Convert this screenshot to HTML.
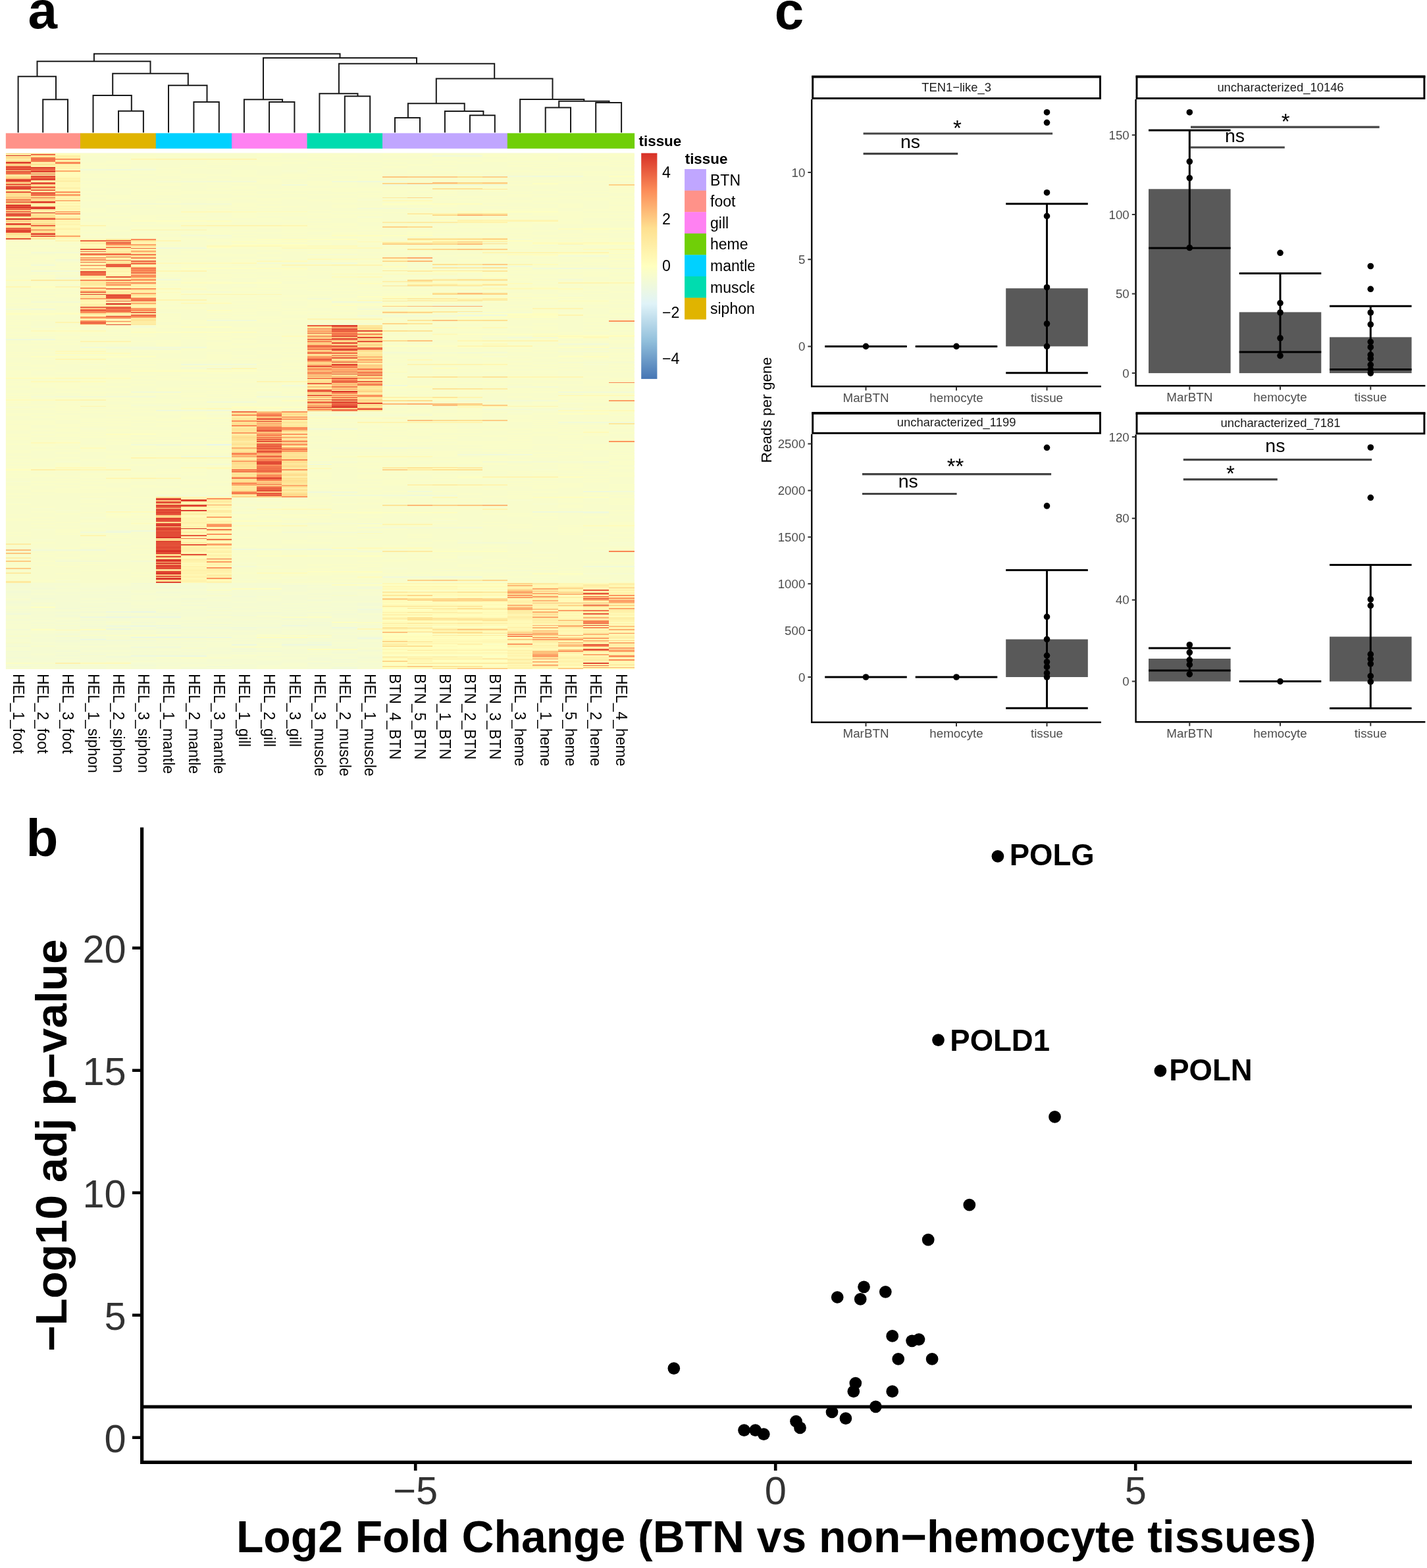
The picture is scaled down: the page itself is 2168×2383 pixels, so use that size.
<!DOCTYPE html><html><head><meta charset="utf-8"><title>figure</title><style>html,body{margin:0;padding:0;background:#fff}svg{display:block}text{font-family:"Liberation Sans",Arial,sans-serif}</style></head><body>
<svg width="2168" height="2383" viewBox="0 0 2168 2383">
<rect width="2168" height="2383" fill="#fff"/>
<text x="42.4" y="43" font-size="80" font-weight="bold">a</text>
<text x="1176.7" y="43.6" font-size="80" font-weight="bold">c</text>
<text x="39.5" y="1300.6" font-size="80" font-weight="bold">b</text>
<rect x="8.8" y="232.5" width="955" height="784.3" fill="#f8fccb"/>
<g shape-rendering="crispEdges">
<path fill="#fedb8d" d="M8.8 232.5h37.7v1.9h-37.7zM8.8 239h37.7v1.9h-37.7zM8.8 243.9h37.7v1.9h-37.7zM656.9 278.3h38v1.9h-38zM46.5 279.9h37.4v1.9h-37.4zM8.8 293h37.7v1.9h-37.7zM656.9 325.6h38v1.9h-38zM46.5 338.7h37.4v1.9h-37.4zM46.5 340.3h37.4v1.9h-37.4zM619 343.6h37.9v1.9h-37.9zM46.5 350.1h37.4v1.9h-37.4zM732.9 369.8h37.9v1.9h-37.9zM581 395.9h38v1.9h-38zM732.9 444.9h37.9v1.9h-37.9zM466.5 516.8h76.9v1.9h-76.9zM581 516.8h38v1.9h-38zM504.2 518.4h39.2v1.9h-39.2zM466.5 539.7h37.7v1.9h-37.7zM543.4 543h37.6v1.9h-37.6zM543.4 547.9h37.6v1.9h-37.6zM466.5 549.5h37.7v1.9h-37.7zM466.5 569.1h37.7v1.9h-37.7zM543.4 572.4h37.6v1.9h-37.6zM619 608.3h37.9v1.9h-37.9zM543.4 614.8h37.6v1.9h-37.6zM466.5 619.7h37.7v1.9h-37.7zM352 627.9h37.7v1.9h-37.7zM428.3 629.6h38.2v1.9h-38.2zM352 637.7h37.7v1.9h-37.7zM656.9 637.7h38v1.9h-38zM428.3 654.1h38.2v1.9h-38.2zM428.3 662.2h38.2v1.9h-38.2zM352 663.9h37.7v1.9h-37.7zM428.3 688.4h38.2v1.9h-38.2zM352 691.6h37.7v1.9h-37.7zM428.3 693.3h38.2v1.9h-38.2zM428.3 701.4h38.2v1.9h-38.2zM352 703.1h37.7v1.9h-37.7zM428.3 708h38.2v1.9h-38.2zM352 719.4h37.7v1.9h-37.7zM428.3 721.1h38.2v1.9h-38.2zM428.3 729.2h38.2v1.9h-38.2zM352 737.4h37.7v1.9h-37.7zM352 740.7h37.7v1.9h-37.7zM428.3 752.1h38.2v1.9h-38.2zM236.8 783.1h38.4v1.9h-38.4zM236.8 820.7h38.4v1.9h-38.4zM236.8 842h38.4v1.9h-38.4zM236.8 843.6h38.4v1.9h-38.4zM236.8 846.9h38.4v1.9h-38.4zM236.8 881.2h38.4v1.9h-38.4zM656.9 909h38v1.9h-38zM732.9 909h37.9v1.9h-37.9zM694.9 920.4h38v1.9h-38zM694.9 941.6h38v1.9h-38zM656.9 956.3h38v1.9h-38zM619 959.6h37.9v1.9h-37.9zM732.9 1000.5h37.9v1.9h-37.9z"/>
<path fill="#fee89b" d="M46.5 232.5h37.4v1.9h-37.4zM46.5 261.9h37.4v1.9h-37.4zM732.9 286.4h37.9v1.9h-37.9zM8.8 289.7h37.7v1.9h-37.7zM732.9 324h37.9v1.9h-37.9zM8.8 359.9h37.7v1.9h-37.7zM46.5 361.6h37.4v1.9h-37.4zM161 366.5h38v1.9h-38zM199 379.6h37.8v1.9h-37.8zM161 381.2h38v1.9h-38zM122 387.7h39v1.9h-39zM161 391h38v1.9h-38zM161 399.2h38v1.9h-38zM581 410.6h38v1.9h-38zM122 428.6h39v1.9h-39zM122 430.2h77v1.9h-77zM656.9 433.5h38v1.9h-38zM199 440h37.8v1.9h-37.8zM122 451.5h39v1.9h-39zM581 456.4h38v1.9h-38zM656.9 456.4h38v1.9h-38zM656.9 472.7h38v1.9h-38zM199 484.1h37.8v1.9h-37.8zM199 492.3h37.8v1.9h-37.8zM543.4 495.6h37.6v1.9h-37.6zM543.4 500.5h37.6v1.9h-37.6zM466.5 538.1h37.7v1.9h-37.7zM504.2 569.1h39.2v1.9h-39.2zM466.5 583.8h37.7v1.9h-37.7zM466.5 598.5h37.7v1.9h-37.7zM543.4 613.2h37.6v1.9h-37.6zM543.4 623h37.6v1.9h-37.6zM428.3 631.2h38.2v1.9h-38.2zM352 636.1h37.7v1.9h-37.7zM924.5 642.6h39.3v1.9h-39.3zM428.3 645.9h38.2v1.9h-38.2zM352 672h37.7v1.9h-37.7zM352 711.2h37.7v1.9h-37.7zM428.3 722.7h38.2v1.9h-38.2zM428.3 734.1h38.2v1.9h-38.2zM428.3 735.8h38.2v1.9h-38.2zM428.3 747.2h38.2v1.9h-38.2zM236.8 755.4h38.4v1.9h-38.4zM236.8 864.8h38.4v1.9h-38.4zM694.9 881.2h38v1.9h-38zM732.9 899.2h37.9v1.9h-37.9zM581 904.1h38v1.9h-38zM694.9 930.2h38v1.9h-38zM694.9 938.4h38v1.9h-38zM694.9 940h75.9v1.9h-75.9zM656.9 946.5h38v1.9h-38zM619 954.7h37.9v1.9h-37.9zM694.9 954.7h75.9v1.9h-75.9zM656.9 1000.5h76v1.9h-76zM656.9 1015.2h38v1.9h-38z"/>
<path fill="#fffcbb" d="M83.9 232.5h38.1v1.9h-38.1zM83.9 234.1h38.1v1.9h-38.1zM83.9 261.9h38.1v1.9h-38.1zM83.9 265.2h38.1v1.9h-38.1zM83.9 286.4h38.1v1.9h-38.1zM83.9 309.3h38.1v1.9h-38.1zM352 320.7h114.5v1.9h-114.5zM83.9 325.6h38.1v1.9h-38.1zM83.9 343.6h38.1v1.9h-38.1zM83.9 353.4h38.1v1.9h-38.1zM581 366.5h38v1.9h-38zM809.4 368.1h76.5v1.9h-76.5zM924.5 368.1h39.3v1.9h-39.3zM428.3 373h38.2v1.9h-38.2zM885.9 377.9h38.6v1.9h-38.6zM770.8 386.1h77.2v1.9h-77.2zM504.2 392.6h76.8v1.9h-76.8zM428.3 395.9h38.2v1.9h-38.2zM275.2 399.2h76.8v1.9h-76.8zM809.4 400.8h38.6v1.9h-38.6zM504.2 415.5h39.2v1.9h-39.2zM504.2 420.4h39.2v1.9h-39.2zM8.8 425.3h37.7v1.9h-37.7zM694.9 430.2h38v1.9h-38zM770.8 430.2h38.6v1.9h-38.6zM732.9 436.7h115.1v1.9h-115.1zM275.2 438.4h38.4v1.9h-38.4zM694.9 438.4h38v1.9h-38zM809.4 438.4h76.5v1.9h-76.5zM236.8 443.3h38.4v1.9h-38.4zM543.4 456.4h37.6v1.9h-37.6zM848 456.4h76.5v1.9h-76.5zM313.6 459.6h38.4v1.9h-38.4zM656.9 497.2h76v1.9h-76zM83.9 502.1h38.1v1.9h-38.1zM428.3 510.3h38.2v1.9h-38.2zM809.4 510.3h38.6v1.9h-38.6zM924.5 510.3h39.3v1.9h-39.3zM83.9 536.4h115.1v1.9h-115.1zM581 564.2h38v1.9h-38zM8.8 574h75.1v1.9h-75.1zM161 574h38v1.9h-38zM122 578.9h39v1.9h-39zM8.8 606.7h75.1v1.9h-75.1zM275.2 619.7h38.4v1.9h-38.4zM352 619.7h76.3v1.9h-76.3zM848 623h76.5v1.9h-76.5zM466.5 634.5h114.5v1.9h-114.5zM83.9 672h38.1v1.9h-38.1zM122 680.2h39v1.9h-39zM504.2 693.3h39.2v1.9h-39.2zM466.5 706.3h37.7v1.9h-37.7zM275.2 709.6h38.4v1.9h-38.4zM313.6 711.2h38.4v1.9h-38.4zM619 711.2h37.9v1.9h-37.9zM389.7 773.3h38.6v1.9h-38.6zM199 776.6h37.8v1.9h-37.8zM275.2 783.1h38.4v1.9h-38.4zM313.6 788h38.4v1.9h-38.4zM199 794.6h37.8v1.9h-37.8zM352 797.8h76.3v1.9h-76.3zM885.9 797.8h77.9v1.9h-77.9zM275.2 809.3h38.4v1.9h-38.4zM543.4 809.3h37.6v1.9h-37.6zM504.2 832.2h39.2v1.9h-39.2zM581 832.2h75.9v1.9h-75.9zM275.2 845.2h38.4v1.9h-38.4zM275.2 846.9h38.4v1.9h-38.4zM275.2 858.3h38.4v1.9h-38.4zM389.7 869.7h76.8v1.9h-76.8zM543.4 876.3h37.6v1.9h-37.6zM313.6 881.2h38.4v1.9h-38.4zM694.9 889.4h75.9v1.9h-75.9zM848 897.5h37.9v1.9h-37.9zM924.5 897.5h39.3v1.9h-39.3zM581 900.8h189.8v1.9h-189.8zM619 902.4h37.9v1.9h-37.9zM848 904.1h37.9v1.9h-37.9zM848 905.7h37.9v1.9h-37.9zM848 909h37.9v1.9h-37.9zM848 912.2h37.9v1.9h-37.9zM619 913.9h37.9v1.9h-37.9zM581 917.1h75.9v1.9h-75.9zM694.9 917.1h75.9v1.9h-75.9zM656.9 922h38v1.9h-38zM732.9 922h37.9v1.9h-37.9zM848 922h37.9v1.9h-37.9zM619 928.6h151.8v1.9h-151.8zM656.9 931.8h113.9v1.9h-113.9zM694.9 933.5h38v1.9h-38zM848 936.7h37.9v1.9h-37.9zM924.5 936.7h39.3v1.9h-39.3zM581 943.3h38v1.9h-38zM694.9 943.3h75.9v1.9h-75.9zM924.5 944.9h39.3v1.9h-39.3zM924.5 949.8h39.3v1.9h-39.3zM694.9 953.1h75.9v1.9h-75.9zM619 956.3h37.9v1.9h-37.9zM581 958h38v1.9h-38zM848 962.9h37.9v1.9h-37.9zM466.5 964.5h37.7v1.9h-37.7zM770.8 964.5h38.6v1.9h-38.6zM581 966.1h151.9v1.9h-151.9zM581 967.8h75.9v1.9h-75.9zM694.9 967.8h75.9v1.9h-75.9zM619 971h37.9v1.9h-37.9zM694.9 971h38v1.9h-38zM924.5 971h39.3v1.9h-39.3zM770.8 972.7h38.6v1.9h-38.6zM848 974.3h37.9v1.9h-37.9zM581 976h75.9v1.9h-75.9zM694.9 976h38v1.9h-38zM848 977.6h37.9v1.9h-37.9zM581 979.2h38v1.9h-38zM694.9 979.2h75.9v1.9h-75.9zM656.9 980.9h38v1.9h-38zM619 982.5h75.9v1.9h-75.9zM770.8 984.1h38.6v1.9h-38.6zM656.9 989h38v1.9h-38zM848 993.9h37.9v1.9h-37.9zM656.9 998.8h76v1.9h-76zM694.9 1003.7h38v1.9h-38zM770.8 1003.7h38.6v1.9h-38.6zM581 1008.6h38v1.9h-38zM656.9 1008.6h38v1.9h-38zM732.9 1008.6h37.9v1.9h-37.9zM848 1011.9h37.9v1.9h-37.9zM924.5 1011.9h39.3v1.9h-39.3z"/>
<path fill="#fafdc8" d="M275.2 232.5h38.4v1.9h-38.4zM389.7 232.5h76.8v1.9h-76.8zM581 232.5h38v1.9h-38zM885.9 232.5h38.6v1.9h-38.6zM122 234.1h39v1.9h-39zM389.7 234.1h38.6v1.9h-38.6zM466.5 234.1h37.7v1.9h-37.7zM581 234.1h75.9v1.9h-75.9zM732.9 234.1h37.9v1.9h-37.9zM809.4 234.1h38.6v1.9h-38.6zM885.9 234.1h77.9v1.9h-77.9zM199 235.8h76.2v1.9h-76.2zM389.7 235.8h38.6v1.9h-38.6zM504.2 235.8h39.2v1.9h-39.2zM732.9 235.8h76.5v1.9h-76.5zM848 235.8h37.9v1.9h-37.9zM924.5 235.8h39.3v1.9h-39.3zM161 237.4h75.8v1.9h-75.8zM389.7 237.4h38.6v1.9h-38.6zM466.5 237.4h37.7v1.9h-37.7zM732.9 237.4h37.9v1.9h-37.9zM809.4 237.4h38.6v1.9h-38.6zM885.9 237.4h38.6v1.9h-38.6zM199 239h37.8v1.9h-37.8zM275.2 239h38.4v1.9h-38.4zM656.9 239h38v1.9h-38zM770.8 239h77.2v1.9h-77.2zM389.7 240.7h114.5v1.9h-114.5zM581 240.7h75.9v1.9h-75.9zM694.9 240.7h153.1v1.9h-153.1zM885.9 240.7h38.6v1.9h-38.6zM389.7 242.3h38.6v1.9h-38.6zM466.5 242.3h37.7v1.9h-37.7zM732.9 242.3h115.1v1.9h-115.1zM885.9 242.3h38.6v1.9h-38.6zM161 243.9h38v1.9h-38zM313.6 243.9h38.4v1.9h-38.4zM504.2 243.9h76.8v1.9h-76.8zM656.9 243.9h38v1.9h-38zM732.9 243.9h37.9v1.9h-37.9zM924.5 243.9h39.3v1.9h-39.3zM161 245.6h38v1.9h-38zM313.6 245.6h152.9v1.9h-152.9zM656.9 245.6h76v1.9h-76zM848 245.6h76.5v1.9h-76.5zM122 247.2h77v1.9h-77zM389.7 247.2h76.8v1.9h-76.8zM581 247.2h38v1.9h-38zM694.9 247.2h38v1.9h-38zM770.8 247.2h193v1.9h-193zM122 248.8h39v1.9h-39zM313.6 248.8h114.7v1.9h-114.7zM504.2 248.8h39.2v1.9h-39.2zM619 248.8h75.9v1.9h-75.9zM848 248.8h76.5v1.9h-76.5zM275.2 250.5h38.4v1.9h-38.4zM389.7 250.5h38.6v1.9h-38.6zM543.4 250.5h37.6v1.9h-37.6zM619 250.5h37.9v1.9h-37.9zM770.8 250.5h77.2v1.9h-77.2zM885.9 250.5h77.9v1.9h-77.9zM122 252.1h77v1.9h-77zM581 252.1h38v1.9h-38zM770.8 252.1h38.6v1.9h-38.6zM848 252.1h37.9v1.9h-37.9zM924.5 252.1h39.3v1.9h-39.3zM122 253.7h39v1.9h-39zM275.2 253.7h38.4v1.9h-38.4zM466.5 253.7h37.7v1.9h-37.7zM581 253.7h38v1.9h-38zM656.9 253.7h38v1.9h-38zM809.4 253.7h38.6v1.9h-38.6zM161 255.4h38v1.9h-38zM236.8 255.4h38.4v1.9h-38.4zM313.6 255.4h38.4v1.9h-38.4zM504.2 255.4h76.8v1.9h-76.8zM161 258.6h114.2v1.9h-114.2zM352 258.6h37.7v1.9h-37.7zM466.5 258.6h37.7v1.9h-37.7zM619 258.6h37.9v1.9h-37.9zM694.9 258.6h114.5v1.9h-114.5zM161 260.3h38v1.9h-38zM236.8 260.3h38.4v1.9h-38.4zM504.2 260.3h76.8v1.9h-76.8zM656.9 260.3h38v1.9h-38zM770.8 260.3h193v1.9h-193zM199 261.9h76.2v1.9h-76.2zM352 261.9h37.7v1.9h-37.7zM466.5 261.9h114.5v1.9h-114.5zM619 261.9h37.9v1.9h-37.9zM694.9 261.9h38v1.9h-38zM885.9 261.9h77.9v1.9h-77.9zM122 263.5h39v1.9h-39zM275.2 263.5h38.4v1.9h-38.4zM428.3 263.5h38.2v1.9h-38.2zM581 263.5h38v1.9h-38zM656.9 263.5h38v1.9h-38zM809.4 263.5h38.6v1.9h-38.6zM122 265.2h77v1.9h-77zM236.8 265.2h152.9v1.9h-152.9zM428.3 265.2h38.2v1.9h-38.2zM504.2 265.2h76.8v1.9h-76.8zM656.9 265.2h38v1.9h-38zM885.9 265.2h38.6v1.9h-38.6zM352 266.8h152.2v1.9h-152.2zM543.4 266.8h37.6v1.9h-37.6zM122 268.4h114.8v1.9h-114.8zM275.2 268.4h38.4v1.9h-38.4zM389.7 268.4h38.6v1.9h-38.6zM924.5 268.4h39.3v1.9h-39.3zM428.3 270.1h38.2v1.9h-38.2zM543.4 270.1h75.6v1.9h-75.6zM732.9 270.1h37.9v1.9h-37.9zM236.8 271.7h38.4v1.9h-38.4zM313.6 271.7h38.4v1.9h-38.4zM389.7 271.7h38.6v1.9h-38.6zM504.2 271.7h76.8v1.9h-76.8zM656.9 271.7h76v1.9h-76zM924.5 271.7h39.3v1.9h-39.3zM161 273.3h38v1.9h-38zM389.7 273.3h38.6v1.9h-38.6zM504.2 273.3h39.2v1.9h-39.2zM656.9 273.3h113.9v1.9h-113.9zM809.4 273.3h38.6v1.9h-38.6zM924.5 273.3h39.3v1.9h-39.3zM122 275h39v1.9h-39zM389.7 275h38.6v1.9h-38.6zM466.5 275h37.7v1.9h-37.7zM732.9 275h76.5v1.9h-76.5zM848 275h76.5v1.9h-76.5zM161 276.6h75.8v1.9h-75.8zM313.6 276.6h114.7v1.9h-114.7zM466.5 276.6h76.9v1.9h-76.9zM581 276.6h38v1.9h-38zM848 276.6h37.9v1.9h-37.9zM161 278.3h38v1.9h-38zM236.8 278.3h76.8v1.9h-76.8zM352 278.3h152.2v1.9h-152.2zM848 278.3h37.9v1.9h-37.9zM122 279.9h39v1.9h-39zM236.8 279.9h38.4v1.9h-38.4zM466.5 279.9h76.9v1.9h-76.9zM770.8 279.9h77.2v1.9h-77.2zM236.8 281.5h38.4v1.9h-38.4zM313.6 281.5h38.4v1.9h-38.4zM619 281.5h75.9v1.9h-75.9zM732.9 281.5h76.5v1.9h-76.5zM848 281.5h115.8v1.9h-115.8zM122 283.2h114.8v1.9h-114.8zM352 283.2h37.7v1.9h-37.7zM428.3 283.2h38.2v1.9h-38.2zM694.9 283.2h38v1.9h-38zM924.5 283.2h39.3v1.9h-39.3zM352 284.8h37.7v1.9h-37.7zM504.2 284.8h76.8v1.9h-76.8zM732.9 284.8h37.9v1.9h-37.9zM924.5 284.8h39.3v1.9h-39.3zM313.6 286.4h76.1v1.9h-76.1zM428.3 286.4h152.7v1.9h-152.7zM199 288.1h76.2v1.9h-76.2zM389.7 288.1h267.2v1.9h-267.2zM732.9 288.1h37.9v1.9h-37.9zM809.4 288.1h38.6v1.9h-38.6zM924.5 288.1h39.3v1.9h-39.3zM122 289.7h39v1.9h-39zM275.2 289.7h38.4v1.9h-38.4zM352 289.7h37.7v1.9h-37.7zM504.2 289.7h39.2v1.9h-39.2zM581 289.7h38v1.9h-38zM656.9 289.7h38v1.9h-38zM732.9 289.7h37.9v1.9h-37.9zM848 289.7h115.8v1.9h-115.8zM122 291.3h39v1.9h-39zM199 291.3h153v1.9h-153zM581 291.3h38v1.9h-38zM656.9 291.3h38v1.9h-38zM770.8 291.3h38.6v1.9h-38.6zM848 291.3h37.9v1.9h-37.9zM924.5 291.3h39.3v1.9h-39.3zM199 293h190.7v1.9h-190.7zM428.3 293h38.2v1.9h-38.2zM543.4 293h151.5v1.9h-151.5zM199 294.6h76.2v1.9h-76.2zM352 294.6h76.3v1.9h-76.3zM466.5 294.6h76.9v1.9h-76.9zM619 294.6h37.9v1.9h-37.9zM770.8 294.6h77.2v1.9h-77.2zM885.9 294.6h38.6v1.9h-38.6zM122 296.2h77v1.9h-77zM543.4 296.2h75.6v1.9h-75.6zM656.9 296.2h38v1.9h-38zM770.8 296.2h38.6v1.9h-38.6zM122 297.9h114.8v1.9h-114.8zM543.4 297.9h37.6v1.9h-37.6zM694.9 297.9h114.5v1.9h-114.5zM848 297.9h37.9v1.9h-37.9zM924.5 297.9h39.3v1.9h-39.3zM161 299.5h38v1.9h-38zM236.8 299.5h38.4v1.9h-38.4zM352 299.5h37.7v1.9h-37.7zM428.3 299.5h38.2v1.9h-38.2zM656.9 299.5h76v1.9h-76zM809.4 299.5h38.6v1.9h-38.6zM885.9 299.5h77.9v1.9h-77.9zM161 301.1h75.8v1.9h-75.8zM275.2 301.1h191.3v1.9h-191.3zM504.2 301.1h39.2v1.9h-39.2zM732.9 301.1h37.9v1.9h-37.9zM809.4 301.1h115.1v1.9h-115.1zM122 302.8h39v1.9h-39zM313.6 302.8h38.4v1.9h-38.4zM389.7 302.8h38.6v1.9h-38.6zM466.5 302.8h37.7v1.9h-37.7zM694.9 302.8h38v1.9h-38zM809.4 302.8h38.6v1.9h-38.6zM885.9 302.8h77.9v1.9h-77.9zM122 304.4h77v1.9h-77zM389.7 304.4h38.6v1.9h-38.6zM466.5 304.4h114.5v1.9h-114.5zM656.9 304.4h38v1.9h-38zM732.9 304.4h76.5v1.9h-76.5zM236.8 306h38.4v1.9h-38.4zM504.2 306h39.2v1.9h-39.2zM619 306h37.9v1.9h-37.9zM732.9 306h76.5v1.9h-76.5zM924.5 306h39.3v1.9h-39.3zM161 307.7h38v1.9h-38zM236.8 307.7h38.4v1.9h-38.4zM313.6 307.7h114.7v1.9h-114.7zM619 307.7h37.9v1.9h-37.9zM809.4 307.7h38.6v1.9h-38.6zM924.5 307.7h39.3v1.9h-39.3zM352 309.3h37.7v1.9h-37.7zM848 309.3h37.9v1.9h-37.9zM924.5 309.3h39.3v1.9h-39.3zM161 310.9h114.2v1.9h-114.2zM352 310.9h37.7v1.9h-37.7zM504.2 310.9h39.2v1.9h-39.2zM581 310.9h38v1.9h-38zM656.9 310.9h38v1.9h-38zM732.9 310.9h37.9v1.9h-37.9zM848 310.9h37.9v1.9h-37.9zM161 312.6h38v1.9h-38zM236.8 312.6h38.4v1.9h-38.4zM352 312.6h114.5v1.9h-114.5zM504.2 312.6h76.8v1.9h-76.8zM656.9 312.6h38v1.9h-38zM848 312.6h37.9v1.9h-37.9zM924.5 312.6h39.3v1.9h-39.3zM313.6 314.2h38.4v1.9h-38.4zM389.7 314.2h38.6v1.9h-38.6zM504.2 314.2h39.2v1.9h-39.2zM619 314.2h37.9v1.9h-37.9zM770.8 314.2h38.6v1.9h-38.6zM848 314.2h37.9v1.9h-37.9zM924.5 314.2h39.3v1.9h-39.3zM122 315.8h39v1.9h-39zM352 315.8h37.7v1.9h-37.7zM809.4 315.8h38.6v1.9h-38.6zM924.5 315.8h39.3v1.9h-39.3zM122 317.5h39v1.9h-39zM199 317.5h37.8v1.9h-37.8zM275.2 317.5h38.4v1.9h-38.4zM389.7 317.5h38.6v1.9h-38.6zM581 317.5h38v1.9h-38zM656.9 317.5h38v1.9h-38zM732.9 317.5h115.1v1.9h-115.1zM885.9 317.5h77.9v1.9h-77.9zM122 319.1h39v1.9h-39zM313.6 319.1h38.4v1.9h-38.4zM466.5 319.1h37.7v1.9h-37.7zM732.9 319.1h115.1v1.9h-115.1zM885.9 319.1h77.9v1.9h-77.9zM122 320.7h39v1.9h-39zM504.2 320.7h76.8v1.9h-76.8zM848 320.7h37.9v1.9h-37.9zM275.2 322.4h38.4v1.9h-38.4zM389.7 322.4h76.8v1.9h-76.8zM581 322.4h75.9v1.9h-75.9zM732.9 322.4h153v1.9h-153zM161 324h38v1.9h-38zM352 324h37.7v1.9h-37.7zM466.5 324h37.7v1.9h-37.7zM809.4 324h154.4v1.9h-154.4zM236.8 325.6h38.4v1.9h-38.4zM352 325.6h229v1.9h-229zM619 325.6h37.9v1.9h-37.9zM809.4 325.6h76.5v1.9h-76.5zM199 327.3h114.6v1.9h-114.6zM352 327.3h37.7v1.9h-37.7zM428.3 327.3h38.2v1.9h-38.2zM619 327.3h37.9v1.9h-37.9zM732.9 327.3h76.5v1.9h-76.5zM848 327.3h76.5v1.9h-76.5zM122 328.9h114.8v1.9h-114.8zM352 328.9h37.7v1.9h-37.7zM466.5 328.9h76.9v1.9h-76.9zM656.9 328.9h76v1.9h-76zM848 328.9h115.8v1.9h-115.8zM122 330.5h306.3v1.9h-306.3zM466.5 330.5h37.7v1.9h-37.7zM732.9 330.5h37.9v1.9h-37.9zM809.4 330.5h76.5v1.9h-76.5zM199 332.2h37.8v1.9h-37.8zM389.7 332.2h38.6v1.9h-38.6zM543.4 332.2h37.6v1.9h-37.6zM732.9 332.2h76.5v1.9h-76.5zM848 332.2h37.9v1.9h-37.9zM161 333.8h152.6v1.9h-152.6zM466.5 333.8h37.7v1.9h-37.7zM924.5 333.8h39.3v1.9h-39.3zM352 335.4h114.5v1.9h-114.5zM543.4 335.4h37.6v1.9h-37.6zM848 335.4h37.9v1.9h-37.9zM122 337.1h77v1.9h-77zM236.8 337.1h38.4v1.9h-38.4zM313.6 337.1h38.4v1.9h-38.4zM809.4 337.1h76.5v1.9h-76.5zM122 338.7h77v1.9h-77zM236.8 338.7h115.2v1.9h-115.2zM466.5 338.7h76.9v1.9h-76.9zM732.9 338.7h153v1.9h-153zM122 340.3h114.8v1.9h-114.8zM428.3 340.3h38.2v1.9h-38.2zM504.2 340.3h39.2v1.9h-39.2zM694.9 340.3h38v1.9h-38zM770.8 340.3h38.6v1.9h-38.6zM885.9 340.3h38.6v1.9h-38.6zM161 342h38v1.9h-38zM466.5 342h76.9v1.9h-76.9zM581 342h75.9v1.9h-75.9zM770.8 342h38.6v1.9h-38.6zM428.3 343.6h75.9v1.9h-75.9zM543.4 343.6h37.6v1.9h-37.6zM656.9 343.6h152.5v1.9h-152.5zM122 345.2h39v1.9h-39zM199 345.2h76.2v1.9h-76.2zM352 345.2h191.4v1.9h-191.4zM581 345.2h38v1.9h-38zM694.9 345.2h38v1.9h-38zM885.9 345.2h77.9v1.9h-77.9zM122 346.9h39v1.9h-39zM199 346.9h76.2v1.9h-76.2zM313.6 346.9h76.1v1.9h-76.1zM428.3 346.9h38.2v1.9h-38.2zM543.4 346.9h37.6v1.9h-37.6zM656.9 346.9h38v1.9h-38zM122 348.5h39v1.9h-39zM466.5 348.5h76.9v1.9h-76.9zM581 348.5h38v1.9h-38zM656.9 348.5h152.5v1.9h-152.5zM885.9 348.5h38.6v1.9h-38.6zM161 350.1h38v1.9h-38zM313.6 350.1h38.4v1.9h-38.4zM428.3 350.1h75.9v1.9h-75.9zM619 350.1h37.9v1.9h-37.9zM732.9 350.1h115.1v1.9h-115.1zM885.9 350.1h38.6v1.9h-38.6zM122 351.8h39v1.9h-39zM275.2 351.8h114.5v1.9h-114.5zM428.3 351.8h38.2v1.9h-38.2zM543.4 351.8h266v1.9h-266zM885.9 351.8h77.9v1.9h-77.9zM122 353.4h39v1.9h-39zM236.8 353.4h115.2v1.9h-115.2zM389.7 353.4h38.6v1.9h-38.6zM504.2 353.4h39.2v1.9h-39.2zM581 353.4h38v1.9h-38zM656.9 353.4h76v1.9h-76zM199 355h37.8v1.9h-37.8zM313.6 355h38.4v1.9h-38.4zM428.3 355h38.2v1.9h-38.2zM504.2 355h39.2v1.9h-39.2zM619 355h37.9v1.9h-37.9zM694.9 355h38v1.9h-38zM770.8 355h38.6v1.9h-38.6zM848 355h37.9v1.9h-37.9zM199 356.7h37.8v1.9h-37.8zM352 356.7h37.7v1.9h-37.7zM466.5 356.7h37.7v1.9h-37.7zM770.8 356.7h77.2v1.9h-77.2zM122 358.3h114.8v1.9h-114.8zM275.2 358.3h38.4v1.9h-38.4zM428.3 358.3h38.2v1.9h-38.2zM543.4 358.3h37.6v1.9h-37.6zM656.9 358.3h113.9v1.9h-113.9zM809.4 358.3h115.1v1.9h-115.1zM199 359.9h76.2v1.9h-76.2zM466.5 359.9h37.7v1.9h-37.7zM732.9 359.9h76.5v1.9h-76.5zM236.8 361.6h76.8v1.9h-76.8zM352 361.6h37.7v1.9h-37.7zM504.2 361.6h76.8v1.9h-76.8zM770.8 361.6h38.6v1.9h-38.6zM885.9 361.6h77.9v1.9h-77.9zM8.8 363.2h37.7v1.9h-37.7zM83.9 363.2h38.1v1.9h-38.1zM313.6 363.2h38.4v1.9h-38.4zM543.4 363.2h37.6v1.9h-37.6zM809.4 363.2h115.1v1.9h-115.1zM8.8 364.9h37.7v1.9h-37.7zM313.6 364.9h152.9v1.9h-152.9zM543.4 364.9h37.6v1.9h-37.6zM809.4 364.9h38.6v1.9h-38.6zM885.9 364.9h38.6v1.9h-38.6zM8.8 366.5h75.1v1.9h-75.1zM313.6 366.5h38.4v1.9h-38.4zM466.5 366.5h76.9v1.9h-76.9zM770.8 366.5h38.6v1.9h-38.6zM8.8 368.1h113.2v1.9h-113.2zM352 368.1h76.3v1.9h-76.3zM466.5 368.1h37.7v1.9h-37.7zM543.4 368.1h37.6v1.9h-37.6zM46.5 369.8h37.4v1.9h-37.4zM236.8 369.8h38.4v1.9h-38.4zM466.5 369.8h37.7v1.9h-37.7zM770.8 369.8h38.6v1.9h-38.6zM8.8 371.4h75.1v1.9h-75.1zM236.8 371.4h38.4v1.9h-38.4zM313.6 371.4h38.4v1.9h-38.4zM543.4 371.4h37.6v1.9h-37.6zM656.9 371.4h152.5v1.9h-152.5zM83.9 373h38.1v1.9h-38.1zM694.9 373h38v1.9h-38zM770.8 373h115.1v1.9h-115.1zM8.8 374.7h37.7v1.9h-37.7zM236.8 374.7h38.4v1.9h-38.4zM504.2 374.7h39.2v1.9h-39.2zM581 374.7h113.9v1.9h-113.9zM848 374.7h37.9v1.9h-37.9zM924.5 374.7h39.3v1.9h-39.3zM46.5 376.3h37.4v1.9h-37.4zM313.6 376.3h114.7v1.9h-114.7zM581 376.3h228.4v1.9h-228.4zM8.8 377.9h113.2v1.9h-113.2zM389.7 377.9h38.6v1.9h-38.6zM466.5 377.9h37.7v1.9h-37.7zM809.4 377.9h76.5v1.9h-76.5zM46.5 379.6h37.4v1.9h-37.4zM428.3 379.6h115.1v1.9h-115.1zM656.9 379.6h113.9v1.9h-113.9zM924.5 379.6h39.3v1.9h-39.3zM8.8 381.2h37.7v1.9h-37.7zM275.2 381.2h38.4v1.9h-38.4zM504.2 381.2h39.2v1.9h-39.2zM924.5 381.2h39.3v1.9h-39.3zM8.8 382.8h37.7v1.9h-37.7zM275.2 382.8h38.4v1.9h-38.4zM389.7 382.8h38.6v1.9h-38.6zM466.5 382.8h190.4v1.9h-190.4zM924.5 382.8h39.3v1.9h-39.3zM8.8 384.5h37.7v1.9h-37.7zM83.9 384.5h38.1v1.9h-38.1zM313.6 384.5h38.4v1.9h-38.4zM389.7 384.5h38.6v1.9h-38.6zM466.5 384.5h37.7v1.9h-37.7zM619 384.5h37.9v1.9h-37.9zM83.9 386.1h38.1v1.9h-38.1zM313.6 386.1h76.1v1.9h-76.1zM619 386.1h37.9v1.9h-37.9zM694.9 386.1h38v1.9h-38zM848 386.1h76.5v1.9h-76.5zM46.5 387.7h75.5v1.9h-75.5zM236.8 387.7h152.9v1.9h-152.9zM466.5 387.7h76.9v1.9h-76.9zM656.9 387.7h113.9v1.9h-113.9zM809.4 387.7h38.6v1.9h-38.6zM924.5 387.7h39.3v1.9h-39.3zM8.8 389.4h75.1v1.9h-75.1zM236.8 389.4h76.8v1.9h-76.8zM543.4 389.4h75.6v1.9h-75.6zM732.9 389.4h37.9v1.9h-37.9zM848 389.4h37.9v1.9h-37.9zM924.5 389.4h39.3v1.9h-39.3zM46.5 391h75.5v1.9h-75.5zM389.7 391h38.6v1.9h-38.6zM732.9 391h37.9v1.9h-37.9zM8.8 392.6h75.1v1.9h-75.1zM236.8 392.6h76.8v1.9h-76.8zM732.9 392.6h37.9v1.9h-37.9zM809.4 392.6h38.6v1.9h-38.6zM352 394.3h37.7v1.9h-37.7zM543.4 394.3h37.6v1.9h-37.6zM694.9 394.3h114.5v1.9h-114.5zM885.9 394.3h38.6v1.9h-38.6zM8.8 395.9h75.1v1.9h-75.1zM352 395.9h37.7v1.9h-37.7zM504.2 395.9h39.2v1.9h-39.2zM694.9 395.9h75.9v1.9h-75.9zM809.4 395.9h38.6v1.9h-38.6zM885.9 395.9h38.6v1.9h-38.6zM46.5 397.5h37.4v1.9h-37.4zM352 397.5h114.5v1.9h-114.5zM581 397.5h38v1.9h-38zM694.9 397.5h38v1.9h-38zM770.8 397.5h38.6v1.9h-38.6zM848 397.5h115.8v1.9h-115.8zM8.8 399.2h37.7v1.9h-37.7zM83.9 399.2h38.1v1.9h-38.1zM543.4 399.2h75.6v1.9h-75.6zM656.9 399.2h38v1.9h-38zM848 399.2h37.9v1.9h-37.9zM924.5 399.2h39.3v1.9h-39.3zM83.9 400.8h38.1v1.9h-38.1zM389.7 400.8h38.6v1.9h-38.6zM466.5 400.8h37.7v1.9h-37.7zM543.4 400.8h37.6v1.9h-37.6zM885.9 400.8h38.6v1.9h-38.6zM8.8 402.4h37.7v1.9h-37.7zM275.2 402.4h76.8v1.9h-76.8zM389.7 402.4h38.6v1.9h-38.6zM694.9 402.4h38v1.9h-38zM924.5 402.4h39.3v1.9h-39.3zM8.8 404.1h113.2v1.9h-113.2zM275.2 404.1h38.4v1.9h-38.4zM352 404.1h37.7v1.9h-37.7zM809.4 404.1h76.5v1.9h-76.5zM924.5 404.1h39.3v1.9h-39.3zM83.9 405.7h38.1v1.9h-38.1zM236.8 405.7h38.4v1.9h-38.4zM313.6 405.7h38.4v1.9h-38.4zM504.2 405.7h39.2v1.9h-39.2zM581 405.7h38v1.9h-38zM770.8 405.7h38.6v1.9h-38.6zM848 405.7h37.9v1.9h-37.9zM924.5 405.7h39.3v1.9h-39.3zM46.5 407.3h37.4v1.9h-37.4zM236.8 407.3h38.4v1.9h-38.4zM504.2 407.3h39.2v1.9h-39.2zM656.9 407.3h38v1.9h-38zM83.9 409h38.1v1.9h-38.1zM275.2 409h38.4v1.9h-38.4zM428.3 409h38.2v1.9h-38.2zM581 409h75.9v1.9h-75.9zM770.8 409h38.6v1.9h-38.6zM848 409h115.8v1.9h-115.8zM389.7 410.6h76.8v1.9h-76.8zM504.2 410.6h39.2v1.9h-39.2zM809.4 410.6h38.6v1.9h-38.6zM83.9 412.2h38.1v1.9h-38.1zM313.6 412.2h76.1v1.9h-76.1zM466.5 412.2h37.7v1.9h-37.7zM581 412.2h38v1.9h-38zM732.9 412.2h115.1v1.9h-115.1zM885.9 412.2h38.6v1.9h-38.6zM46.5 413.9h37.4v1.9h-37.4zM236.8 413.9h38.4v1.9h-38.4zM428.3 413.9h38.2v1.9h-38.2zM504.2 413.9h152.7v1.9h-152.7zM732.9 413.9h230.9v1.9h-230.9zM275.2 415.5h76.8v1.9h-76.8zM466.5 415.5h37.7v1.9h-37.7zM732.9 415.5h37.9v1.9h-37.9zM809.4 415.5h154.4v1.9h-154.4zM46.5 417.1h37.4v1.9h-37.4zM313.6 417.1h76.1v1.9h-76.1zM428.3 417.1h38.2v1.9h-38.2zM732.9 417.1h37.9v1.9h-37.9zM885.9 417.1h38.6v1.9h-38.6zM8.8 418.8h75.1v1.9h-75.1zM236.8 418.8h38.4v1.9h-38.4zM313.6 418.8h38.4v1.9h-38.4zM389.7 418.8h38.6v1.9h-38.6zM543.4 418.8h37.6v1.9h-37.6zM694.9 418.8h38v1.9h-38zM770.8 418.8h38.6v1.9h-38.6zM885.9 418.8h38.6v1.9h-38.6zM8.8 420.4h37.7v1.9h-37.7zM352 420.4h37.7v1.9h-37.7zM809.4 420.4h76.5v1.9h-76.5zM924.5 420.4h39.3v1.9h-39.3zM46.5 422h37.4v1.9h-37.4zM275.2 422h76.8v1.9h-76.8zM428.3 422h38.2v1.9h-38.2zM581 422h75.9v1.9h-75.9zM732.9 422h76.5v1.9h-76.5zM924.5 422h39.3v1.9h-39.3zM46.5 423.7h37.4v1.9h-37.4zM275.2 423.7h38.4v1.9h-38.4zM389.7 423.7h38.6v1.9h-38.6zM466.5 423.7h76.9v1.9h-76.9zM619 423.7h37.9v1.9h-37.9zM770.8 423.7h38.6v1.9h-38.6zM389.7 425.3h76.8v1.9h-76.8zM770.8 425.3h77.2v1.9h-77.2zM236.8 426.9h115.2v1.9h-115.2zM389.7 426.9h38.6v1.9h-38.6zM504.2 426.9h76.8v1.9h-76.8zM656.9 426.9h38v1.9h-38zM885.9 426.9h77.9v1.9h-77.9zM46.5 428.6h75.5v1.9h-75.5zM466.5 428.6h114.5v1.9h-114.5zM656.9 428.6h113.9v1.9h-113.9zM809.4 428.6h38.6v1.9h-38.6zM83.9 430.2h38.1v1.9h-38.1zM313.6 430.2h38.4v1.9h-38.4zM581 430.2h38v1.9h-38zM809.4 430.2h38.6v1.9h-38.6zM46.5 431.8h37.4v1.9h-37.4zM236.8 431.8h76.8v1.9h-76.8zM389.7 431.8h114.5v1.9h-114.5zM885.9 431.8h77.9v1.9h-77.9zM428.3 433.5h38.2v1.9h-38.2zM543.4 433.5h37.6v1.9h-37.6zM770.8 433.5h77.2v1.9h-77.2zM885.9 433.5h38.6v1.9h-38.6zM389.7 435.1h76.8v1.9h-76.8zM504.2 435.1h39.2v1.9h-39.2zM809.4 435.1h38.6v1.9h-38.6zM46.5 436.7h75.5v1.9h-75.5zM236.8 436.7h76.8v1.9h-76.8zM352 436.7h37.7v1.9h-37.7zM466.5 436.7h37.7v1.9h-37.7zM581 436.7h75.9v1.9h-75.9zM694.9 436.7h38v1.9h-38zM46.5 438.4h37.4v1.9h-37.4zM352 438.4h37.7v1.9h-37.7zM428.3 438.4h38.2v1.9h-38.2zM543.4 438.4h37.6v1.9h-37.6zM656.9 438.4h38v1.9h-38zM8.8 440h37.7v1.9h-37.7zM236.8 440h38.4v1.9h-38.4zM313.6 440h76.1v1.9h-76.1zM466.5 440h76.9v1.9h-76.9zM848 440h76.5v1.9h-76.5zM8.8 441.6h37.7v1.9h-37.7zM236.8 441.6h38.4v1.9h-38.4zM389.7 441.6h38.6v1.9h-38.6zM581 441.6h75.9v1.9h-75.9zM732.9 441.6h37.9v1.9h-37.9zM848 441.6h37.9v1.9h-37.9zM924.5 441.6h39.3v1.9h-39.3zM46.5 443.3h75.5v1.9h-75.5zM543.4 443.3h37.6v1.9h-37.6zM619 443.3h75.9v1.9h-75.9zM848 443.3h37.9v1.9h-37.9zM924.5 443.3h39.3v1.9h-39.3zM8.8 444.9h37.7v1.9h-37.7zM236.8 444.9h152.9v1.9h-152.9zM504.2 444.9h39.2v1.9h-39.2zM581 444.9h38v1.9h-38zM770.8 444.9h38.6v1.9h-38.6zM885.9 444.9h38.6v1.9h-38.6zM83.9 446.5h38.1v1.9h-38.1zM236.8 446.5h38.4v1.9h-38.4zM543.4 446.5h113.5v1.9h-113.5zM770.8 446.5h77.2v1.9h-77.2zM8.8 448.2h113.2v1.9h-113.2zM236.8 448.2h38.4v1.9h-38.4zM313.6 448.2h38.4v1.9h-38.4zM428.3 448.2h75.9v1.9h-75.9zM581 448.2h113.9v1.9h-113.9zM732.9 448.2h115.1v1.9h-115.1zM8.8 449.8h37.7v1.9h-37.7zM83.9 449.8h38.1v1.9h-38.1zM236.8 449.8h38.4v1.9h-38.4zM313.6 449.8h76.1v1.9h-76.1zM428.3 449.8h38.2v1.9h-38.2zM694.9 449.8h38v1.9h-38zM236.8 451.5h38.4v1.9h-38.4zM389.7 451.5h38.6v1.9h-38.6zM581 451.5h38v1.9h-38zM656.9 451.5h38v1.9h-38zM885.9 451.5h38.6v1.9h-38.6zM46.5 453.1h37.4v1.9h-37.4zM236.8 453.1h38.4v1.9h-38.4zM389.7 453.1h38.6v1.9h-38.6zM504.2 453.1h76.8v1.9h-76.8zM770.8 453.1h77.2v1.9h-77.2zM8.8 454.7h37.7v1.9h-37.7zM313.6 454.7h76.1v1.9h-76.1zM428.3 454.7h115.1v1.9h-115.1zM581 454.7h75.9v1.9h-75.9zM848 454.7h115.8v1.9h-115.8zM236.8 456.4h76.8v1.9h-76.8zM389.7 456.4h38.6v1.9h-38.6zM466.5 456.4h76.9v1.9h-76.9zM770.8 456.4h38.6v1.9h-38.6zM8.8 458h37.7v1.9h-37.7zM313.6 458h38.4v1.9h-38.4zM466.5 458h37.7v1.9h-37.7zM656.9 458h38v1.9h-38zM732.9 458h37.9v1.9h-37.9zM809.4 458h115.1v1.9h-115.1zM236.8 459.6h38.4v1.9h-38.4zM352 459.6h76.3v1.9h-76.3zM504.2 459.6h39.2v1.9h-39.2zM581 459.6h38v1.9h-38zM848 459.6h115.8v1.9h-115.8zM46.5 461.3h75.5v1.9h-75.5zM236.8 461.3h38.4v1.9h-38.4zM352 461.3h37.7v1.9h-37.7zM466.5 461.3h190.4v1.9h-190.4zM809.4 461.3h115.1v1.9h-115.1zM8.8 462.9h37.7v1.9h-37.7zM83.9 462.9h38.1v1.9h-38.1zM389.7 462.9h38.6v1.9h-38.6zM466.5 462.9h37.7v1.9h-37.7zM770.8 462.9h38.6v1.9h-38.6zM352 464.5h37.7v1.9h-37.7zM428.3 464.5h75.9v1.9h-75.9zM732.9 464.5h37.9v1.9h-37.9zM848 464.5h37.9v1.9h-37.9zM46.5 466.2h37.4v1.9h-37.4zM236.8 466.2h76.8v1.9h-76.8zM389.7 466.2h38.6v1.9h-38.6zM466.5 466.2h76.9v1.9h-76.9zM885.9 466.2h38.6v1.9h-38.6zM236.8 467.8h76.8v1.9h-76.8zM389.7 467.8h76.8v1.9h-76.8zM504.2 467.8h39.2v1.9h-39.2zM770.8 467.8h38.6v1.9h-38.6zM924.5 467.8h39.3v1.9h-39.3zM352 469.4h37.7v1.9h-37.7zM428.3 469.4h38.2v1.9h-38.2zM504.2 469.4h39.2v1.9h-39.2zM732.9 469.4h115.1v1.9h-115.1zM8.8 471.1h75.1v1.9h-75.1zM352 471.1h76.3v1.9h-76.3zM543.4 471.1h37.6v1.9h-37.6zM619 471.1h37.9v1.9h-37.9zM732.9 471.1h37.9v1.9h-37.9zM809.4 471.1h38.6v1.9h-38.6zM924.5 471.1h39.3v1.9h-39.3zM46.5 472.7h37.4v1.9h-37.4zM352 472.7h37.7v1.9h-37.7zM428.3 472.7h75.9v1.9h-75.9zM732.9 472.7h37.9v1.9h-37.9zM809.4 472.7h38.6v1.9h-38.6zM924.5 472.7h39.3v1.9h-39.3zM8.8 474.3h37.7v1.9h-37.7zM83.9 474.3h38.1v1.9h-38.1zM313.6 474.3h38.4v1.9h-38.4zM428.3 474.3h115.1v1.9h-115.1zM809.4 474.3h38.6v1.9h-38.6zM924.5 474.3h39.3v1.9h-39.3zM236.8 476h38.4v1.9h-38.4zM352 476h37.7v1.9h-37.7zM428.3 476h38.2v1.9h-38.2zM504.2 476h39.2v1.9h-39.2zM581 476h75.9v1.9h-75.9zM848 476h37.9v1.9h-37.9zM8.8 477.6h75.1v1.9h-75.1zM236.8 477.6h38.4v1.9h-38.4zM313.6 477.6h38.4v1.9h-38.4zM466.5 477.6h37.7v1.9h-37.7zM656.9 477.6h38v1.9h-38zM885.9 477.6h38.6v1.9h-38.6zM466.5 479.2h37.7v1.9h-37.7zM809.4 479.2h38.6v1.9h-38.6zM924.5 479.2h39.3v1.9h-39.3zM236.8 480.9h38.4v1.9h-38.4zM313.6 480.9h114.7v1.9h-114.7zM8.8 482.5h37.7v1.9h-37.7zM428.3 482.5h38.2v1.9h-38.2zM885.9 482.5h38.6v1.9h-38.6zM236.8 484.1h38.4v1.9h-38.4zM352 484.1h114.5v1.9h-114.5zM581 484.1h38v1.9h-38zM656.9 484.1h191.1v1.9h-191.1zM885.9 484.1h77.9v1.9h-77.9zM8.8 485.8h113.2v1.9h-113.2zM275.2 485.8h38.4v1.9h-38.4zM389.7 485.8h38.6v1.9h-38.6zM543.4 485.8h37.6v1.9h-37.6zM924.5 485.8h39.3v1.9h-39.3zM236.8 487.4h191.5v1.9h-191.5zM619 487.4h113.9v1.9h-113.9zM885.9 487.4h38.6v1.9h-38.6zM8.8 489h37.7v1.9h-37.7zM275.2 489h153.1v1.9h-153.1zM466.5 489h37.7v1.9h-37.7zM543.4 489h113.5v1.9h-113.5zM694.9 489h75.9v1.9h-75.9zM8.8 490.7h37.7v1.9h-37.7zM275.2 490.7h38.4v1.9h-38.4zM656.9 490.7h76v1.9h-76zM809.4 490.7h38.6v1.9h-38.6zM8.8 492.3h37.7v1.9h-37.7zM504.2 492.3h152.7v1.9h-152.7zM732.9 492.3h37.9v1.9h-37.9zM809.4 492.3h38.6v1.9h-38.6zM885.9 492.3h38.6v1.9h-38.6zM122 493.9h77v1.9h-77zM236.8 493.9h38.4v1.9h-38.4zM428.3 493.9h38.2v1.9h-38.2zM581 493.9h75.9v1.9h-75.9zM732.9 493.9h37.9v1.9h-37.9zM8.8 495.6h37.7v1.9h-37.7zM161 495.6h38v1.9h-38zM236.8 495.6h38.4v1.9h-38.4zM694.9 495.6h38v1.9h-38zM770.8 495.6h77.2v1.9h-77.2zM924.5 495.6h39.3v1.9h-39.3zM8.8 497.2h37.7v1.9h-37.7zM83.9 497.2h38.1v1.9h-38.1zM161 497.2h114.2v1.9h-114.2zM313.6 497.2h114.7v1.9h-114.7zM619 497.2h37.9v1.9h-37.9zM809.4 497.2h38.6v1.9h-38.6zM885.9 497.2h38.6v1.9h-38.6zM46.5 498.8h75.5v1.9h-75.5zM161 498.8h75.8v1.9h-75.8zM352 498.8h37.7v1.9h-37.7zM581 498.8h75.9v1.9h-75.9zM694.9 498.8h38v1.9h-38zM809.4 498.8h38.6v1.9h-38.6zM924.5 498.8h39.3v1.9h-39.3zM8.8 500.5h37.7v1.9h-37.7zM199 500.5h76.2v1.9h-76.2zM313.6 500.5h38.4v1.9h-38.4zM389.7 500.5h76.8v1.9h-76.8zM694.9 500.5h38v1.9h-38zM809.4 500.5h38.6v1.9h-38.6zM885.9 500.5h38.6v1.9h-38.6zM199 502.1h37.8v1.9h-37.8zM656.9 502.1h113.9v1.9h-113.9zM885.9 502.1h38.6v1.9h-38.6zM83.9 503.7h77.1v1.9h-77.1zM581 503.7h38v1.9h-38zM8.8 505.4h228v1.9h-228zM389.7 505.4h38.6v1.9h-38.6zM848 505.4h37.9v1.9h-37.9zM924.5 505.4h39.3v1.9h-39.3zM313.6 507h38.4v1.9h-38.4zM428.3 507h38.2v1.9h-38.2zM619 507h37.9v1.9h-37.9zM46.5 508.6h37.4v1.9h-37.4zM122 508.6h114.8v1.9h-114.8zM313.6 508.6h38.4v1.9h-38.4zM389.7 508.6h38.6v1.9h-38.6zM656.9 508.6h38v1.9h-38zM770.8 508.6h38.6v1.9h-38.6zM8.8 510.3h37.7v1.9h-37.7zM83.9 510.3h38.1v1.9h-38.1zM199 510.3h37.8v1.9h-37.8zM275.2 510.3h38.4v1.9h-38.4zM352 510.3h37.7v1.9h-37.7zM581 510.3h38v1.9h-38zM656.9 510.3h76v1.9h-76zM83.9 511.9h38.1v1.9h-38.1zM313.6 511.9h76.1v1.9h-76.1zM581 511.9h113.9v1.9h-113.9zM8.8 513.5h37.7v1.9h-37.7zM83.9 513.5h38.1v1.9h-38.1zM275.2 513.5h76.8v1.9h-76.8zM428.3 513.5h38.2v1.9h-38.2zM656.9 513.5h76v1.9h-76zM809.4 513.5h115.1v1.9h-115.1zM161 515.2h38v1.9h-38zM313.6 515.2h38.4v1.9h-38.4zM428.3 515.2h38.2v1.9h-38.2zM581 515.2h151.9v1.9h-151.9zM809.4 515.2h38.6v1.9h-38.6zM885.9 515.2h38.6v1.9h-38.6zM122 516.8h39v1.9h-39zM236.8 516.8h38.4v1.9h-38.4zM352 516.8h37.7v1.9h-37.7zM885.9 516.8h77.9v1.9h-77.9zM46.5 518.4h75.5v1.9h-75.5zM199 518.4h37.8v1.9h-37.8zM352 518.4h37.7v1.9h-37.7zM428.3 518.4h38.2v1.9h-38.2zM619 518.4h37.9v1.9h-37.9zM694.9 518.4h38v1.9h-38zM848 518.4h37.9v1.9h-37.9zM924.5 518.4h39.3v1.9h-39.3zM161 520.1h38v1.9h-38zM236.8 520.1h38.4v1.9h-38.4zM313.6 520.1h76.1v1.9h-76.1zM581 520.1h38v1.9h-38zM694.9 520.1h75.9v1.9h-75.9zM848 520.1h37.9v1.9h-37.9zM924.5 520.1h39.3v1.9h-39.3zM83.9 521.7h38.1v1.9h-38.1zM236.8 521.7h38.4v1.9h-38.4zM313.6 521.7h38.4v1.9h-38.4zM619 521.7h113.9v1.9h-113.9zM809.4 521.7h38.6v1.9h-38.6zM8.8 523.3h75.1v1.9h-75.1zM236.8 523.3h38.4v1.9h-38.4zM313.6 523.3h38.4v1.9h-38.4zM389.7 523.3h76.8v1.9h-76.8zM694.9 523.3h153.1v1.9h-153.1zM122 525h39v1.9h-39zM236.8 525h38.4v1.9h-38.4zM313.6 525h152.9v1.9h-152.9zM352 526.6h37.7v1.9h-37.7zM732.9 526.6h115.1v1.9h-115.1zM924.5 526.6h39.3v1.9h-39.3zM122 528.2h39v1.9h-39zM313.6 528.2h38.4v1.9h-38.4zM656.9 528.2h38v1.9h-38zM770.8 528.2h38.6v1.9h-38.6zM46.5 529.9h37.4v1.9h-37.4zM122 529.9h39v1.9h-39zM275.2 529.9h38.4v1.9h-38.4zM428.3 529.9h38.2v1.9h-38.2zM581 529.9h38v1.9h-38zM732.9 529.9h37.9v1.9h-37.9zM809.4 529.9h38.6v1.9h-38.6zM924.5 529.9h39.3v1.9h-39.3zM199 531.5h114.6v1.9h-114.6zM352 531.5h37.7v1.9h-37.7zM581 531.5h38v1.9h-38zM732.9 531.5h76.5v1.9h-76.5zM199 533.1h76.2v1.9h-76.2zM389.7 533.1h76.8v1.9h-76.8zM619 533.1h113.9v1.9h-113.9zM770.8 533.1h38.6v1.9h-38.6zM8.8 534.8h75.1v1.9h-75.1zM236.8 534.8h38.4v1.9h-38.4zM313.6 534.8h38.4v1.9h-38.4zM809.4 534.8h38.6v1.9h-38.6zM199 536.4h37.8v1.9h-37.8zM389.7 536.4h38.6v1.9h-38.6zM732.9 536.4h37.9v1.9h-37.9zM885.9 536.4h77.9v1.9h-77.9zM8.8 538.1h37.7v1.9h-37.7zM161 538.1h38v1.9h-38zM313.6 538.1h38.4v1.9h-38.4zM428.3 538.1h38.2v1.9h-38.2zM656.9 538.1h113.9v1.9h-113.9zM885.9 538.1h77.9v1.9h-77.9zM199 539.7h37.8v1.9h-37.8zM313.6 539.7h76.1v1.9h-76.1zM581 539.7h113.9v1.9h-113.9zM848 539.7h37.9v1.9h-37.9zM8.8 541.3h37.7v1.9h-37.7zM313.6 541.3h38.4v1.9h-38.4zM581 541.3h75.9v1.9h-75.9zM694.9 541.3h38v1.9h-38zM770.8 541.3h38.6v1.9h-38.6zM924.5 541.3h39.3v1.9h-39.3zM161 543h38v1.9h-38zM313.6 543h38.4v1.9h-38.4zM428.3 543h38.2v1.9h-38.2zM694.9 543h75.9v1.9h-75.9zM809.4 543h38.6v1.9h-38.6zM885.9 543h38.6v1.9h-38.6zM46.5 544.6h37.4v1.9h-37.4zM236.8 544.6h38.4v1.9h-38.4zM313.6 544.6h152.9v1.9h-152.9zM581 544.6h38v1.9h-38zM732.9 544.6h76.5v1.9h-76.5zM885.9 544.6h38.6v1.9h-38.6zM122 546.2h39v1.9h-39zM199 546.2h114.6v1.9h-114.6zM389.7 546.2h38.6v1.9h-38.6zM770.8 546.2h38.6v1.9h-38.6zM848 546.2h37.9v1.9h-37.9zM924.5 546.2h39.3v1.9h-39.3zM83.9 547.9h115.1v1.9h-115.1zM581 547.9h38v1.9h-38zM656.9 547.9h38v1.9h-38zM848 547.9h37.9v1.9h-37.9zM199 549.5h76.2v1.9h-76.2zM352 549.5h37.7v1.9h-37.7zM581 549.5h38v1.9h-38zM809.4 549.5h38.6v1.9h-38.6zM8.8 551.1h37.7v1.9h-37.7zM83.9 551.1h115.1v1.9h-115.1zM428.3 551.1h38.2v1.9h-38.2zM656.9 551.1h38v1.9h-38zM732.9 551.1h76.5v1.9h-76.5zM161 552.8h75.8v1.9h-75.8zM389.7 552.8h76.8v1.9h-76.8zM770.8 552.8h38.6v1.9h-38.6zM848 552.8h37.9v1.9h-37.9zM8.8 554.4h75.1v1.9h-75.1zM122 554.4h39v1.9h-39zM199 554.4h37.8v1.9h-37.8zM313.6 554.4h38.4v1.9h-38.4zM428.3 554.4h38.2v1.9h-38.2zM732.9 554.4h37.9v1.9h-37.9zM809.4 554.4h38.6v1.9h-38.6zM924.5 554.4h39.3v1.9h-39.3zM46.5 556h37.4v1.9h-37.4zM275.2 556h38.4v1.9h-38.4zM581 556h38v1.9h-38zM848 556h37.9v1.9h-37.9zM428.3 557.7h38.2v1.9h-38.2zM656.9 557.7h191.1v1.9h-191.1zM161 559.3h75.8v1.9h-75.8zM389.7 559.3h76.8v1.9h-76.8zM581 559.3h38v1.9h-38zM694.9 559.3h38v1.9h-38zM924.5 559.3h39.3v1.9h-39.3zM46.5 560.9h37.4v1.9h-37.4zM122 560.9h39v1.9h-39zM199 560.9h114.6v1.9h-114.6zM352 560.9h37.7v1.9h-37.7zM581 560.9h38v1.9h-38zM732.9 560.9h37.9v1.9h-37.9zM848 560.9h37.9v1.9h-37.9zM8.8 562.6h37.7v1.9h-37.7zM581 562.6h38v1.9h-38zM656.9 562.6h113.9v1.9h-113.9zM809.4 562.6h38.6v1.9h-38.6zM8.8 564.2h37.7v1.9h-37.7zM236.8 564.2h38.4v1.9h-38.4zM313.6 564.2h38.4v1.9h-38.4zM389.7 564.2h38.6v1.9h-38.6zM656.9 564.2h76v1.9h-76zM770.8 564.2h38.6v1.9h-38.6zM885.9 564.2h77.9v1.9h-77.9zM8.8 565.8h37.7v1.9h-37.7zM83.9 565.8h77.1v1.9h-77.1zM313.6 565.8h76.1v1.9h-76.1zM428.3 565.8h38.2v1.9h-38.2zM656.9 565.8h38v1.9h-38zM809.4 565.8h38.6v1.9h-38.6zM8.8 567.5h37.7v1.9h-37.7zM161 567.5h114.2v1.9h-114.2zM389.7 567.5h76.8v1.9h-76.8zM770.8 567.5h38.6v1.9h-38.6zM8.8 569.1h37.7v1.9h-37.7zM161 569.1h75.8v1.9h-75.8zM275.2 569.1h38.4v1.9h-38.4zM581 569.1h75.9v1.9h-75.9zM809.4 569.1h38.6v1.9h-38.6zM46.5 570.7h37.4v1.9h-37.4zM122 570.7h77v1.9h-77zM236.8 570.7h115.2v1.9h-115.2zM389.7 570.7h76.8v1.9h-76.8zM656.9 570.7h38v1.9h-38zM770.8 570.7h38.6v1.9h-38.6zM8.8 572.4h190.2v1.9h-190.2zM581 572.4h38v1.9h-38zM885.9 572.4h38.6v1.9h-38.6zM199 574h76.2v1.9h-76.2zM656.9 574h38v1.9h-38zM770.8 574h77.2v1.9h-77.2zM924.5 574h39.3v1.9h-39.3zM122 575.6h77v1.9h-77zM236.8 575.6h152.9v1.9h-152.9zM809.4 575.6h38.6v1.9h-38.6zM924.5 575.6h39.3v1.9h-39.3zM122 577.3h39v1.9h-39zM275.2 577.3h76.8v1.9h-76.8zM581 577.3h38v1.9h-38zM732.9 577.3h37.9v1.9h-37.9zM848 577.3h115.8v1.9h-115.8zM8.8 578.9h37.7v1.9h-37.7zM161 578.9h75.8v1.9h-75.8zM313.6 578.9h76.1v1.9h-76.1zM581 578.9h38v1.9h-38zM656.9 578.9h38v1.9h-38zM885.9 578.9h77.9v1.9h-77.9zM46.5 580.5h37.4v1.9h-37.4zM122 580.5h77v1.9h-77zM352 580.5h37.7v1.9h-37.7zM428.3 580.5h38.2v1.9h-38.2zM581 580.5h38v1.9h-38zM694.9 580.5h75.9v1.9h-75.9zM885.9 580.5h38.6v1.9h-38.6zM8.8 582.2h37.7v1.9h-37.7zM83.9 582.2h38.1v1.9h-38.1zM428.3 582.2h38.2v1.9h-38.2zM581 582.2h38v1.9h-38zM656.9 582.2h191.1v1.9h-191.1zM885.9 582.2h77.9v1.9h-77.9zM8.8 583.8h152.2v1.9h-152.2zM199 583.8h37.8v1.9h-37.8zM313.6 583.8h38.4v1.9h-38.4zM389.7 583.8h76.8v1.9h-76.8zM581 583.8h38v1.9h-38zM656.9 583.8h38v1.9h-38zM732.9 583.8h37.9v1.9h-37.9zM809.4 583.8h154.4v1.9h-154.4zM46.5 585.4h75.5v1.9h-75.5zM275.2 585.4h38.4v1.9h-38.4zM619 585.4h37.9v1.9h-37.9zM809.4 585.4h38.6v1.9h-38.6zM885.9 585.4h38.6v1.9h-38.6zM46.5 587.1h75.5v1.9h-75.5zM161 587.1h38v1.9h-38zM656.9 587.1h38v1.9h-38zM924.5 587.1h39.3v1.9h-39.3zM83.9 588.7h38.1v1.9h-38.1zM236.8 588.7h76.8v1.9h-76.8zM352 588.7h37.7v1.9h-37.7zM581 588.7h38v1.9h-38zM8.8 590.3h37.7v1.9h-37.7zM83.9 590.3h77.1v1.9h-77.1zM236.8 590.3h115.2v1.9h-115.2zM389.7 590.3h76.8v1.9h-76.8zM581 590.3h75.9v1.9h-75.9zM770.8 590.3h77.2v1.9h-77.2zM885.9 590.3h38.6v1.9h-38.6zM236.8 592h38.4v1.9h-38.4zM352 592h114.5v1.9h-114.5zM694.9 592h38v1.9h-38zM770.8 592h38.6v1.9h-38.6zM848 592h37.9v1.9h-37.9zM83.9 593.6h38.1v1.9h-38.1zM236.8 593.6h38.4v1.9h-38.4zM313.6 593.6h114.7v1.9h-114.7zM619 593.6h37.9v1.9h-37.9zM809.4 593.6h154.4v1.9h-154.4zM83.9 595.2h115.1v1.9h-115.1zM428.3 595.2h38.2v1.9h-38.2zM581 595.2h38v1.9h-38zM656.9 595.2h191.1v1.9h-191.1zM8.8 596.9h75.1v1.9h-75.1zM122 596.9h39v1.9h-39zM199 596.9h190.7v1.9h-190.7zM428.3 596.9h38.2v1.9h-38.2zM619 596.9h37.9v1.9h-37.9zM848 596.9h115.8v1.9h-115.8zM8.8 598.5h37.7v1.9h-37.7zM199 598.5h76.2v1.9h-76.2zM656.9 598.5h76v1.9h-76zM122 600.1h39v1.9h-39zM275.2 600.1h38.4v1.9h-38.4zM352 600.1h37.7v1.9h-37.7zM428.3 600.1h38.2v1.9h-38.2zM581 600.1h38v1.9h-38zM8.8 601.8h37.7v1.9h-37.7zM275.2 601.8h38.4v1.9h-38.4zM656.9 601.8h38v1.9h-38zM770.8 601.8h38.6v1.9h-38.6zM848 601.8h76.5v1.9h-76.5zM161 603.4h38v1.9h-38zM313.6 603.4h76.1v1.9h-76.1zM770.8 603.4h38.6v1.9h-38.6zM848 603.4h76.5v1.9h-76.5zM8.8 605h37.7v1.9h-37.7zM83.9 605h152.9v1.9h-152.9zM809.4 605h154.4v1.9h-154.4zM236.8 606.7h76.8v1.9h-76.8zM389.7 606.7h38.6v1.9h-38.6zM656.9 606.7h76v1.9h-76zM83.9 608.3h38.1v1.9h-38.1zM161 608.3h38v1.9h-38zM656.9 608.3h38v1.9h-38zM848 608.3h76.5v1.9h-76.5zM8.8 609.9h37.7v1.9h-37.7zM199 609.9h76.2v1.9h-76.2zM809.4 609.9h154.4v1.9h-154.4zM8.8 611.6h37.7v1.9h-37.7zM83.9 611.6h38.1v1.9h-38.1zM581 611.6h38v1.9h-38zM694.9 611.6h38v1.9h-38zM809.4 611.6h38.6v1.9h-38.6zM313.6 613.2h76.1v1.9h-76.1zM809.4 613.2h38.6v1.9h-38.6zM924.5 613.2h39.3v1.9h-39.3zM8.8 614.8h190.2v1.9h-190.2zM619 614.8h37.9v1.9h-37.9zM770.8 614.8h38.6v1.9h-38.6zM83.9 616.5h38.1v1.9h-38.1zM275.2 616.5h38.4v1.9h-38.4zM352 616.5h37.7v1.9h-37.7zM581 616.5h75.9v1.9h-75.9zM848 616.5h115.8v1.9h-115.8zM83.9 618.1h38.1v1.9h-38.1zM161 618.1h38v1.9h-38zM581 618.1h38v1.9h-38zM732.9 618.1h37.9v1.9h-37.9zM809.4 618.1h38.6v1.9h-38.6zM885.9 618.1h38.6v1.9h-38.6zM46.5 619.7h75.5v1.9h-75.5zM161 619.7h114.2v1.9h-114.2zM732.9 619.7h76.5v1.9h-76.5zM8.8 621.4h152.2v1.9h-152.2zM352 621.4h76.3v1.9h-76.3zM619 621.4h113.9v1.9h-113.9zM83.9 623h38.1v1.9h-38.1zM428.3 623h38.2v1.9h-38.2zM619 623h37.9v1.9h-37.9zM694.9 623h38v1.9h-38zM122 624.6h39v1.9h-39zM199 624.6h153v1.9h-153zM504.2 624.6h39.2v1.9h-39.2zM581 624.6h75.9v1.9h-75.9zM885.9 624.6h77.9v1.9h-77.9zM83.9 626.3h115.1v1.9h-115.1zM275.2 626.3h38.4v1.9h-38.4zM694.9 626.3h75.9v1.9h-75.9zM8.8 627.9h75.1v1.9h-75.1zM236.8 627.9h76.8v1.9h-76.8zM466.5 627.9h37.7v1.9h-37.7zM656.9 627.9h76v1.9h-76zM809.4 627.9h38.6v1.9h-38.6zM8.8 629.6h37.7v1.9h-37.7zM161 629.6h38v1.9h-38zM694.9 629.6h38v1.9h-38zM924.5 629.6h39.3v1.9h-39.3zM83.9 631.2h38.1v1.9h-38.1zM161 631.2h38v1.9h-38zM275.2 631.2h38.4v1.9h-38.4zM466.5 631.2h76.9v1.9h-76.9zM619 631.2h75.9v1.9h-75.9zM770.8 631.2h38.6v1.9h-38.6zM46.5 632.8h75.5v1.9h-75.5zM199 632.8h37.8v1.9h-37.8zM275.2 632.8h38.4v1.9h-38.4zM504.2 632.8h39.2v1.9h-39.2zM619 632.8h37.9v1.9h-37.9zM694.9 632.8h38v1.9h-38zM770.8 632.8h38.6v1.9h-38.6zM619 634.5h37.9v1.9h-37.9zM694.9 634.5h38v1.9h-38zM809.4 634.5h38.6v1.9h-38.6zM924.5 634.5h39.3v1.9h-39.3zM83.9 636.1h229.7v1.9h-229.7zM466.5 636.1h37.7v1.9h-37.7zM543.4 636.1h37.6v1.9h-37.6zM770.8 636.1h38.6v1.9h-38.6zM236.8 637.7h38.4v1.9h-38.4zM581 637.7h38v1.9h-38zM770.8 637.7h193v1.9h-193zM8.8 639.4h75.1v1.9h-75.1zM122 639.4h77v1.9h-77zM313.6 639.4h38.4v1.9h-38.4zM466.5 639.4h37.7v1.9h-37.7zM694.9 639.4h38v1.9h-38zM770.8 639.4h38.6v1.9h-38.6zM885.9 639.4h77.9v1.9h-77.9zM8.8 641h75.1v1.9h-75.1zM161 641h75.8v1.9h-75.8zM275.2 641h38.4v1.9h-38.4zM504.2 641h39.2v1.9h-39.2zM809.4 641h38.6v1.9h-38.6zM8.8 642.6h75.1v1.9h-75.1zM122 642.6h39v1.9h-39zM236.8 642.6h76.8v1.9h-76.8zM466.5 642.6h37.7v1.9h-37.7zM543.4 642.6h37.6v1.9h-37.6zM619 642.6h37.9v1.9h-37.9zM732.9 642.6h37.9v1.9h-37.9zM46.5 644.3h75.5v1.9h-75.5zM161 644.3h38v1.9h-38zM313.6 644.3h38.4v1.9h-38.4zM543.4 644.3h113.5v1.9h-113.5zM732.9 644.3h37.9v1.9h-37.9zM809.4 644.3h38.6v1.9h-38.6zM8.8 645.9h37.7v1.9h-37.7zM83.9 645.9h115.1v1.9h-115.1zM236.8 645.9h38.4v1.9h-38.4zM581 645.9h38v1.9h-38zM656.9 645.9h38v1.9h-38zM732.9 645.9h37.9v1.9h-37.9zM848 645.9h76.5v1.9h-76.5zM8.8 647.5h37.7v1.9h-37.7zM83.9 647.5h38.1v1.9h-38.1zM199 647.5h153v1.9h-153zM466.5 647.5h76.9v1.9h-76.9zM581 647.5h75.9v1.9h-75.9zM809.4 647.5h38.6v1.9h-38.6zM8.8 649.2h37.7v1.9h-37.7zM619 649.2h75.9v1.9h-75.9zM848 649.2h37.9v1.9h-37.9zM924.5 649.2h39.3v1.9h-39.3zM8.8 650.8h113.2v1.9h-113.2zM275.2 650.8h38.4v1.9h-38.4zM543.4 650.8h75.6v1.9h-75.6zM732.9 650.8h115.1v1.9h-115.1zM8.8 652.4h37.7v1.9h-37.7zM83.9 652.4h115.1v1.9h-115.1zM504.2 652.4h39.2v1.9h-39.2zM581 652.4h38v1.9h-38zM656.9 652.4h267.6v1.9h-267.6zM83.9 654.1h38.1v1.9h-38.1zM161 654.1h152.6v1.9h-152.6zM504.2 654.1h39.2v1.9h-39.2zM619 654.1h75.9v1.9h-75.9zM809.4 654.1h38.6v1.9h-38.6zM885.9 654.1h38.6v1.9h-38.6zM46.5 655.7h37.4v1.9h-37.4zM122 655.7h39v1.9h-39zM275.2 655.7h76.8v1.9h-76.8zM543.4 655.7h75.6v1.9h-75.6zM656.9 655.7h76v1.9h-76zM770.8 655.7h38.6v1.9h-38.6zM848 655.7h37.9v1.9h-37.9zM46.5 657.3h37.4v1.9h-37.4zM199 657.3h76.2v1.9h-76.2zM466.5 657.3h114.5v1.9h-114.5zM619 657.3h37.9v1.9h-37.9zM848 657.3h37.9v1.9h-37.9zM924.5 657.3h39.3v1.9h-39.3zM8.8 659h37.7v1.9h-37.7zM83.9 659h77.1v1.9h-77.1zM236.8 659h38.4v1.9h-38.4zM313.6 659h38.4v1.9h-38.4zM466.5 659h76.9v1.9h-76.9zM581 659h75.9v1.9h-75.9zM809.4 659h38.6v1.9h-38.6zM885.9 659h38.6v1.9h-38.6zM8.8 660.6h37.7v1.9h-37.7zM83.9 660.6h38.1v1.9h-38.1zM161 660.6h38v1.9h-38zM236.8 660.6h38.4v1.9h-38.4zM466.5 660.6h76.9v1.9h-76.9zM619 660.6h305.5v1.9h-305.5zM46.5 662.2h152.5v1.9h-152.5zM236.8 662.2h38.4v1.9h-38.4zM504.2 662.2h76.8v1.9h-76.8zM732.9 662.2h37.9v1.9h-37.9zM848 662.2h37.9v1.9h-37.9zM8.8 663.9h37.7v1.9h-37.7zM122 663.9h114.8v1.9h-114.8zM275.2 663.9h76.8v1.9h-76.8zM504.2 663.9h39.2v1.9h-39.2zM581 663.9h38v1.9h-38zM656.9 663.9h38v1.9h-38zM770.8 663.9h38.6v1.9h-38.6zM848 663.9h37.9v1.9h-37.9zM8.8 665.5h37.7v1.9h-37.7zM83.9 665.5h38.1v1.9h-38.1zM199 665.5h114.6v1.9h-114.6zM466.5 665.5h37.7v1.9h-37.7zM543.4 665.5h37.6v1.9h-37.6zM656.9 665.5h38v1.9h-38zM924.5 665.5h39.3v1.9h-39.3zM8.8 667.1h37.7v1.9h-37.7zM161 667.1h38v1.9h-38zM504.2 667.1h39.2v1.9h-39.2zM581 667.1h75.9v1.9h-75.9zM770.8 667.1h38.6v1.9h-38.6zM848 667.1h37.9v1.9h-37.9zM924.5 667.1h39.3v1.9h-39.3zM46.5 668.8h75.5v1.9h-75.5zM161 668.8h38v1.9h-38zM236.8 668.8h76.8v1.9h-76.8zM543.4 668.8h151.5v1.9h-151.5zM770.8 668.8h38.6v1.9h-38.6zM83.9 670.4h38.1v1.9h-38.1zM199 670.4h76.2v1.9h-76.2zM619 670.4h37.9v1.9h-37.9zM694.9 670.4h75.9v1.9h-75.9zM161 672h38v1.9h-38zM313.6 672h38.4v1.9h-38.4zM466.5 672h76.9v1.9h-76.9zM694.9 672h114.5v1.9h-114.5zM924.5 672h39.3v1.9h-39.3zM8.8 673.7h75.1v1.9h-75.1zM161 673.7h38v1.9h-38zM236.8 673.7h76.8v1.9h-76.8zM581 673.7h189.8v1.9h-189.8zM46.5 675.3h75.5v1.9h-75.5zM543.4 675.3h75.6v1.9h-75.6zM770.8 675.3h153.7v1.9h-153.7zM46.5 676.9h37.4v1.9h-37.4zM122 676.9h39v1.9h-39zM199 676.9h37.8v1.9h-37.8zM275.2 676.9h76.8v1.9h-76.8zM581 676.9h38v1.9h-38zM732.9 676.9h76.5v1.9h-76.5zM885.9 676.9h38.6v1.9h-38.6zM199 678.6h114.6v1.9h-114.6zM543.4 678.6h75.6v1.9h-75.6zM694.9 678.6h38v1.9h-38zM848 678.6h37.9v1.9h-37.9zM199 680.2h37.8v1.9h-37.8zM275.2 680.2h76.8v1.9h-76.8zM732.9 680.2h76.5v1.9h-76.5zM885.9 680.2h38.6v1.9h-38.6zM46.5 681.8h114.5v1.9h-114.5zM466.5 681.8h37.7v1.9h-37.7zM619 681.8h37.9v1.9h-37.9zM885.9 681.8h38.6v1.9h-38.6zM8.8 683.5h75.1v1.9h-75.1zM122 683.5h39v1.9h-39zM199 683.5h153v1.9h-153zM466.5 683.5h37.7v1.9h-37.7zM694.9 683.5h114.5v1.9h-114.5zM924.5 683.5h39.3v1.9h-39.3zM8.8 685.1h37.7v1.9h-37.7zM122 685.1h77v1.9h-77zM275.2 685.1h76.8v1.9h-76.8zM619 685.1h75.9v1.9h-75.9zM732.9 685.1h37.9v1.9h-37.9zM809.4 685.1h38.6v1.9h-38.6zM8.8 686.7h37.7v1.9h-37.7zM83.9 686.7h38.1v1.9h-38.1zM161 686.7h38v1.9h-38zM236.8 686.7h38.4v1.9h-38.4zM313.6 686.7h38.4v1.9h-38.4zM466.5 686.7h152.5v1.9h-152.5zM656.9 686.7h38v1.9h-38zM770.8 686.7h38.6v1.9h-38.6zM848 686.7h37.9v1.9h-37.9zM83.9 688.4h38.1v1.9h-38.1zM275.2 688.4h38.4v1.9h-38.4zM619 688.4h75.9v1.9h-75.9zM770.8 688.4h38.6v1.9h-38.6zM924.5 688.4h39.3v1.9h-39.3zM199 690h37.8v1.9h-37.8zM466.5 690h37.7v1.9h-37.7zM581 690h38v1.9h-38zM656.9 690h38v1.9h-38zM809.4 690h76.5v1.9h-76.5zM161 691.6h38v1.9h-38zM236.8 691.6h115.2v1.9h-115.2zM504.2 691.6h76.8v1.9h-76.8zM619 691.6h75.9v1.9h-75.9zM732.9 691.6h76.5v1.9h-76.5zM924.5 691.6h39.3v1.9h-39.3zM8.8 693.3h37.7v1.9h-37.7zM161 693.3h75.8v1.9h-75.8zM466.5 693.3h37.7v1.9h-37.7zM656.9 693.3h38v1.9h-38zM809.4 693.3h38.6v1.9h-38.6zM83.9 694.9h38.1v1.9h-38.1zM161 694.9h38v1.9h-38zM466.5 694.9h37.7v1.9h-37.7zM543.4 694.9h75.6v1.9h-75.6zM694.9 694.9h75.9v1.9h-75.9zM885.9 694.9h77.9v1.9h-77.9zM46.5 696.5h37.4v1.9h-37.4zM236.8 696.5h76.8v1.9h-76.8zM619 696.5h151.8v1.9h-151.8zM848 696.5h37.9v1.9h-37.9zM924.5 696.5h39.3v1.9h-39.3zM8.8 698.2h75.1v1.9h-75.1zM122 698.2h39v1.9h-39zM199 698.2h37.8v1.9h-37.8zM275.2 698.2h76.8v1.9h-76.8zM466.5 698.2h37.7v1.9h-37.7zM543.4 698.2h37.6v1.9h-37.6zM619 698.2h190.4v1.9h-190.4zM885.9 698.2h38.6v1.9h-38.6zM161 699.8h38v1.9h-38zM275.2 699.8h38.4v1.9h-38.4zM466.5 699.8h76.9v1.9h-76.9zM581 699.8h38v1.9h-38zM732.9 699.8h76.5v1.9h-76.5zM848 699.8h37.9v1.9h-37.9zM924.5 699.8h39.3v1.9h-39.3zM161 701.4h38v1.9h-38zM313.6 701.4h38.4v1.9h-38.4zM694.9 701.4h38v1.9h-38zM924.5 701.4h39.3v1.9h-39.3zM8.8 703.1h37.7v1.9h-37.7zM83.9 703.1h38.1v1.9h-38.1zM236.8 703.1h38.4v1.9h-38.4zM466.5 703.1h37.7v1.9h-37.7zM543.4 703.1h75.6v1.9h-75.6zM656.9 703.1h113.9v1.9h-113.9zM809.4 703.1h38.6v1.9h-38.6zM924.5 703.1h39.3v1.9h-39.3zM83.9 704.7h38.1v1.9h-38.1zM199 704.7h37.8v1.9h-37.8zM504.2 704.7h76.8v1.9h-76.8zM619 704.7h75.9v1.9h-75.9zM732.9 704.7h37.9v1.9h-37.9zM848 704.7h37.9v1.9h-37.9zM924.5 704.7h39.3v1.9h-39.3zM83.9 706.3h38.1v1.9h-38.1zM161 706.3h75.8v1.9h-75.8zM313.6 706.3h38.4v1.9h-38.4zM656.9 706.3h38v1.9h-38zM770.8 706.3h38.6v1.9h-38.6zM848 706.3h76.5v1.9h-76.5zM8.8 708h37.7v1.9h-37.7zM83.9 708h77.1v1.9h-77.1zM313.6 708h38.4v1.9h-38.4zM504.2 708h190.7v1.9h-190.7zM848 708h37.9v1.9h-37.9zM46.5 709.6h37.4v1.9h-37.4zM161 709.6h38v1.9h-38zM543.4 709.6h37.6v1.9h-37.6zM924.5 709.6h39.3v1.9h-39.3zM8.8 711.2h190.2v1.9h-190.2zM694.9 711.2h38v1.9h-38zM848 711.2h37.9v1.9h-37.9zM924.5 711.2h39.3v1.9h-39.3zM236.8 712.9h76.8v1.9h-76.8zM848 712.9h76.5v1.9h-76.5zM8.8 714.5h75.1v1.9h-75.1zM275.2 714.5h38.4v1.9h-38.4zM543.4 714.5h37.6v1.9h-37.6zM619 714.5h75.9v1.9h-75.9zM732.9 714.5h37.9v1.9h-37.9zM809.4 714.5h38.6v1.9h-38.6zM161 716.2h38v1.9h-38zM236.8 716.2h76.8v1.9h-76.8zM543.4 716.2h75.6v1.9h-75.6zM770.8 716.2h38.6v1.9h-38.6zM885.9 716.2h38.6v1.9h-38.6zM8.8 717.8h37.7v1.9h-37.7zM199 717.8h76.2v1.9h-76.2zM466.5 717.8h37.7v1.9h-37.7zM809.4 717.8h38.6v1.9h-38.6zM924.5 717.8h39.3v1.9h-39.3zM122 719.4h77v1.9h-77zM275.2 719.4h38.4v1.9h-38.4zM466.5 719.4h37.7v1.9h-37.7zM581 719.4h75.9v1.9h-75.9zM770.8 719.4h153.7v1.9h-153.7zM8.8 721.1h75.1v1.9h-75.1zM122 721.1h39v1.9h-39zM199 721.1h37.8v1.9h-37.8zM275.2 721.1h38.4v1.9h-38.4zM466.5 721.1h37.7v1.9h-37.7zM543.4 721.1h37.6v1.9h-37.6zM656.9 721.1h76v1.9h-76zM809.4 721.1h38.6v1.9h-38.6zM924.5 721.1h39.3v1.9h-39.3zM46.5 722.7h75.5v1.9h-75.5zM161 722.7h75.8v1.9h-75.8zM466.5 722.7h37.7v1.9h-37.7zM543.4 722.7h37.6v1.9h-37.6zM885.9 722.7h77.9v1.9h-77.9zM8.8 724.3h37.7v1.9h-37.7zM122 724.3h77v1.9h-77zM543.4 724.3h75.6v1.9h-75.6zM656.9 724.3h38v1.9h-38zM885.9 724.3h38.6v1.9h-38.6zM466.5 726h37.7v1.9h-37.7zM543.4 726h37.6v1.9h-37.6zM694.9 726h75.9v1.9h-75.9zM809.4 726h38.6v1.9h-38.6zM83.9 727.6h38.1v1.9h-38.1zM161 727.6h38v1.9h-38zM275.2 727.6h38.4v1.9h-38.4zM656.9 727.6h38v1.9h-38zM885.9 727.6h38.6v1.9h-38.6zM122 729.2h114.8v1.9h-114.8zM275.2 729.2h38.4v1.9h-38.4zM581 729.2h113.9v1.9h-113.9zM770.8 729.2h38.6v1.9h-38.6zM46.5 730.9h75.5v1.9h-75.5zM161 730.9h38v1.9h-38zM313.6 730.9h38.4v1.9h-38.4zM543.4 730.9h75.6v1.9h-75.6zM809.4 730.9h38.6v1.9h-38.6zM885.9 730.9h38.6v1.9h-38.6zM8.8 732.5h190.2v1.9h-190.2zM236.8 732.5h115.2v1.9h-115.2zM466.5 732.5h37.7v1.9h-37.7zM581 732.5h75.9v1.9h-75.9zM122 734.1h39v1.9h-39zM275.2 734.1h38.4v1.9h-38.4zM581 734.1h38v1.9h-38zM656.9 734.1h38v1.9h-38zM770.8 734.1h115.1v1.9h-115.1zM46.5 735.8h37.4v1.9h-37.4zM466.5 735.8h152.5v1.9h-152.5zM848 735.8h37.9v1.9h-37.9zM924.5 735.8h39.3v1.9h-39.3zM83.9 737.4h38.1v1.9h-38.1zM199 737.4h37.8v1.9h-37.8zM466.5 737.4h37.7v1.9h-37.7zM694.9 737.4h38v1.9h-38zM770.8 737.4h115.1v1.9h-115.1zM8.8 739h37.7v1.9h-37.7zM122 739h39v1.9h-39zM199 739h76.2v1.9h-76.2zM313.6 739h38.4v1.9h-38.4zM466.5 739h76.9v1.9h-76.9zM619 739h113.9v1.9h-113.9zM809.4 739h76.5v1.9h-76.5zM924.5 739h39.3v1.9h-39.3zM122 740.7h77v1.9h-77zM543.4 740.7h37.6v1.9h-37.6zM809.4 740.7h38.6v1.9h-38.6zM8.8 742.3h37.7v1.9h-37.7zM83.9 742.3h38.1v1.9h-38.1zM161 742.3h38v1.9h-38zM275.2 742.3h76.8v1.9h-76.8zM466.5 742.3h37.7v1.9h-37.7zM543.4 742.3h37.6v1.9h-37.6zM732.9 742.3h37.9v1.9h-37.9zM924.5 742.3h39.3v1.9h-39.3zM46.5 743.9h152.5v1.9h-152.5zM504.2 743.9h39.2v1.9h-39.2zM885.9 743.9h38.6v1.9h-38.6zM46.5 745.6h152.5v1.9h-152.5zM236.8 745.6h115.2v1.9h-115.2zM504.2 745.6h39.2v1.9h-39.2zM581 745.6h38v1.9h-38zM656.9 745.6h38v1.9h-38zM770.8 745.6h77.2v1.9h-77.2zM83.9 747.2h77.1v1.9h-77.1zM236.8 747.2h38.4v1.9h-38.4zM619 747.2h37.9v1.9h-37.9zM809.4 747.2h38.6v1.9h-38.6zM885.9 747.2h38.6v1.9h-38.6zM8.8 748.8h37.7v1.9h-37.7zM236.8 748.8h38.4v1.9h-38.4zM543.4 748.8h37.6v1.9h-37.6zM694.9 748.8h38v1.9h-38zM770.8 748.8h38.6v1.9h-38.6zM885.9 748.8h38.6v1.9h-38.6zM8.8 750.5h75.1v1.9h-75.1zM313.6 750.5h38.4v1.9h-38.4zM504.2 750.5h39.2v1.9h-39.2zM656.9 750.5h76v1.9h-76zM885.9 750.5h38.6v1.9h-38.6zM770.8 752.1h38.6v1.9h-38.6zM924.5 752.1h39.3v1.9h-39.3zM122 753.7h77v1.9h-77zM504.2 753.7h76.8v1.9h-76.8zM619 753.7h37.9v1.9h-37.9zM732.9 753.7h76.5v1.9h-76.5zM848 753.7h37.9v1.9h-37.9zM8.8 755.4h37.7v1.9h-37.7zM199 755.4h37.8v1.9h-37.8zM389.7 755.4h38.6v1.9h-38.6zM466.5 755.4h37.7v1.9h-37.7zM770.8 755.4h38.6v1.9h-38.6zM466.5 757h37.7v1.9h-37.7zM543.4 757h37.6v1.9h-37.6zM694.9 757h38v1.9h-38zM770.8 757h38.6v1.9h-38.6zM924.5 757h39.3v1.9h-39.3zM122 758.6h39v1.9h-39zM428.3 758.6h38.2v1.9h-38.2zM581 758.6h38v1.9h-38zM656.9 758.6h38v1.9h-38zM848 758.6h37.9v1.9h-37.9zM924.5 758.6h39.3v1.9h-39.3zM389.7 760.3h38.6v1.9h-38.6zM656.9 760.3h38v1.9h-38zM848 760.3h37.9v1.9h-37.9zM122 761.9h39v1.9h-39zM581 761.9h38v1.9h-38zM694.9 761.9h38v1.9h-38zM848 761.9h37.9v1.9h-37.9zM924.5 761.9h39.3v1.9h-39.3zM466.5 763.5h37.7v1.9h-37.7zM543.4 763.5h37.6v1.9h-37.6zM656.9 763.5h38v1.9h-38zM885.9 763.5h38.6v1.9h-38.6zM8.8 765.2h37.7v1.9h-37.7zM161 765.2h75.8v1.9h-75.8zM428.3 765.2h38.2v1.9h-38.2zM504.2 765.2h76.8v1.9h-76.8zM619 765.2h37.9v1.9h-37.9zM924.5 765.2h39.3v1.9h-39.3zM352 766.8h37.7v1.9h-37.7zM466.5 766.8h37.7v1.9h-37.7zM848 766.8h37.9v1.9h-37.9zM122 768.4h39v1.9h-39zM389.7 768.4h38.6v1.9h-38.6zM466.5 768.4h37.7v1.9h-37.7zM694.9 768.4h38v1.9h-38zM848 768.4h37.9v1.9h-37.9zM46.5 770.1h37.4v1.9h-37.4zM199 770.1h37.8v1.9h-37.8zM428.3 770.1h38.2v1.9h-38.2zM848 770.1h37.9v1.9h-37.9zM428.3 771.7h38.2v1.9h-38.2zM694.9 771.7h38v1.9h-38zM543.4 773.3h37.6v1.9h-37.6zM656.9 773.3h38v1.9h-38zM352 775h37.7v1.9h-37.7zM504.2 775h39.2v1.9h-39.2zM809.4 775h38.6v1.9h-38.6zM885.9 775h77.9v1.9h-77.9zM46.5 776.6h37.4v1.9h-37.4zM389.7 776.6h38.6v1.9h-38.6zM466.5 776.6h37.7v1.9h-37.7zM543.4 776.6h37.6v1.9h-37.6zM122 778.2h39v1.9h-39zM83.9 779.9h38.1v1.9h-38.1zM161 779.9h38v1.9h-38zM543.4 779.9h37.6v1.9h-37.6zM732.9 779.9h115.1v1.9h-115.1zM8.8 781.5h37.7v1.9h-37.7zM619 781.5h37.9v1.9h-37.9zM924.5 781.5h39.3v1.9h-39.3zM161 783.1h38v1.9h-38zM352 783.1h37.7v1.9h-37.7zM428.3 783.1h75.9v1.9h-75.9zM770.8 783.1h38.6v1.9h-38.6zM161 784.8h75.8v1.9h-75.8zM352 784.8h37.7v1.9h-37.7zM428.3 784.8h38.2v1.9h-38.2zM543.4 784.8h37.6v1.9h-37.6zM809.4 784.8h38.6v1.9h-38.6zM885.9 784.8h38.6v1.9h-38.6zM46.5 786.4h37.4v1.9h-37.4zM428.3 786.4h75.9v1.9h-75.9zM8.8 788h37.7v1.9h-37.7zM389.7 788h38.6v1.9h-38.6zM504.2 788h39.2v1.9h-39.2zM656.9 788h38v1.9h-38zM809.4 788h38.6v1.9h-38.6zM8.8 789.7h75.1v1.9h-75.1zM122 789.7h39v1.9h-39zM199 789.7h37.8v1.9h-37.8zM352 789.7h37.7v1.9h-37.7zM428.3 789.7h38.2v1.9h-38.2zM122 791.3h39v1.9h-39zM428.3 791.3h75.9v1.9h-75.9zM83.9 792.9h38.1v1.9h-38.1zM199 792.9h37.8v1.9h-37.8zM428.3 792.9h38.2v1.9h-38.2zM543.4 792.9h37.6v1.9h-37.6zM732.9 792.9h37.9v1.9h-37.9zM924.5 792.9h39.3v1.9h-39.3zM46.5 794.6h37.4v1.9h-37.4zM581 794.6h38v1.9h-38zM656.9 794.6h38v1.9h-38zM924.5 794.6h39.3v1.9h-39.3zM199 796.2h37.8v1.9h-37.8zM504.2 796.2h39.2v1.9h-39.2zM770.8 796.2h38.6v1.9h-38.6zM924.5 796.2h39.3v1.9h-39.3zM543.4 797.8h37.6v1.9h-37.6zM619 797.8h37.9v1.9h-37.9zM694.9 797.8h114.5v1.9h-114.5zM848 797.8h37.9v1.9h-37.9zM46.5 799.5h75.5v1.9h-75.5zM161 799.5h38v1.9h-38zM466.5 799.5h114.5v1.9h-114.5zM809.4 799.5h38.6v1.9h-38.6zM352 801.1h37.7v1.9h-37.7zM770.8 801.1h38.6v1.9h-38.6zM848 801.1h37.9v1.9h-37.9zM924.5 801.1h39.3v1.9h-39.3zM122 802.8h39v1.9h-39zM352 802.8h37.7v1.9h-37.7zM466.5 802.8h37.7v1.9h-37.7zM543.4 802.8h75.6v1.9h-75.6zM848 802.8h37.9v1.9h-37.9zM83.9 804.4h38.1v1.9h-38.1zM352 804.4h76.3v1.9h-76.3zM694.9 804.4h38v1.9h-38zM848 804.4h76.5v1.9h-76.5zM83.9 806h38.1v1.9h-38.1zM389.7 806h38.6v1.9h-38.6zM504.2 806h39.2v1.9h-39.2zM770.8 806h115.1v1.9h-115.1zM83.9 807.7h38.1v1.9h-38.1zM848 807.7h37.9v1.9h-37.9zM8.8 809.3h37.7v1.9h-37.7zM161 809.3h38v1.9h-38zM924.5 809.3h39.3v1.9h-39.3zM83.9 810.9h38.1v1.9h-38.1zM619 810.9h37.9v1.9h-37.9zM848 810.9h37.9v1.9h-37.9zM8.8 812.6h37.7v1.9h-37.7zM161 812.6h38v1.9h-38zM619 812.6h37.9v1.9h-37.9zM466.5 814.2h76.9v1.9h-76.9zM885.9 814.2h38.6v1.9h-38.6zM161 815.8h38v1.9h-38zM352 815.8h37.7v1.9h-37.7zM619 815.8h37.9v1.9h-37.9zM924.5 815.8h39.3v1.9h-39.3zM199 817.5h37.8v1.9h-37.8zM466.5 817.5h37.7v1.9h-37.7zM770.8 817.5h38.6v1.9h-38.6zM543.4 819.1h37.6v1.9h-37.6zM428.3 820.7h38.2v1.9h-38.2zM656.9 820.7h38v1.9h-38zM809.4 820.7h38.6v1.9h-38.6zM885.9 820.7h38.6v1.9h-38.6zM122 822.4h39v1.9h-39zM885.9 822.4h38.6v1.9h-38.6zM46.5 824h37.4v1.9h-37.4zM161 824h38v1.9h-38zM428.3 824h75.9v1.9h-75.9zM619 824h37.9v1.9h-37.9zM122 825.6h39v1.9h-39zM122 827.3h39v1.9h-39zM122 828.9h39v1.9h-39zM199 828.9h37.8v1.9h-37.8zM352 828.9h76.3v1.9h-76.3zM581 828.9h38v1.9h-38zM732.9 828.9h37.9v1.9h-37.9zM46.5 830.5h37.4v1.9h-37.4zM161 830.5h38v1.9h-38zM389.7 830.5h38.6v1.9h-38.6zM619 830.5h37.9v1.9h-37.9zM694.9 830.5h38v1.9h-38zM83.9 832.2h38.1v1.9h-38.1zM885.9 832.2h77.9v1.9h-77.9zM83.9 833.8h38.1v1.9h-38.1zM199 833.8h37.8v1.9h-37.8zM543.4 833.8h37.6v1.9h-37.6zM619 833.8h75.9v1.9h-75.9zM732.9 833.8h37.9v1.9h-37.9zM924.5 833.8h39.3v1.9h-39.3zM352 835.4h37.7v1.9h-37.7zM161 837.1h38v1.9h-38zM389.7 837.1h38.6v1.9h-38.6zM466.5 837.1h37.7v1.9h-37.7zM770.8 837.1h38.6v1.9h-38.6zM83.9 838.7h38.1v1.9h-38.1zM389.7 838.7h38.6v1.9h-38.6zM504.2 838.7h39.2v1.9h-39.2zM619 838.7h37.9v1.9h-37.9zM46.5 840.3h37.4v1.9h-37.4zM352 840.3h76.3v1.9h-76.3zM543.4 840.3h37.6v1.9h-37.6zM199 842h37.8v1.9h-37.8zM656.9 842h38v1.9h-38zM770.8 842h77.2v1.9h-77.2zM46.5 843.6h37.4v1.9h-37.4zM122 843.6h39v1.9h-39zM352 843.6h37.7v1.9h-37.7zM581 843.6h38v1.9h-38zM543.4 845.2h37.6v1.9h-37.6zM619 845.2h75.9v1.9h-75.9zM770.8 845.2h38.6v1.9h-38.6zM83.9 846.9h38.1v1.9h-38.1zM656.9 846.9h38v1.9h-38zM809.4 846.9h38.6v1.9h-38.6zM8.8 848.5h37.7v1.9h-37.7zM199 848.5h37.8v1.9h-37.8zM352 848.5h37.7v1.9h-37.7zM619 848.5h37.9v1.9h-37.9zM581 850.1h75.9v1.9h-75.9zM732.9 850.1h37.9v1.9h-37.9zM46.5 851.8h37.4v1.9h-37.4zM543.4 851.8h75.6v1.9h-75.6zM656.9 851.8h38v1.9h-38zM770.8 851.8h77.2v1.9h-77.2zM8.8 853.4h37.7v1.9h-37.7zM83.9 853.4h77.1v1.9h-77.1zM885.9 853.4h38.6v1.9h-38.6zM732.9 855h37.9v1.9h-37.9zM924.5 855h39.3v1.9h-39.3zM122 856.7h39v1.9h-39zM466.5 856.7h114.5v1.9h-114.5zM694.9 856.7h38v1.9h-38zM770.8 856.7h38.6v1.9h-38.6zM8.8 858.3h75.1v1.9h-75.1zM389.7 858.3h38.6v1.9h-38.6zM466.5 858.3h37.7v1.9h-37.7zM694.9 858.3h38v1.9h-38zM8.8 859.9h37.7v1.9h-37.7zM83.9 859.9h38.1v1.9h-38.1zM543.4 859.9h37.6v1.9h-37.6zM694.9 859.9h38v1.9h-38zM809.4 859.9h38.6v1.9h-38.6zM504.2 861.6h39.2v1.9h-39.2zM732.9 861.6h37.9v1.9h-37.9zM466.5 863.2h37.7v1.9h-37.7zM770.8 863.2h38.6v1.9h-38.6zM848 863.2h37.9v1.9h-37.9zM924.5 863.2h39.3v1.9h-39.3zM161 864.8h38v1.9h-38zM389.7 864.8h114.5v1.9h-114.5zM656.9 864.8h38v1.9h-38zM809.4 864.8h38.6v1.9h-38.6zM122 866.5h77v1.9h-77zM656.9 868.1h76v1.9h-76zM770.8 868.1h38.6v1.9h-38.6zM848 868.1h37.9v1.9h-37.9zM199 869.7h37.8v1.9h-37.8zM352 869.7h37.7v1.9h-37.7zM543.4 869.7h37.6v1.9h-37.6zM619 869.7h37.9v1.9h-37.9zM83.9 871.4h38.1v1.9h-38.1zM466.5 871.4h76.9v1.9h-76.9zM581 871.4h38v1.9h-38zM656.9 871.4h113.9v1.9h-113.9zM428.3 873h75.9v1.9h-75.9zM656.9 873h76v1.9h-76zM848 873h37.9v1.9h-37.9zM199 874.6h37.8v1.9h-37.8zM581 874.6h75.9v1.9h-75.9zM732.9 874.6h37.9v1.9h-37.9zM8.8 876.3h37.7v1.9h-37.7zM732.9 876.3h115.1v1.9h-115.1zM389.7 877.9h38.6v1.9h-38.6zM504.2 877.9h76.8v1.9h-76.8zM885.9 877.9h38.6v1.9h-38.6zM8.8 879.5h37.7v1.9h-37.7zM83.9 879.5h38.1v1.9h-38.1zM161 879.5h38v1.9h-38zM809.4 879.5h38.6v1.9h-38.6zM8.8 881.2h75.1v1.9h-75.1zM46.5 882.8h37.4v1.9h-37.4zM352 882.8h37.7v1.9h-37.7zM466.5 882.8h114.5v1.9h-114.5zM619 882.8h37.9v1.9h-37.9zM770.8 882.8h38.6v1.9h-38.6zM428.3 884.4h38.2v1.9h-38.2zM770.8 884.4h38.6v1.9h-38.6zM924.5 884.4h39.3v1.9h-39.3zM581 897.5h38v1.9h-38zM656.9 897.5h38v1.9h-38zM313.6 936.7h114.7v1.9h-114.7zM619 951.4h37.9v1.9h-37.9zM694.9 951.4h38v1.9h-38zM161 969.4h38v1.9h-38zM543.4 985.8h37.6v1.9h-37.6zM352 995.6h37.7v1.9h-37.7zM236.8 998.8h38.4v1.9h-38.4zM313.6 998.8h38.4v1.9h-38.4zM46.5 1007h37.4v1.9h-37.4z"/>
<path fill="#feeba1" d="M8.8 234.1h37.7v1.9h-37.7zM46.5 273.3h37.4v1.9h-37.4zM8.8 304.4h37.7v1.9h-37.7zM46.5 312.6h37.4v1.9h-37.4zM46.5 319.1h37.4v1.9h-37.4zM8.8 322.4h37.7v1.9h-37.7zM619 324h37.9v1.9h-37.9zM8.8 328.9h37.7v1.9h-37.7zM46.5 337.1h37.4v1.9h-37.4zM619 337.1h37.9v1.9h-37.9zM694.9 368.1h38v1.9h-38zM161 382.8h38v1.9h-38zM199 389.4h37.8v1.9h-37.8zM161 405.7h38v1.9h-38zM619 410.6h75.9v1.9h-75.9zM161 418.8h38v1.9h-38zM656.9 423.7h38v1.9h-38zM46.5 425.3h75.5v1.9h-75.5zM656.9 425.3h76v1.9h-76zM619 431.8h37.9v1.9h-37.9zM161 443.3h38v1.9h-38zM122 448.2h39v1.9h-39zM619 453.1h37.9v1.9h-37.9zM694.9 454.7h38v1.9h-38zM694.9 456.4h38v1.9h-38zM199 458h37.8v1.9h-37.8zM161 459.6h38v1.9h-38zM122 462.9h39v1.9h-39zM161 476h38v1.9h-38zM466.5 500.5h37.7v1.9h-37.7zM543.4 503.7h37.6v1.9h-37.6zM543.4 526.6h37.6v1.9h-37.6zM543.4 551.1h37.6v1.9h-37.6zM466.5 585.4h37.7v1.9h-37.7zM466.5 588.7h37.7v1.9h-37.7zM543.4 595.2h37.6v1.9h-37.6zM352 626.3h37.7v1.9h-37.7zM428.3 637.7h38.2v1.9h-38.2zM428.3 642.6h38.2v1.9h-38.2zM428.3 647.5h38.2v1.9h-38.2zM352 649.2h37.7v1.9h-37.7zM352 686.7h37.7v1.9h-37.7zM352 696.5h37.7v1.9h-37.7zM428.3 704.7h38.2v1.9h-38.2zM581 709.6h38v1.9h-38zM694.9 709.6h38v1.9h-38zM428.3 711.2h38.2v1.9h-38.2zM619 712.9h37.9v1.9h-37.9zM428.3 714.5h38.2v1.9h-38.2zM428.3 742.3h38.2v1.9h-38.2zM313.6 761.9h38.4v1.9h-38.4zM8.8 825.6h37.7v1.9h-37.7zM619 837.1h37.9v1.9h-37.9zM313.6 851.8h38.4v1.9h-38.4zM8.8 869.7h37.7v1.9h-37.7zM313.6 874.6h38.4v1.9h-38.4zM809.4 886.1h38.6v1.9h-38.6zM809.4 904.1h38.6v1.9h-38.6zM656.9 923.7h38v1.9h-38zM770.8 926.9h38.6v1.9h-38.6zM885.9 928.6h38.6v1.9h-38.6zM885.9 930.2h38.6v1.9h-38.6zM770.8 936.7h38.6v1.9h-38.6zM581 938.4h38v1.9h-38zM581 946.5h38v1.9h-38zM732.9 946.5h37.9v1.9h-37.9zM885.9 948.2h38.6v1.9h-38.6zM656.9 954.7h38v1.9h-38zM656.9 961.2h38v1.9h-38zM656.9 964.5h38v1.9h-38zM732.9 964.5h37.9v1.9h-37.9zM924.5 967.8h39.3v1.9h-39.3zM809.4 974.3h38.6v1.9h-38.6zM581 977.6h38v1.9h-38zM924.5 977.6h39.3v1.9h-39.3zM885.9 989h38.6v1.9h-38.6zM694.9 997.2h38v1.9h-38zM809.4 998.8h38.6v1.9h-38.6zM885.9 1002.1h38.6v1.9h-38.6zM619 1003.7h37.9v1.9h-37.9zM694.9 1007h75.9v1.9h-75.9z"/>
<path fill="#f06e48" d="M46.5 234.1h37.4v1.9h-37.4zM8.8 284.8h37.7v1.9h-37.7zM8.8 302.8h37.7v1.9h-37.7zM8.8 320.7h37.7v1.9h-37.7zM8.8 338.7h37.7v1.9h-37.7zM8.8 345.2h37.7v1.9h-37.7zM8.8 348.5h75.1v1.9h-75.1zM161 364.9h38v1.9h-38zM199 376.3h37.8v1.9h-37.8zM122 384.5h39v1.9h-39zM161 386.1h38v1.9h-38zM122 402.4h39v1.9h-39zM199 410.6h37.8v1.9h-37.8zM122 413.9h39v1.9h-39zM199 413.9h37.8v1.9h-37.8zM122 417.1h39v1.9h-39zM199 456.4h37.8v1.9h-37.8zM466.5 515.2h37.7v1.9h-37.7zM466.5 526.6h37.7v1.9h-37.7zM466.5 534.8h37.7v1.9h-37.7zM504.2 577.3h39.2v1.9h-39.2zM504.2 580.5h39.2v1.9h-39.2zM504.2 595.2h39.2v1.9h-39.2zM466.5 606.7h37.7v1.9h-37.7zM466.5 609.9h37.7v1.9h-37.7zM352 624.6h37.7v1.9h-37.7zM428.3 670.4h38.2v1.9h-38.2zM389.7 711.2h38.6v1.9h-38.6zM389.7 716.2h38.6v1.9h-38.6zM389.7 727.6h38.6v1.9h-38.6zM885.9 987.4h38.6v1.9h-38.6zM885.9 1010.3h38.6v1.9h-38.6z"/>
<path fill="#d73027" d="M8.8 235.8h37.7v1.9h-37.7zM46.5 266.8h37.4v1.9h-37.4zM8.8 283.2h37.7v1.9h-37.7zM46.5 322.4h37.4v1.9h-37.4zM8.8 332.2h37.7v1.9h-37.7zM161 461.3h38v1.9h-38zM236.8 778.2h38.4v1.9h-38.4zM275.2 802.8h38.4v1.9h-38.4zM236.8 815.8h38.4v1.9h-38.4zM236.8 837.1h38.4v1.9h-38.4zM236.8 850.1h38.4v1.9h-38.4zM236.8 855h38.4v1.9h-38.4zM236.8 879.5h38.4v1.9h-38.4z"/>
<path fill="#fee99e" d="M46.5 235.8h37.4v1.9h-37.4zM46.5 245.6h37.4v1.9h-37.4zM46.5 252.1h37.4v1.9h-37.4zM581 299.5h38v1.9h-38zM46.5 333.8h37.4v1.9h-37.4zM46.5 356.7h37.4v1.9h-37.4zM581 368.1h38v1.9h-38zM161 397.5h38v1.9h-38zM656.9 405.7h38v1.9h-38zM694.9 410.6h38v1.9h-38zM122 420.4h39v1.9h-39zM619 426.9h37.9v1.9h-37.9zM122 431.8h39v1.9h-39zM656.9 431.8h38v1.9h-38zM161 433.5h38v1.9h-38zM199 448.2h37.8v1.9h-37.8zM122 449.8h39v1.9h-39zM199 472.7h37.8v1.9h-37.8zM694.9 472.7h38v1.9h-38zM122 476h39v1.9h-39zM466.5 497.2h37.7v1.9h-37.7zM543.4 531.5h37.6v1.9h-37.6zM543.4 536.4h37.6v1.9h-37.6zM543.4 562.6h37.6v1.9h-37.6zM619 572.4h37.9v1.9h-37.9zM466.5 575.6h37.7v1.9h-37.7zM543.4 577.3h37.6v1.9h-37.6zM466.5 605h37.7v1.9h-37.7zM543.4 616.5h37.6v1.9h-37.6zM352 655.7h37.7v1.9h-37.7zM428.3 655.7h38.2v1.9h-38.2zM428.3 667.1h38.2v1.9h-38.2zM428.3 672h38.2v1.9h-38.2zM428.3 709.6h38.2v1.9h-38.2zM352 717.8h37.7v1.9h-37.7zM581 837.1h38v1.9h-38zM236.8 848.5h38.4v1.9h-38.4zM8.8 882.8h37.7v1.9h-37.7zM8.8 884.4h37.7v1.9h-37.7zM581 899.2h38v1.9h-38zM619 933.5h37.9v1.9h-37.9zM656.9 940h38v1.9h-38zM581 954.7h38v1.9h-38zM619 987.4h37.9v1.9h-37.9zM619 997.2h37.9v1.9h-37.9z"/>
<path fill="#feefa7" d="M83.9 235.8h38.1v1.9h-38.1zM83.9 237.4h38.1v1.9h-38.1zM8.8 240.7h37.7v1.9h-37.7zM83.9 248.8h38.1v1.9h-38.1zM83.9 273.3h38.1v1.9h-38.1zM83.9 275h38.1v1.9h-38.1zM46.5 281.5h37.4v1.9h-37.4zM83.9 284.8h38.1v1.9h-38.1zM83.9 293h38.1v1.9h-38.1zM46.5 310.9h37.4v1.9h-37.4zM83.9 312.6h38.1v1.9h-38.1zM122 369.8h39v1.9h-39zM199 392.6h37.8v1.9h-37.8zM122 400.8h39v1.9h-39zM161 407.3h38v1.9h-38zM122 409h39v1.9h-39zM199 426.9h37.8v1.9h-37.8zM122 438.4h39v1.9h-39zM732.9 453.1h37.9v1.9h-37.9zM161 458h38v1.9h-38zM122 467.8h39v1.9h-39zM122 484.1h39v1.9h-39zM199 487.4h37.8v1.9h-37.8zM543.4 521.7h37.6v1.9h-37.6zM543.4 552.8h37.6v1.9h-37.6zM694.9 572.4h38v1.9h-38zM543.4 588.7h37.6v1.9h-37.6zM543.4 596.9h37.6v1.9h-37.6zM352 631.2h37.7v1.9h-37.7zM352 632.8h37.7v1.9h-37.7zM428.3 639.4h38.2v1.9h-38.2zM428.3 657.3h38.2v1.9h-38.2zM428.3 660.6h38.2v1.9h-38.2zM428.3 665.5h38.2v1.9h-38.2zM352 683.5h37.7v1.9h-37.7zM352 694.9h37.7v1.9h-37.7zM46.5 712.9h37.4v1.9h-37.4zM428.3 717.8h38.2v1.9h-38.2zM428.3 724.3h38.2v1.9h-38.2zM428.3 740.7h38.2v1.9h-38.2zM352 752.1h37.7v1.9h-37.7zM275.2 770.1h38.4v1.9h-38.4zM275.2 779.9h38.4v1.9h-38.4zM275.2 801.1h38.4v1.9h-38.4zM275.2 807.7h38.4v1.9h-38.4zM313.6 817.5h38.4v1.9h-38.4zM313.6 820.7h38.4v1.9h-38.4zM275.2 824h38.4v1.9h-38.4zM275.2 828.9h38.4v1.9h-38.4zM275.2 832.2h38.4v1.9h-38.4zM275.2 833.8h38.4v1.9h-38.4zM275.2 835.4h38.4v1.9h-38.4zM275.2 840.3h38.4v1.9h-38.4zM275.2 843.6h76.8v1.9h-76.8zM8.8 846.9h37.7v1.9h-37.7zM275.2 850.1h76.8v1.9h-76.8zM275.2 866.5h38.4v1.9h-38.4zM809.4 892.6h38.6v1.9h-38.6zM809.4 895.9h38.6v1.9h-38.6zM924.5 895.9h39.3v1.9h-39.3zM619 899.2h37.9v1.9h-37.9zM885.9 899.2h38.6v1.9h-38.6zM924.5 900.8h39.3v1.9h-39.3zM809.4 902.4h38.6v1.9h-38.6zM848 907.3h37.9v1.9h-37.9zM809.4 918.8h38.6v1.9h-38.6zM732.9 923.7h37.9v1.9h-37.9zM770.8 928.6h38.6v1.9h-38.6zM581 930.2h38v1.9h-38zM656.9 930.2h38v1.9h-38zM924.5 933.5h39.3v1.9h-39.3zM732.9 938.4h76.5v1.9h-76.5zM809.4 940h38.6v1.9h-38.6zM924.5 940h39.3v1.9h-39.3zM809.4 944.9h76.5v1.9h-76.5zM848 946.5h37.9v1.9h-37.9zM809.4 954.7h38.6v1.9h-38.6zM885.9 959.6h38.6v1.9h-38.6zM885.9 961.2h38.6v1.9h-38.6zM848 972.7h37.9v1.9h-37.9zM924.5 980.9h39.3v1.9h-39.3zM770.8 982.5h38.6v1.9h-38.6zM848 998.8h37.9v1.9h-37.9zM885.9 1000.5h38.6v1.9h-38.6zM848 1003.7h37.9v1.9h-37.9zM924.5 1010.3h39.3v1.9h-39.3zM809.4 1011.9h38.6v1.9h-38.6z"/>
<path fill="#f1fad9" d="M656.9 235.8h76v1.9h-76zM122 257h39v1.9h-39zM199 257h37.8v1.9h-37.8zM732.9 266.8h76.5v1.9h-76.5zM848 266.8h37.9v1.9h-37.9zM504.2 275h39.2v1.9h-39.2zM581 275h38v1.9h-38zM428.3 279.9h38.2v1.9h-38.2zM619 279.9h75.9v1.9h-75.9zM732.9 279.9h37.9v1.9h-37.9zM809.4 371.4h76.5v1.9h-76.5zM275.2 376.3h38.4v1.9h-38.4zM848 387.7h76.5v1.9h-76.5zM504.2 399.2h39.2v1.9h-39.2zM46.5 402.4h37.4v1.9h-37.4zM656.9 404.1h152.5v1.9h-152.5zM809.4 407.3h38.6v1.9h-38.6zM885.9 407.3h38.6v1.9h-38.6zM46.5 410.6h75.5v1.9h-75.5zM236.8 423.7h38.4v1.9h-38.4zM8.8 469.4h75.1v1.9h-75.1zM543.4 479.2h151.5v1.9h-151.5zM313.6 485.8h76.1v1.9h-76.1zM770.8 511.9h38.6v1.9h-38.6zM848 521.7h76.5v1.9h-76.5zM122 526.6h191.6v1.9h-191.6zM313.6 552.8h76.1v1.9h-76.1zM352 557.7h37.7v1.9h-37.7zM428.3 585.4h38.2v1.9h-38.2zM199 595.2h76.2v1.9h-76.2zM848 595.2h115.8v1.9h-115.8zM848 598.5h37.9v1.9h-37.9zM389.7 601.8h76.8v1.9h-76.8zM313.6 609.9h76.1v1.9h-76.1zM275.2 623h38.4v1.9h-38.4zM504.2 629.6h39.2v1.9h-39.2zM848 641h115.8v1.9h-115.8zM466.5 650.8h76.9v1.9h-76.9zM199 675.3h37.8v1.9h-37.8zM275.2 675.3h38.4v1.9h-38.4zM581 680.2h38v1.9h-38zM694.9 690h38v1.9h-38zM770.8 690h38.6v1.9h-38.6zM275.2 693.3h76.8v1.9h-76.8zM466.5 704.7h37.7v1.9h-37.7zM619 745.6h37.9v1.9h-37.9zM924.5 745.6h39.3v1.9h-39.3zM504.2 747.2h39.2v1.9h-39.2zM504.2 752.1h114.8v1.9h-114.8zM656.9 752.1h38v1.9h-38zM885.9 776.6h38.6v1.9h-38.6zM161 806h38v1.9h-38zM122 807.7h39v1.9h-39zM389.7 833.8h76.8v1.9h-76.8zM504.2 833.8h39.2v1.9h-39.2zM46.5 835.4h75.5v1.9h-75.5zM885.9 859.9h77.9v1.9h-77.9zM619 876.3h37.9v1.9h-37.9zM694.9 876.3h38v1.9h-38zM8.8 931.8h37.7v1.9h-37.7zM161 949.8h38v1.9h-38zM275.2 953.1h76.8v1.9h-76.8zM389.7 953.1h38.6v1.9h-38.6zM199 972.7h37.8v1.9h-37.8zM466.5 976h37.7v1.9h-37.7z"/>
<path fill="#fee496" d="M8.8 237.4h37.7v1.9h-37.7zM732.9 278.3h37.9v1.9h-37.9zM8.8 288.1h37.7v1.9h-37.7zM8.8 296.2h37.7v1.9h-37.7zM8.8 309.3h37.7v1.9h-37.7zM46.5 324h37.4v1.9h-37.4zM694.9 324h38v1.9h-38zM46.5 325.6h37.4v1.9h-37.4zM8.8 343.6h75.1v1.9h-75.1zM46.5 345.2h37.4v1.9h-37.4zM46.5 346.9h37.4v1.9h-37.4zM656.9 361.6h38v1.9h-38zM656.9 363.2h76v1.9h-76zM732.9 366.5h37.9v1.9h-37.9zM199 373h37.8v1.9h-37.8zM732.9 405.7h37.9v1.9h-37.9zM694.9 423.7h38v1.9h-38zM732.9 431.8h37.9v1.9h-37.9zM694.9 433.5h38v1.9h-38zM199 485.8h37.8v1.9h-37.8zM619 502.1h37.9v1.9h-37.9zM466.5 507h37.7v1.9h-37.7zM543.4 513.5h37.6v1.9h-37.6zM466.5 531.5h37.7v1.9h-37.7zM504.2 546.2h39.2v1.9h-39.2zM504.2 559.3h39.2v1.9h-39.2zM656.9 572.4h38v1.9h-38zM732.9 572.4h37.9v1.9h-37.9zM466.5 580.5h37.7v1.9h-37.7zM543.4 585.4h37.6v1.9h-37.6zM656.9 590.3h38v1.9h-38zM466.5 601.8h76.9v1.9h-76.9zM466.5 608.3h37.7v1.9h-37.7zM428.3 626.3h38.2v1.9h-38.2zM352 641h37.7v1.9h-37.7zM428.3 641h38.2v1.9h-38.2zM352 654.1h37.7v1.9h-37.7zM352 668.8h37.7v1.9h-37.7zM352 675.3h37.7v1.9h-37.7zM352 678.6h37.7v1.9h-37.7zM428.3 686.7h38.2v1.9h-38.2zM428.3 694.9h38.2v1.9h-38.2zM619 709.6h37.9v1.9h-37.9zM428.3 719.4h38.2v1.9h-38.2zM428.3 727.6h38.2v1.9h-38.2zM428.3 732.5h38.2v1.9h-38.2zM581 766.8h38v1.9h-38zM236.8 876.3h38.4v1.9h-38.4zM694.9 899.2h38v1.9h-38zM619 923.7h37.9v1.9h-37.9zM581 933.5h38v1.9h-38zM656.9 941.6h38v1.9h-38zM732.9 941.6h37.9v1.9h-37.9zM732.9 961.2h37.9v1.9h-37.9zM656.9 997.2h38v1.9h-38zM581 1011.9h38v1.9h-38zM656.9 1011.9h38v1.9h-38z"/>
<path fill="#fee699" d="M46.5 237.4h37.4v1.9h-37.4zM8.8 258.6h37.7v1.9h-37.7zM8.8 333.8h37.7v1.9h-37.7zM46.5 335.4h37.4v1.9h-37.4zM8.8 356.7h37.7v1.9h-37.7zM619 361.6h37.9v1.9h-37.9zM161 363.2h38v1.9h-38zM199 382.8h37.8v1.9h-37.8zM161 395.9h38v1.9h-38zM199 397.5h37.8v1.9h-37.8zM694.9 400.8h38v1.9h-38zM732.9 410.6h37.9v1.9h-37.9zM199 422h37.8v1.9h-37.8zM161 423.7h38v1.9h-38zM732.9 423.7h37.9v1.9h-37.9zM732.9 425.3h37.9v1.9h-37.9zM161 426.9h38v1.9h-38zM199 433.5h37.8v1.9h-37.8zM581 433.5h38v1.9h-38zM122 444.9h39v1.9h-39zM161 462.9h38v1.9h-38zM161 474.3h38v1.9h-38zM619 485.8h37.9v1.9h-37.9zM619 490.7h37.9v1.9h-37.9zM543.4 493.9h37.6v1.9h-37.6zM504.2 497.2h39.2v1.9h-39.2zM543.4 505.4h37.6v1.9h-37.6zM543.4 538.1h37.6v1.9h-37.6zM466.5 577.3h37.7v1.9h-37.7zM466.5 590.3h37.7v1.9h-37.7zM543.4 590.3h37.6v1.9h-37.6zM694.9 590.3h38v1.9h-38zM504.2 592h39.2v1.9h-39.2zM466.5 595.2h37.7v1.9h-37.7zM504.2 598.5h76.8v1.9h-76.8zM656.9 603.4h38v1.9h-38zM543.4 608.3h37.6v1.9h-37.6zM352 634.5h37.7v1.9h-37.7zM352 647.5h37.7v1.9h-37.7zM352 652.4h37.7v1.9h-37.7zM428.3 690h38.2v1.9h-38.2zM352 698.2h37.7v1.9h-37.7zM428.3 703.1h38.2v1.9h-38.2zM352 706.3h37.7v1.9h-37.7zM352 721.1h37.7v1.9h-37.7zM236.8 817.5h38.4v1.9h-38.4zM236.8 882.8h38.4v1.9h-38.4zM581 953.1h38v1.9h-38zM694.9 964.5h38v1.9h-38zM694.9 1011.9h38v1.9h-38z"/>
<path fill="#f67f51" d="M46.5 239h37.4v1.9h-37.4zM8.8 247.2h37.7v1.9h-37.7zM83.9 247.2h38.1v1.9h-38.1zM46.5 330.5h37.4v1.9h-37.4zM46.5 353.4h37.4v1.9h-37.4zM199 391h37.8v1.9h-37.8zM199 400.8h37.8v1.9h-37.8zM161 487.4h38v1.9h-38zM466.5 518.4h37.7v1.9h-37.7zM466.5 570.7h37.7v1.9h-37.7zM466.5 574h37.7v1.9h-37.7zM543.4 601.8h37.6v1.9h-37.6zM543.4 619.7h37.6v1.9h-37.6zM389.7 631.2h38.6v1.9h-38.6zM389.7 650.8h38.6v1.9h-38.6zM389.7 698.2h38.6v1.9h-38.6zM389.7 699.8h38.6v1.9h-38.6zM352 726h37.7v1.9h-37.7zM389.7 739h38.6v1.9h-38.6z"/>
<path fill="#fff1aa" d="M83.9 239h38.1v1.9h-38.1zM83.9 242.3h38.1v1.9h-38.1zM83.9 243.9h38.1v1.9h-38.1zM46.5 247.2h37.4v1.9h-37.4zM83.9 252.1h38.1v1.9h-38.1zM83.9 255.4h38.1v1.9h-38.1zM83.9 260.3h38.1v1.9h-38.1zM46.5 275h37.4v1.9h-37.4zM83.9 301.1h38.1v1.9h-38.1zM46.5 320.7h37.4v1.9h-37.4zM83.9 328.9h38.1v1.9h-38.1zM694.9 333.8h75.9v1.9h-75.9zM83.9 340.3h38.1v1.9h-38.1zM83.9 346.9h38.1v1.9h-38.1zM83.9 356.7h38.1v1.9h-38.1zM122 368.1h39v1.9h-39zM161 373h38v1.9h-38zM122 374.7h39v1.9h-39zM199 377.9h37.8v1.9h-37.8zM122 410.6h39v1.9h-39zM581 426.9h38v1.9h-38zM161 440h38v1.9h-38zM619 472.7h37.9v1.9h-37.9zM199 476h37.8v1.9h-37.8zM122 477.6h39v1.9h-39zM161 489h38v1.9h-38zM581 603.4h38v1.9h-38zM619 735.8h37.9v1.9h-37.9zM694.9 735.8h38v1.9h-38zM313.6 765.2h38.4v1.9h-38.4zM275.2 781.5h38.4v1.9h-38.4zM313.6 791.3h38.4v1.9h-38.4zM275.2 792.9h38.4v1.9h-38.4zM275.2 794.6h38.4v1.9h-38.4zM275.2 799.5h38.4v1.9h-38.4zM313.6 802.8h38.4v1.9h-38.4zM313.6 830.5h38.4v1.9h-38.4zM275.2 837.1h38.4v1.9h-38.4zM313.6 846.9h38.4v1.9h-38.4zM275.2 848.5h38.4v1.9h-38.4zM313.6 863.2h38.4v1.9h-38.4zM313.6 868.1h38.4v1.9h-38.4zM275.2 876.3h38.4v1.9h-38.4zM313.6 884.4h38.4v1.9h-38.4zM924.5 886.1h39.3v1.9h-39.3zM770.8 891h38.6v1.9h-38.6zM848 891h76.5v1.9h-76.5zM848 895.9h37.9v1.9h-37.9zM809.4 899.2h38.6v1.9h-38.6zM770.8 905.7h38.6v1.9h-38.6zM924.5 910.6h39.3v1.9h-39.3zM770.8 913.9h38.6v1.9h-38.6zM809.4 917.1h38.6v1.9h-38.6zM809.4 923.7h38.6v1.9h-38.6zM656.9 925.3h38v1.9h-38zM770.8 931.8h77.2v1.9h-77.2zM581 940h38v1.9h-38zM924.5 946.5h39.3v1.9h-39.3zM770.8 953.1h38.6v1.9h-38.6zM848 953.1h37.9v1.9h-37.9zM770.8 956.3h38.6v1.9h-38.6zM885.9 966.1h38.6v1.9h-38.6zM848 967.8h76.5v1.9h-76.5zM924.5 969.4h39.3v1.9h-39.3zM619 977.6h37.9v1.9h-37.9zM694.9 977.6h38v1.9h-38zM770.8 979.2h38.6v1.9h-38.6zM924.5 979.2h39.3v1.9h-39.3zM770.8 980.9h38.6v1.9h-38.6zM809.4 982.5h38.6v1.9h-38.6zM656.9 987.4h113.9v1.9h-113.9zM770.8 995.6h38.6v1.9h-38.6zM885.9 998.8h38.6v1.9h-38.6zM885.9 1003.7h38.6v1.9h-38.6zM83.9 1007h38.1v1.9h-38.1zM809.4 1008.6h38.6v1.9h-38.6zM770.8 1010.3h38.6v1.9h-38.6zM770.8 1013.5h38.6v1.9h-38.6z"/>
<path fill="#ed6845" d="M46.5 240.7h37.4v1.9h-37.4zM8.8 255.4h37.7v1.9h-37.7zM8.8 275h37.7v1.9h-37.7zM8.8 278.3h37.7v1.9h-37.7zM8.8 279.9h37.7v1.9h-37.7zM46.5 294.6h37.4v1.9h-37.4zM8.8 315.8h37.7v1.9h-37.7zM122 364.9h39v1.9h-39zM161 389.4h38v1.9h-38zM122 397.5h39v1.9h-39zM161 400.8h38v1.9h-38zM199 407.3h37.8v1.9h-37.8zM122 415.5h39v1.9h-39zM161 471.1h38v1.9h-38zM199 477.6h37.8v1.9h-37.8zM161 482.5h38v1.9h-38zM122 489h39v1.9h-39zM466.5 525h37.7v1.9h-37.7zM466.5 544.6h37.7v1.9h-37.7zM504.2 554.4h39.2v1.9h-39.2zM543.4 569.1h37.6v1.9h-37.6zM466.5 593.6h37.7v1.9h-37.7zM504.2 613.2h39.2v1.9h-39.2zM885.9 905.7h38.6v1.9h-38.6zM885.9 909h38.6v1.9h-38.6zM885.9 943.3h38.6v1.9h-38.6z"/>
<path fill="#fc955e" d="M83.9 240.7h38.1v1.9h-38.1zM161 369.8h38v1.9h-38zM122 407.3h39v1.9h-39zM199 417.1h37.8v1.9h-37.8zM161 428.6h38v1.9h-38zM199 469.4h37.8v1.9h-37.8zM122 472.7h39v1.9h-39zM161 480.9h75.8v1.9h-75.8zM122 482.5h39v1.9h-39zM466.5 498.8h37.7v1.9h-37.7zM466.5 502.1h37.7v1.9h-37.7zM466.5 523.3h37.7v1.9h-37.7zM504.2 526.6h39.2v1.9h-39.2zM504.2 528.2h39.2v1.9h-39.2zM543.4 541.3h37.6v1.9h-37.6zM466.5 547.9h37.7v1.9h-37.7zM504.2 560.9h39.2v1.9h-39.2zM543.4 564.2h37.6v1.9h-37.6zM504.2 575.6h39.2v1.9h-39.2zM543.4 600.1h37.6v1.9h-37.6zM428.3 624.6h38.2v1.9h-38.2zM428.3 636.1h38.2v1.9h-38.2zM389.7 647.5h38.6v1.9h-38.6zM389.7 659h76.8v1.9h-76.8zM924.5 670.4h39.3v1.9h-39.3zM428.3 675.3h38.2v1.9h-38.2zM428.3 685.1h38.2v1.9h-38.2zM352 690h37.7v1.9h-37.7zM428.3 712.9h38.2v1.9h-38.2zM428.3 753.7h38.2v1.9h-38.2zM313.6 810.9h38.4v1.9h-38.4zM313.6 861.6h38.4v1.9h-38.4zM313.6 877.9h38.4v1.9h-38.4zM770.8 904.1h38.6v1.9h-38.6zM924.5 904.1h39.3v1.9h-39.3zM924.5 907.3h39.3v1.9h-39.3zM924.5 961.2h39.3v1.9h-39.3zM924.5 984.1h39.3v1.9h-39.3z"/>
<path fill="#fff7b2" d="M199 240.7h37.8v1.9h-37.8zM83.9 250.5h38.1v1.9h-38.1zM83.9 297.9h38.1v1.9h-38.1zM809.4 333.8h38.6v1.9h-38.6zM732.9 335.4h37.9v1.9h-37.9zM83.9 338.7h38.1v1.9h-38.1zM275.2 342h38.4v1.9h-38.4zM428.3 342h38.2v1.9h-38.2zM83.9 348.5h38.1v1.9h-38.1zM236.8 364.9h38.4v1.9h-38.4zM848 382.8h37.9v1.9h-37.9zM199 384.5h37.8v1.9h-37.8zM428.3 402.4h75.9v1.9h-75.9zM161 409h38v1.9h-38zM236.8 410.6h38.4v1.9h-38.4zM924.5 428.6h39.3v1.9h-39.3zM8.8 435.1h37.7v1.9h-37.7zM161 436.7h38v1.9h-38zM275.2 446.5h38.4v1.9h-38.4zM389.7 446.5h38.6v1.9h-38.6zM694.9 453.1h38v1.9h-38zM122 454.7h39v1.9h-39zM122 458h39v1.9h-39zM199 464.5h37.8v1.9h-37.8zM161 485.8h38v1.9h-38zM122 492.3h39v1.9h-39zM694.9 516.8h38v1.9h-38zM694.9 525h38v1.9h-38zM83.9 544.6h77.1v1.9h-77.1zM732.9 552.8h37.9v1.9h-37.9zM352 559.3h37.7v1.9h-37.7zM770.8 572.4h115.1v1.9h-115.1zM428.3 578.9h38.2v1.9h-38.2zM83.9 606.7h38.1v1.9h-38.1zM236.8 694.9h38.4v1.9h-38.4zM313.6 694.9h38.4v1.9h-38.4zM122 712.9h39v1.9h-39zM161 726h38v1.9h-38zM236.8 726h38.4v1.9h-38.4zM275.2 755.4h38.4v1.9h-38.4zM275.2 778.2h38.4v1.9h-38.4zM275.2 791.3h38.4v1.9h-38.4zM313.6 794.6h38.4v1.9h-38.4zM275.2 796.2h38.4v1.9h-38.4zM275.2 810.9h38.4v1.9h-38.4zM275.2 815.8h38.4v1.9h-38.4zM275.2 819.1h38.4v1.9h-38.4zM275.2 825.6h38.4v1.9h-38.4zM313.6 828.9h38.4v1.9h-38.4zM313.6 845.2h38.4v1.9h-38.4zM313.6 858.3h38.4v1.9h-38.4zM275.2 861.6h38.4v1.9h-38.4zM275.2 863.2h38.4v1.9h-38.4zM275.2 879.5h38.4v1.9h-38.4zM848 886.1h37.9v1.9h-37.9zM656.9 891h38v1.9h-38zM809.4 891h38.6v1.9h-38.6zM924.5 902.4h39.3v1.9h-39.3zM694.9 904.1h38v1.9h-38zM885.9 904.1h38.6v1.9h-38.6zM924.5 905.7h39.3v1.9h-39.3zM848 913.9h37.9v1.9h-37.9zM770.8 917.1h38.6v1.9h-38.6zM848 917.1h37.9v1.9h-37.9zM924.5 922h39.3v1.9h-39.3zM848 925.3h37.9v1.9h-37.9zM848 935.1h37.9v1.9h-37.9zM619 949.8h37.9v1.9h-37.9zM924.5 953.1h39.3v1.9h-39.3zM770.8 961.2h38.6v1.9h-38.6zM770.8 969.4h77.2v1.9h-77.2zM732.9 974.3h37.9v1.9h-37.9zM809.4 984.1h38.6v1.9h-38.6zM770.8 989h38.6v1.9h-38.6zM770.8 990.7h38.6v1.9h-38.6zM848 995.6h37.9v1.9h-37.9zM770.8 997.2h38.6v1.9h-38.6zM848 1002.1h37.9v1.9h-37.9zM924.5 1005.4h39.3v1.9h-39.3zM770.8 1011.9h38.6v1.9h-38.6z"/>
<path fill="#fff5af" d="M236.8 240.7h152.9v1.9h-152.9zM46.5 250.5h37.4v1.9h-37.4zM83.9 253.7h38.1v1.9h-38.1zM83.9 271.7h38.1v1.9h-38.1zM83.9 278.3h38.1v1.9h-38.1zM83.9 289.7h38.1v1.9h-38.1zM83.9 307.7h38.1v1.9h-38.1zM83.9 315.8h38.1v1.9h-38.1zM46.5 317.5h75.5v1.9h-75.5zM83.9 322.4h38.1v1.9h-38.1zM770.8 333.8h38.6v1.9h-38.6zM694.9 335.4h38v1.9h-38zM770.8 335.4h77.2v1.9h-77.2zM122 342h39v1.9h-39zM313.6 342h114.7v1.9h-114.7zM199 348.5h114.6v1.9h-114.6zM83.9 359.9h38.1v1.9h-38.1zM83.9 364.9h38.1v1.9h-38.1zM122 376.3h39v1.9h-39zM732.9 382.8h115.1v1.9h-115.1zM885.9 382.8h38.6v1.9h-38.6zM122 392.6h39v1.9h-39zM770.8 400.8h38.6v1.9h-38.6zM504.2 402.4h76.8v1.9h-76.8zM161 410.6h38v1.9h-38zM275.2 410.6h38.4v1.9h-38.4zM161 417.1h38v1.9h-38zM122 423.7h39v1.9h-39zM848 428.6h76.5v1.9h-76.5zM83.9 435.1h38.1v1.9h-38.1zM199 435.1h37.8v1.9h-37.8zM313.6 446.5h76.1v1.9h-76.1zM236.8 454.7h76.8v1.9h-76.8zM161 464.5h38v1.9h-38zM809.4 467.8h76.5v1.9h-76.5zM848 477.6h37.9v1.9h-37.9zM122 479.2h39v1.9h-39zM466.5 484.1h114.5v1.9h-114.5zM83.9 489h38.1v1.9h-38.1zM732.9 516.8h115.1v1.9h-115.1zM122 518.4h77v1.9h-77zM732.9 525h76.5v1.9h-76.5zM619 552.8h113.9v1.9h-113.9zM313.6 559.3h38.4v1.9h-38.4zM389.7 578.9h38.6v1.9h-38.6zM694.9 603.4h38v1.9h-38zM122 606.7h39v1.9h-39zM122 616.5h39v1.9h-39zM732.9 616.5h115.1v1.9h-115.1zM543.4 641h189.5v1.9h-189.5zM199 694.9h37.8v1.9h-37.8zM275.2 694.9h38.4v1.9h-38.4zM83.9 712.9h38.1v1.9h-38.1zM161 712.9h38v1.9h-38zM732.9 724.3h115.1v1.9h-115.1zM199 726h37.8v1.9h-37.8zM732.9 735.8h37.9v1.9h-37.9zM732.9 773.3h37.9v1.9h-37.9zM275.2 776.6h38.4v1.9h-38.4zM313.6 778.2h38.4v1.9h-38.4zM313.6 786.4h38.4v1.9h-38.4zM275.2 788h38.4v1.9h-38.4zM275.2 789.7h38.4v1.9h-38.4zM313.6 792.9h38.4v1.9h-38.4zM581 796.2h75.9v1.9h-75.9zM313.6 809.3h38.4v1.9h-38.4zM122 812.6h39v1.9h-39zM313.6 814.2h38.4v1.9h-38.4zM313.6 815.8h38.4v1.9h-38.4zM275.2 822.4h38.4v1.9h-38.4zM313.6 835.4h38.4v1.9h-38.4zM313.6 842h38.4v1.9h-38.4zM313.6 855h38.4v1.9h-38.4zM313.6 866.5h38.4v1.9h-38.4zM275.2 868.1h38.4v1.9h-38.4zM313.6 869.7h38.4v1.9h-38.4zM275.2 871.4h38.4v1.9h-38.4zM313.6 876.3h38.4v1.9h-38.4zM313.6 882.8h38.4v1.9h-38.4zM770.8 892.6h38.6v1.9h-38.6zM924.5 899.2h39.3v1.9h-39.3zM770.8 909h38.6v1.9h-38.6zM809.4 910.6h38.6v1.9h-38.6zM885.9 912.2h38.6v1.9h-38.6zM885.9 913.9h38.6v1.9h-38.6zM809.4 920.4h38.6v1.9h-38.6zM924.5 920.4h39.3v1.9h-39.3zM809.4 922h38.6v1.9h-38.6zM885.9 922h38.6v1.9h-38.6zM694.9 925.3h38v1.9h-38zM809.4 935.1h38.6v1.9h-38.6zM848 940h37.9v1.9h-37.9zM924.5 941.6h39.3v1.9h-39.3zM809.4 943.3h38.6v1.9h-38.6zM770.8 946.5h38.6v1.9h-38.6zM848 948.2h37.9v1.9h-37.9zM848 954.7h37.9v1.9h-37.9zM848 958h76.5v1.9h-76.5zM809.4 959.6h38.6v1.9h-38.6zM924.5 959.6h39.3v1.9h-39.3zM848 961.2h37.9v1.9h-37.9zM924.5 962.9h39.3v1.9h-39.3zM885.9 964.5h38.6v1.9h-38.6zM848 966.1h37.9v1.9h-37.9zM770.8 976h38.6v1.9h-38.6zM809.4 980.9h38.6v1.9h-38.6zM885.9 982.5h38.6v1.9h-38.6zM848 985.8h37.9v1.9h-37.9zM809.4 987.4h38.6v1.9h-38.6zM924.5 992.3h39.3v1.9h-39.3zM848 997.2h37.9v1.9h-37.9zM848 1000.5h37.9v1.9h-37.9zM848 1008.6h76.5v1.9h-76.5z"/>
<path fill="#feeda4" d="M8.8 242.3h37.7v1.9h-37.7zM8.8 250.5h37.7v1.9h-37.7zM8.8 265.2h75.1v1.9h-75.1zM8.8 281.5h37.7v1.9h-37.7zM83.9 330.5h38.1v1.9h-38.1zM8.8 337.1h37.7v1.9h-37.7zM581 337.1h38v1.9h-38zM656.9 337.1h38v1.9h-38zM8.8 353.4h37.7v1.9h-37.7zM8.8 358.3h37.7v1.9h-37.7zM122 366.5h39v1.9h-39zM619 368.1h75.9v1.9h-75.9zM161 376.3h38v1.9h-38zM161 377.9h38v1.9h-38zM161 387.7h38v1.9h-38zM694.9 405.7h38v1.9h-38zM122 418.8h39v1.9h-39zM122 426.9h39v1.9h-39zM122 440h39v1.9h-39zM161 441.6h75.8v1.9h-75.8zM161 444.9h38v1.9h-38zM656.9 453.1h38v1.9h-38zM732.9 454.7h37.9v1.9h-37.9zM619 456.4h37.9v1.9h-37.9zM581 472.7h38v1.9h-38zM199 482.5h37.8v1.9h-37.8zM199 489h37.8v1.9h-37.8zM199 490.7h37.8v1.9h-37.8zM543.4 534.8h37.6v1.9h-37.6zM543.4 575.6h37.6v1.9h-37.6zM732.9 590.3h37.9v1.9h-37.9zM543.4 605h37.6v1.9h-37.6zM428.3 634.5h38.2v1.9h-38.2zM428.3 644.3h38.2v1.9h-38.2zM352 659h37.7v1.9h-37.7zM352 660.6h37.7v1.9h-37.7zM352 670.4h37.7v1.9h-37.7zM352 676.9h37.7v1.9h-37.7zM428.3 676.9h38.2v1.9h-38.2zM428.3 716.2h38.2v1.9h-38.2zM352 727.6h37.7v1.9h-37.7zM656.9 735.8h38v1.9h-38zM352 739h37.7v1.9h-37.7zM352 742.3h37.7v1.9h-37.7zM428.3 745.6h38.2v1.9h-38.2zM313.6 758.6h38.4v1.9h-38.4zM313.6 760.3h38.4v1.9h-38.4zM313.6 775h38.4v1.9h-38.4zM313.6 776.6h38.4v1.9h-38.4zM313.6 806h38.4v1.9h-38.4zM313.6 832.2h38.4v1.9h-38.4zM313.6 838.7h38.4v1.9h-38.4zM313.6 864.8h38.4v1.9h-38.4zM313.6 873h38.4v1.9h-38.4zM885.9 887.7h77.9v1.9h-77.9zM885.9 889.4h38.6v1.9h-38.6zM770.8 894.3h38.6v1.9h-38.6zM656.9 899.2h38v1.9h-38zM770.8 902.4h38.6v1.9h-38.6zM809.4 907.3h38.6v1.9h-38.6zM809.4 909h38.6v1.9h-38.6zM848 920.4h37.9v1.9h-37.9zM732.9 925.3h37.9v1.9h-37.9zM924.5 926.9h39.3v1.9h-39.3zM619 930.2h37.9v1.9h-37.9zM770.8 930.2h38.6v1.9h-38.6zM885.9 936.7h38.6v1.9h-38.6zM809.4 938.4h38.6v1.9h-38.6zM924.5 938.4h39.3v1.9h-39.3zM809.4 941.6h38.6v1.9h-38.6zM619 953.1h37.9v1.9h-37.9zM885.9 956.3h38.6v1.9h-38.6zM809.4 972.7h38.6v1.9h-38.6zM885.9 976h38.6v1.9h-38.6zM809.4 979.2h38.6v1.9h-38.6zM770.8 987.4h38.6v1.9h-38.6zM924.5 993.9h39.3v1.9h-39.3zM885.9 997.2h38.6v1.9h-38.6zM770.8 1000.5h38.6v1.9h-38.6zM770.8 1002.1h38.6v1.9h-38.6zM619 1007h75.9v1.9h-75.9zM770.8 1007h38.6v1.9h-38.6zM924.5 1008.6h39.3v1.9h-39.3z"/>
<path fill="#f2744b" d="M46.5 242.3h37.4v1.9h-37.4zM46.5 258.6h37.4v1.9h-37.4zM122 386.1h39v1.9h-39zM161 438.4h38v1.9h-38zM199 479.2h37.8v1.9h-37.8zM122 490.7h39v1.9h-39zM504.2 495.6h39.2v1.9h-39.2zM504.2 507h39.2v1.9h-39.2zM504.2 521.7h39.2v1.9h-39.2zM543.4 565.8h37.6v1.9h-37.6zM466.5 567.5h37.7v1.9h-37.7zM543.4 583.8h37.6v1.9h-37.6zM389.7 652.4h38.6v1.9h-38.6zM389.7 681.8h38.6v1.9h-38.6zM389.7 709.6h38.6v1.9h-38.6zM389.7 712.9h38.6v1.9h-38.6zM352 716.2h37.7v1.9h-37.7zM389.7 735.8h38.6v1.9h-38.6zM389.7 742.3h38.6v1.9h-38.6zM389.7 750.5h38.6v1.9h-38.6zM313.6 819.1h38.4v1.9h-38.4zM885.9 926.9h38.6v1.9h-38.6z"/>
<path fill="#f4794e" d="M46.5 243.9h37.4v1.9h-37.4zM46.5 255.4h37.4v1.9h-37.4zM8.8 261.9h37.7v1.9h-37.7zM46.5 283.2h37.4v1.9h-37.4zM46.5 296.2h37.4v1.9h-37.4zM46.5 307.7h37.4v1.9h-37.4zM199 386.1h37.8v1.9h-37.8zM161 394.3h38v1.9h-38zM199 399.2h37.8v1.9h-37.8zM161 425.3h38v1.9h-38zM199 428.6h37.8v1.9h-37.8zM161 446.5h38v1.9h-38zM199 453.1h37.8v1.9h-37.8zM199 454.7h37.8v1.9h-37.8zM161 472.7h38v1.9h-38zM504.2 505.4h39.2v1.9h-39.2zM466.5 510.3h37.7v1.9h-37.7zM466.5 529.9h37.7v1.9h-37.7zM543.4 529.9h37.6v1.9h-37.6zM466.5 536.4h37.7v1.9h-37.7zM543.4 559.3h37.6v1.9h-37.6zM466.5 564.2h37.7v1.9h-37.7zM504.2 587.1h39.2v1.9h-39.2zM504.2 603.4h39.2v1.9h-39.2zM504.2 623h39.2v1.9h-39.2zM389.7 629.6h38.6v1.9h-38.6zM389.7 649.2h38.6v1.9h-38.6zM389.7 663.9h38.6v1.9h-38.6zM428.3 681.8h38.2v1.9h-38.2zM389.7 708h38.6v1.9h-38.6zM352 712.9h37.7v1.9h-37.7zM352 748.8h37.7v1.9h-37.7zM313.6 804.4h38.4v1.9h-38.4zM275.2 817.5h38.4v1.9h-38.4zM313.6 848.5h38.4v1.9h-38.4z"/>
<path fill="#db3b2d" d="M8.8 245.6h37.7v1.9h-37.7zM46.5 260.3h37.4v1.9h-37.4zM46.5 278.3h37.4v1.9h-37.4zM161 479.2h38v1.9h-38zM504.2 493.9h39.2v1.9h-39.2zM504.2 593.6h39.2v1.9h-39.2zM504.2 616.5h39.2v1.9h-39.2zM275.2 760.3h38.4v1.9h-38.4zM236.8 763.5h38.4v1.9h-38.4zM275.2 766.8h38.4v1.9h-38.4zM236.8 786.4h38.4v1.9h-38.4zM236.8 877.9h38.4v1.9h-38.4z"/>
<path fill="#fb8a57" d="M83.9 245.6h38.1v1.9h-38.1zM199 363.2h37.8v1.9h-37.8zM161 371.4h38v1.9h-38zM199 405.7h37.8v1.9h-37.8zM199 418.8h37.8v1.9h-37.8zM199 423.7h37.8v1.9h-37.8zM122 425.3h39v1.9h-39zM161 431.8h38v1.9h-38zM161 469.4h38v1.9h-38zM199 471.1h37.8v1.9h-37.8zM122 474.3h39v1.9h-39zM504.2 500.5h39.2v1.9h-39.2zM504.2 503.7h39.2v1.9h-39.2zM504.2 508.6h39.2v1.9h-39.2zM543.4 560.9h37.6v1.9h-37.6zM504.2 590.3h39.2v1.9h-39.2zM352 645.9h37.7v1.9h-37.7zM389.7 675.3h38.6v1.9h-38.6zM389.7 691.6h38.6v1.9h-38.6zM389.7 721.1h38.6v1.9h-38.6zM352 724.3h37.7v1.9h-37.7zM352 734.1h37.7v1.9h-37.7zM885.9 944.9h38.6v1.9h-38.6zM885.9 953.1h38.6v1.9h-38.6zM885.9 980.9h38.6v1.9h-38.6zM924.5 1002.1h39.3v1.9h-39.3z"/>
<path fill="#fed186" d="M8.8 248.8h37.7v1.9h-37.7zM732.9 268.4h37.9v1.9h-37.9zM694.9 276.6h38v1.9h-38zM924.5 279.9h39.3v1.9h-39.3zM581 343.6h38v1.9h-38zM581 369.8h38v1.9h-38zM732.9 377.9h37.9v1.9h-37.9zM732.9 446.5h37.9v1.9h-37.9zM466.5 511.9h37.7v1.9h-37.7zM543.4 515.2h37.6v1.9h-37.6zM466.5 521.7h37.7v1.9h-37.7zM543.4 523.3h37.6v1.9h-37.6zM543.4 544.6h37.6v1.9h-37.6zM466.5 551.1h37.7v1.9h-37.7zM543.4 556h37.6v1.9h-37.6zM543.4 557.7h37.6v1.9h-37.6zM504.2 565.8h39.2v1.9h-39.2zM543.4 570.7h37.6v1.9h-37.6zM543.4 593.6h37.6v1.9h-37.6zM543.4 606.7h37.6v1.9h-37.6zM389.7 624.6h38.6v1.9h-38.6zM389.7 662.2h38.6v1.9h-38.6zM581 712.9h38v1.9h-38zM389.7 719.4h38.6v1.9h-38.6zM389.7 730.9h38.6v1.9h-38.6zM389.7 737.4h38.6v1.9h-38.6zM656.9 766.8h38v1.9h-38zM236.8 771.7h38.4v1.9h-38.4zM236.8 784.8h38.4v1.9h-38.4zM236.8 819.1h38.4v1.9h-38.4zM619 881.2h37.9v1.9h-37.9zM581 909h38v1.9h-38zM694.9 909h38v1.9h-38zM656.9 912.2h38v1.9h-38zM770.8 959.6h38.6v1.9h-38.6zM924.5 972.7h39.3v1.9h-39.3zM732.9 1015.2h37.9v1.9h-37.9z"/>
<path fill="#fee090" d="M46.5 248.8h37.4v1.9h-37.4zM694.9 268.4h38v1.9h-38zM694.9 278.3h38v1.9h-38zM46.5 302.8h37.4v1.9h-37.4zM46.5 327.3h37.4v1.9h-37.4zM46.5 328.9h37.4v1.9h-37.4zM8.8 342h37.7v1.9h-37.7zM8.8 355h37.7v1.9h-37.7zM619 363.2h37.9v1.9h-37.9zM732.9 363.2h37.9v1.9h-37.9zM656.9 366.5h38v1.9h-38zM656.9 400.8h38v1.9h-38zM656.9 444.9h38v1.9h-38zM732.9 485.8h37.9v1.9h-37.9zM466.5 495.6h37.7v1.9h-37.7zM543.4 498.8h37.6v1.9h-37.6zM581 502.1h38v1.9h-38zM543.4 510.3h37.6v1.9h-37.6zM543.4 516.8h37.6v1.9h-37.6zM543.4 520.1h37.6v1.9h-37.6zM543.4 525h37.6v1.9h-37.6zM543.4 533.1h37.6v1.9h-37.6zM504.2 544.6h39.2v1.9h-39.2zM466.5 552.8h37.7v1.9h-37.7zM466.5 557.7h37.7v1.9h-37.7zM543.4 567.5h37.6v1.9h-37.6zM466.5 572.4h76.9v1.9h-76.9zM466.5 578.9h37.7v1.9h-37.7zM543.4 587.1h37.6v1.9h-37.6zM543.4 592h37.6v1.9h-37.6zM543.4 603.4h37.6v1.9h-37.6zM504.2 608.3h39.2v1.9h-39.2zM581 608.3h38v1.9h-38zM428.3 627.9h38.2v1.9h-38.2zM694.9 637.7h38v1.9h-38zM352 642.6h37.7v1.9h-37.7zM428.3 678.6h38.2v1.9h-38.2zM352 685.1h37.7v1.9h-37.7zM428.3 696.5h38.2v1.9h-38.2zM428.3 699.8h38.2v1.9h-38.2zM352 701.4h37.7v1.9h-37.7zM352 704.7h37.7v1.9h-37.7zM352 708h37.7v1.9h-37.7zM656.9 709.6h38v1.9h-38zM694.9 712.9h38v1.9h-38zM428.3 726h38.2v1.9h-38.2zM352 730.9h37.7v1.9h-37.7zM428.3 739h38.2v1.9h-38.2zM352 743.9h37.7v1.9h-37.7zM428.3 743.9h38.2v1.9h-38.2zM352 745.6h37.7v1.9h-37.7zM428.3 748.8h38.2v1.9h-38.2zM732.9 912.2h37.9v1.9h-37.9zM581 920.4h75.9v1.9h-75.9zM694.9 923.7h38v1.9h-38zM656.9 938.4h38v1.9h-38zM694.9 961.2h38v1.9h-38zM619 974.3h37.9v1.9h-37.9zM581 980.9h75.9v1.9h-75.9zM619 1000.5h37.9v1.9h-37.9z"/>
<path fill="#eb6342" d="M8.8 252.1h37.7v1.9h-37.7zM46.5 268.4h37.4v1.9h-37.4zM8.8 271.7h37.7v1.9h-37.7zM46.5 288.1h37.4v1.9h-37.4zM46.5 291.3h37.4v1.9h-37.4zM46.5 293h37.4v1.9h-37.4zM46.5 299.5h37.4v1.9h-37.4zM8.8 306h37.7v1.9h-37.7zM8.8 312.6h37.7v1.9h-37.7zM46.5 342h37.4v1.9h-37.4zM122 381.2h39v1.9h-39zM161 466.2h38v1.9h-38zM161 467.8h38v1.9h-38zM199 474.3h37.8v1.9h-37.8zM504.2 515.2h39.2v1.9h-39.2zM543.4 528.2h37.6v1.9h-37.6zM504.2 536.4h39.2v1.9h-39.2zM504.2 578.9h39.2v1.9h-39.2zM466.5 582.2h37.7v1.9h-37.7zM504.2 611.6h39.2v1.9h-39.2zM389.7 667.1h38.6v1.9h-38.6zM389.7 693.3h38.6v1.9h-38.6zM389.7 724.3h38.6v1.9h-38.6z"/>
<path fill="#e04733" d="M8.8 253.7h37.7v1.9h-37.7zM46.5 284.8h37.4v1.9h-37.4zM8.8 340.3h37.7v1.9h-37.7zM161 492.3h38v1.9h-38zM543.4 502.1h37.6v1.9h-37.6zM543.4 511.9h37.6v1.9h-37.6zM504.2 529.9h39.2v1.9h-39.2zM504.2 531.5h39.2v1.9h-39.2zM504.2 552.8h39.2v1.9h-39.2zM504.2 606.7h39.2v1.9h-39.2zM543.4 611.6h37.6v1.9h-37.6zM389.7 639.4h38.6v1.9h-38.6zM389.7 704.7h38.6v1.9h-38.6zM389.7 726h38.6v1.9h-38.6zM236.8 766.8h38.4v1.9h-38.4zM236.8 768.4h38.4v1.9h-38.4zM236.8 775h38.4v1.9h-38.4zM236.8 788h38.4v1.9h-38.4zM236.8 807.7h38.4v1.9h-38.4zM236.8 869.7h38.4v1.9h-38.4zM236.8 884.4h38.4v1.9h-38.4zM885.9 949.8h38.6v1.9h-38.6zM885.9 1007h38.6v1.9h-38.6z"/>
<path fill="#d9362a" d="M46.5 253.7h37.4v1.9h-37.4zM8.8 273.3h37.7v1.9h-37.7zM8.8 286.4h37.7v1.9h-37.7zM46.5 306h37.4v1.9h-37.4zM8.8 310.9h37.7v1.9h-37.7zM8.8 314.2h37.7v1.9h-37.7zM8.8 350.1h37.7v1.9h-37.7zM236.8 758.6h38.4v1.9h-38.4zM236.8 796.2h38.4v1.9h-38.4zM236.8 835.4h38.4v1.9h-38.4zM236.8 871.4h38.4v1.9h-38.4z"/>
<path fill="#f7fccf" d="M199 255.4h37.8v1.9h-37.8zM428.3 258.6h38.2v1.9h-38.2zM694.9 260.3h38v1.9h-38zM543.4 302.8h37.6v1.9h-37.6zM543.4 328.9h37.6v1.9h-37.6zM656.9 342h38v1.9h-38zM313.6 359.9h38.4v1.9h-38.4zM581 363.2h38v1.9h-38zM770.8 363.2h38.6v1.9h-38.6zM389.7 394.3h38.6v1.9h-38.6zM83.9 395.9h38.1v1.9h-38.1zM236.8 397.5h38.4v1.9h-38.4zM619 400.8h37.9v1.9h-37.9zM619 404.1h37.9v1.9h-37.9zM656.9 420.4h38v1.9h-38zM352 433.5h37.7v1.9h-37.7zM848 448.2h37.9v1.9h-37.9zM8.8 467.8h37.7v1.9h-37.7zM236.8 474.3h38.4v1.9h-38.4zM848 474.3h37.9v1.9h-37.9zM46.5 495.6h37.4v1.9h-37.4zM619 523.3h37.9v1.9h-37.9zM732.9 541.3h37.9v1.9h-37.9zM122 552.8h39v1.9h-39zM885.9 552.8h38.6v1.9h-38.6zM389.7 595.2h38.6v1.9h-38.6zM848 611.6h37.9v1.9h-37.9zM8.8 618.1h37.7v1.9h-37.7zM848 619.7h37.9v1.9h-37.9zM809.4 623h38.6v1.9h-38.6zM770.8 626.3h38.6v1.9h-38.6zM313.6 627.9h38.4v1.9h-38.4zM122 650.8h39v1.9h-39zM83.9 701.4h38.1v1.9h-38.1zM809.4 712.9h38.6v1.9h-38.6zM732.9 727.6h37.9v1.9h-37.9zM8.8 730.9h37.7v1.9h-37.7zM122 757h39v1.9h-39zM885.9 757h38.6v1.9h-38.6zM770.8 758.6h38.6v1.9h-38.6zM352 761.9h76.3v1.9h-76.3zM8.8 763.5h37.7v1.9h-37.7zM504.2 763.5h39.2v1.9h-39.2zM581 765.2h38v1.9h-38zM732.9 765.2h37.9v1.9h-37.9zM809.4 765.2h38.6v1.9h-38.6zM352 770.1h76.3v1.9h-76.3zM46.5 771.7h37.4v1.9h-37.4zM83.9 775h38.1v1.9h-38.1zM161 775h38v1.9h-38zM352 778.2h37.7v1.9h-37.7zM122 786.4h39v1.9h-39zM428.3 788h38.2v1.9h-38.2zM656.9 789.7h38v1.9h-38zM619 791.3h37.9v1.9h-37.9zM122 794.6h39v1.9h-39zM581 799.5h38v1.9h-38zM694.9 799.5h38v1.9h-38zM46.5 804.4h37.4v1.9h-37.4zM694.9 809.3h38v1.9h-38zM885.9 812.6h38.6v1.9h-38.6zM46.5 819.1h37.4v1.9h-37.4zM694.9 820.7h38v1.9h-38zM770.8 820.7h38.6v1.9h-38.6zM924.5 824h39.3v1.9h-39.3zM161 827.3h38v1.9h-38zM924.5 827.3h39.3v1.9h-39.3zM46.5 832.2h37.4v1.9h-37.4zM581 835.4h38v1.9h-38zM885.9 837.1h38.6v1.9h-38.6zM809.4 838.7h38.6v1.9h-38.6zM694.9 845.2h38v1.9h-38zM694.9 846.9h38v1.9h-38zM581 848.5h38v1.9h-38zM83.9 850.1h38.1v1.9h-38.1zM352 855h37.7v1.9h-37.7zM389.7 859.9h38.6v1.9h-38.6zM581 863.2h38v1.9h-38zM885.9 871.4h38.6v1.9h-38.6zM428.3 877.9h38.2v1.9h-38.2zM352 879.5h37.7v1.9h-37.7zM83.9 881.2h38.1v1.9h-38.1zM924.5 881.2h39.3v1.9h-39.3zM122 886.1h77v1.9h-77zM428.3 886.1h75.9v1.9h-75.9zM122 887.7h114.8v1.9h-114.8zM275.2 887.7h76.8v1.9h-76.8zM428.3 887.7h75.9v1.9h-75.9zM46.5 889.4h152.5v1.9h-152.5zM236.8 889.4h38.4v1.9h-38.4zM313.6 889.4h76.1v1.9h-76.1zM543.4 889.4h37.6v1.9h-37.6zM83.9 891h77.1v1.9h-77.1zM313.6 891h38.4v1.9h-38.4zM466.5 891h37.7v1.9h-37.7zM313.6 892.6h114.7v1.9h-114.7zM8.8 894.3h37.7v1.9h-37.7zM83.9 894.3h38.1v1.9h-38.1zM236.8 894.3h115.2v1.9h-115.2zM46.5 895.9h267.1v1.9h-267.1zM466.5 895.9h76.9v1.9h-76.9zM83.9 897.5h77.1v1.9h-77.1zM236.8 897.5h38.4v1.9h-38.4zM389.7 897.5h38.6v1.9h-38.6zM466.5 897.5h76.9v1.9h-76.9zM199 899.2h37.8v1.9h-37.8zM313.6 899.2h38.4v1.9h-38.4zM428.3 899.2h75.9v1.9h-75.9zM543.4 899.2h37.6v1.9h-37.6zM46.5 900.8h37.4v1.9h-37.4zM122 900.8h39v1.9h-39zM199 900.8h37.8v1.9h-37.8zM428.3 900.8h38.2v1.9h-38.2zM543.4 900.8h37.6v1.9h-37.6zM46.5 902.4h75.5v1.9h-75.5zM161 902.4h38v1.9h-38zM236.8 902.4h38.4v1.9h-38.4zM428.3 902.4h38.2v1.9h-38.2zM543.4 902.4h37.6v1.9h-37.6zM199 904.1h37.8v1.9h-37.8zM275.2 904.1h38.4v1.9h-38.4zM466.5 904.1h37.7v1.9h-37.7zM543.4 904.1h37.6v1.9h-37.6zM8.8 905.7h37.7v1.9h-37.7zM199 905.7h153v1.9h-153zM161 907.3h152.6v1.9h-152.6zM352 907.3h37.7v1.9h-37.7zM466.5 907.3h37.7v1.9h-37.7zM8.8 909h37.7v1.9h-37.7zM122 909h39v1.9h-39zM199 909h37.8v1.9h-37.8zM389.7 909h38.6v1.9h-38.6zM466.5 909h37.7v1.9h-37.7zM122 910.6h39v1.9h-39zM199 910.6h37.8v1.9h-37.8zM313.6 910.6h38.4v1.9h-38.4zM389.7 910.6h38.6v1.9h-38.6zM83.9 912.2h38.1v1.9h-38.1zM161 912.2h38v1.9h-38zM313.6 912.2h38.4v1.9h-38.4zM389.7 912.2h76.8v1.9h-76.8zM504.2 912.2h76.8v1.9h-76.8zM122 913.9h153.2v1.9h-153.2zM352 913.9h37.7v1.9h-37.7zM466.5 913.9h114.5v1.9h-114.5zM199 915.5h76.2v1.9h-76.2zM428.3 915.5h75.9v1.9h-75.9zM46.5 917.1h37.4v1.9h-37.4zM199 917.1h114.6v1.9h-114.6zM428.3 917.1h38.2v1.9h-38.2zM199 918.8h37.8v1.9h-37.8zM466.5 918.8h37.7v1.9h-37.7zM8.8 920.4h75.1v1.9h-75.1zM236.8 920.4h115.2v1.9h-115.2zM389.7 920.4h76.8v1.9h-76.8zM504.2 920.4h76.8v1.9h-76.8zM8.8 922h37.7v1.9h-37.7zM199 922h37.8v1.9h-37.8zM275.2 922h38.4v1.9h-38.4zM352 922h37.7v1.9h-37.7zM122 923.7h39v1.9h-39zM275.2 923.7h76.8v1.9h-76.8zM389.7 923.7h38.6v1.9h-38.6zM466.5 923.7h37.7v1.9h-37.7zM543.4 923.7h37.6v1.9h-37.6zM46.5 925.3h75.5v1.9h-75.5zM428.3 925.3h38.2v1.9h-38.2zM8.8 926.9h190.2v1.9h-190.2zM236.8 926.9h38.4v1.9h-38.4zM352 926.9h76.3v1.9h-76.3zM466.5 926.9h76.9v1.9h-76.9zM275.2 928.6h38.4v1.9h-38.4zM352 928.6h152.2v1.9h-152.2zM161 930.2h38v1.9h-38zM504.2 930.2h39.2v1.9h-39.2zM122 931.8h39v1.9h-39zM199 931.8h37.8v1.9h-37.8zM313.6 931.8h38.4v1.9h-38.4zM466.5 931.8h37.7v1.9h-37.7zM543.4 931.8h37.6v1.9h-37.6zM46.5 933.5h37.4v1.9h-37.4zM122 933.5h39v1.9h-39zM199 933.5h76.2v1.9h-76.2zM543.4 933.5h37.6v1.9h-37.6zM8.8 935.1h37.7v1.9h-37.7zM122 935.1h39v1.9h-39zM389.7 935.1h38.6v1.9h-38.6zM466.5 935.1h37.7v1.9h-37.7zM8.8 936.7h37.7v1.9h-37.7zM275.2 936.7h38.4v1.9h-38.4zM46.5 938.4h37.4v1.9h-37.4zM122 938.4h39v1.9h-39zM199 938.4h37.8v1.9h-37.8zM275.2 938.4h76.8v1.9h-76.8zM466.5 938.4h76.9v1.9h-76.9zM83.9 940h38.1v1.9h-38.1zM199 940h114.6v1.9h-114.6zM352 940h76.3v1.9h-76.3zM504.2 940h39.2v1.9h-39.2zM46.5 941.6h37.4v1.9h-37.4zM236.8 941.6h38.4v1.9h-38.4zM352 941.6h37.7v1.9h-37.7zM543.4 941.6h37.6v1.9h-37.6zM8.8 943.3h75.1v1.9h-75.1zM122 943.3h114.8v1.9h-114.8zM466.5 943.3h76.9v1.9h-76.9zM8.8 944.9h37.7v1.9h-37.7zM83.9 944.9h38.1v1.9h-38.1zM236.8 944.9h115.2v1.9h-115.2zM122 946.5h77v1.9h-77zM236.8 946.5h38.4v1.9h-38.4zM352 946.5h76.3v1.9h-76.3zM543.4 946.5h37.6v1.9h-37.6zM8.8 948.2h75.1v1.9h-75.1zM161 948.2h114.2v1.9h-114.2zM504.2 948.2h39.2v1.9h-39.2zM8.8 949.8h37.7v1.9h-37.7zM275.2 949.8h76.8v1.9h-76.8zM504.2 949.8h39.2v1.9h-39.2zM8.8 951.4h75.1v1.9h-75.1zM236.8 951.4h38.4v1.9h-38.4zM352 951.4h37.7v1.9h-37.7zM428.3 951.4h38.2v1.9h-38.2zM504.2 951.4h39.2v1.9h-39.2zM8.8 953.1h37.7v1.9h-37.7zM161 953.1h75.8v1.9h-75.8zM8.8 954.7h37.7v1.9h-37.7zM275.2 954.7h38.4v1.9h-38.4zM389.7 954.7h76.8v1.9h-76.8zM199 956.3h37.8v1.9h-37.8zM313.6 956.3h38.4v1.9h-38.4zM543.4 956.3h37.6v1.9h-37.6zM8.8 958h113.2v1.9h-113.2zM161 958h75.8v1.9h-75.8zM275.2 958h114.5v1.9h-114.5zM428.3 958h115.1v1.9h-115.1zM8.8 959.6h113.2v1.9h-113.2zM199 959.6h76.2v1.9h-76.2zM428.3 959.6h38.2v1.9h-38.2zM543.4 959.6h37.6v1.9h-37.6zM8.8 961.2h75.1v1.9h-75.1zM122 961.2h39v1.9h-39zM428.3 961.2h75.9v1.9h-75.9zM543.4 961.2h37.6v1.9h-37.6zM199 962.9h153v1.9h-153zM389.7 962.9h38.6v1.9h-38.6zM504.2 962.9h76.8v1.9h-76.8zM8.8 964.5h37.7v1.9h-37.7zM275.2 964.5h38.4v1.9h-38.4zM352 964.5h37.7v1.9h-37.7zM543.4 964.5h37.6v1.9h-37.6zM161 966.1h75.8v1.9h-75.8zM313.6 966.1h190.6v1.9h-190.6zM46.5 967.8h37.4v1.9h-37.4zM352 967.8h37.7v1.9h-37.7zM8.8 971h37.7v1.9h-37.7zM236.8 971h152.9v1.9h-152.9zM466.5 971h76.9v1.9h-76.9zM8.8 972.7h37.7v1.9h-37.7zM313.6 972.7h38.4v1.9h-38.4zM389.7 972.7h38.6v1.9h-38.6zM543.4 972.7h37.6v1.9h-37.6zM8.8 974.3h37.7v1.9h-37.7zM236.8 974.3h38.4v1.9h-38.4zM352 974.3h37.7v1.9h-37.7zM428.3 974.3h38.2v1.9h-38.2zM543.4 974.3h37.6v1.9h-37.6zM46.5 976h37.4v1.9h-37.4zM275.2 976h153.1v1.9h-153.1zM504.2 976h39.2v1.9h-39.2zM46.5 977.6h114.5v1.9h-114.5zM199 977.6h37.8v1.9h-37.8zM313.6 977.6h76.1v1.9h-76.1zM8.8 979.2h37.7v1.9h-37.7zM161 979.2h38v1.9h-38zM236.8 979.2h115.2v1.9h-115.2zM389.7 979.2h38.6v1.9h-38.6zM504.2 979.2h76.8v1.9h-76.8zM83.9 980.9h152.9v1.9h-152.9zM313.6 980.9h114.7v1.9h-114.7zM8.8 982.5h37.7v1.9h-37.7zM122 982.5h39v1.9h-39zM313.6 982.5h38.4v1.9h-38.4zM428.3 982.5h38.2v1.9h-38.2zM543.4 982.5h37.6v1.9h-37.6zM8.8 984.1h37.7v1.9h-37.7zM83.9 984.1h38.1v1.9h-38.1zM428.3 984.1h38.2v1.9h-38.2zM543.4 984.1h37.6v1.9h-37.6zM8.8 985.8h37.7v1.9h-37.7zM83.9 985.8h38.1v1.9h-38.1zM236.8 985.8h38.4v1.9h-38.4zM389.7 985.8h76.8v1.9h-76.8zM8.8 987.4h37.7v1.9h-37.7zM122 987.4h153.2v1.9h-153.2zM313.6 987.4h38.4v1.9h-38.4zM122 989h77v1.9h-77zM275.2 989h38.4v1.9h-38.4zM466.5 989h37.7v1.9h-37.7zM83.9 990.7h38.1v1.9h-38.1zM352 990.7h76.3v1.9h-76.3zM543.4 990.7h37.6v1.9h-37.6zM46.5 992.3h37.4v1.9h-37.4zM199 992.3h76.2v1.9h-76.2zM389.7 992.3h38.6v1.9h-38.6zM466.5 992.3h37.7v1.9h-37.7zM543.4 992.3h37.6v1.9h-37.6zM46.5 993.9h37.4v1.9h-37.4zM161 993.9h38v1.9h-38zM313.6 993.9h267.4v1.9h-267.4zM313.6 995.6h38.4v1.9h-38.4zM83.9 997.2h38.1v1.9h-38.1zM313.6 997.2h76.1v1.9h-76.1zM428.3 997.2h75.9v1.9h-75.9zM199 998.8h37.8v1.9h-37.8zM352 998.8h114.5v1.9h-114.5zM504.2 998.8h39.2v1.9h-39.2zM8.8 1000.5h37.7v1.9h-37.7zM275.2 1000.5h38.4v1.9h-38.4zM352 1000.5h114.5v1.9h-114.5zM543.4 1000.5h37.6v1.9h-37.6zM83.9 1002.1h38.1v1.9h-38.1zM236.8 1002.1h76.8v1.9h-76.8zM389.7 1002.1h38.6v1.9h-38.6zM161 1003.7h38v1.9h-38zM236.8 1003.7h76.8v1.9h-76.8zM352 1003.7h37.7v1.9h-37.7zM466.5 1003.7h114.5v1.9h-114.5zM122 1005.4h39v1.9h-39zM199 1005.4h153v1.9h-153zM466.5 1005.4h37.7v1.9h-37.7zM543.4 1005.4h37.6v1.9h-37.6zM352 1007h37.7v1.9h-37.7zM428.3 1007h38.2v1.9h-38.2zM504.2 1007h39.2v1.9h-39.2zM122 1008.6h39v1.9h-39zM236.8 1008.6h115.2v1.9h-115.2zM428.3 1008.6h38.2v1.9h-38.2zM8.8 1010.3h75.1v1.9h-75.1zM275.2 1010.3h76.8v1.9h-76.8zM389.7 1010.3h76.8v1.9h-76.8zM504.2 1010.3h76.8v1.9h-76.8zM161 1011.9h38v1.9h-38zM236.8 1011.9h76.8v1.9h-76.8zM389.7 1011.9h76.8v1.9h-76.8zM46.5 1013.5h37.4v1.9h-37.4zM313.6 1013.5h38.4v1.9h-38.4zM389.7 1013.5h38.6v1.9h-38.6zM466.5 1013.5h37.7v1.9h-37.7zM8.8 1015.2h75.1v1.9h-75.1zM161 1015.2h38v1.9h-38zM236.8 1015.2h38.4v1.9h-38.4zM389.7 1015.2h76.8v1.9h-76.8zM543.4 1015.2h37.6v1.9h-37.6z"/>
<path fill="#e24c36" d="M8.8 257h37.7v1.9h-37.7zM8.8 260.3h37.7v1.9h-37.7zM46.5 263.5h37.4v1.9h-37.4zM8.8 324h37.7v1.9h-37.7zM122 443.3h39v1.9h-39zM161 448.2h38v1.9h-38zM504.2 502.1h39.2v1.9h-39.2zM504.2 525h39.2v1.9h-39.2zM504.2 549.5h39.2v1.9h-39.2zM389.7 676.9h38.6v1.9h-38.6zM389.7 701.4h38.6v1.9h-38.6zM389.7 703.1h38.6v1.9h-38.6zM236.8 757h38.4v1.9h-38.4zM275.2 768.4h38.4v1.9h-38.4zM236.8 791.3h38.4v1.9h-38.4zM236.8 794.6h38.4v1.9h-38.4zM236.8 804.4h38.4v1.9h-38.4zM236.8 809.3h38.4v1.9h-38.4zM236.8 810.9h38.4v1.9h-38.4zM236.8 812.6h38.4v1.9h-38.4zM236.8 814.2h38.4v1.9h-38.4zM236.8 825.6h38.4v1.9h-38.4zM236.8 832.2h38.4v1.9h-38.4zM275.2 842h38.4v1.9h-38.4zM236.8 845.2h38.4v1.9h-38.4zM236.8 874.6h38.4v1.9h-38.4z"/>
<path fill="#e95d3f" d="M46.5 257h37.4v1.9h-37.4zM8.8 346.9h37.7v1.9h-37.7zM8.8 351.8h37.7v1.9h-37.7zM46.5 358.3h37.4v1.9h-37.4zM199 395.9h37.8v1.9h-37.8zM161 402.4h38v1.9h-38zM161 404.1h38v1.9h-38zM161 420.4h38v1.9h-38zM122 466.2h39v1.9h-39zM466.5 493.9h37.7v1.9h-37.7zM466.5 505.4h37.7v1.9h-37.7zM504.2 520.1h39.2v1.9h-39.2zM504.2 539.7h39.2v1.9h-39.2zM466.5 546.2h37.7v1.9h-37.7zM543.4 578.9h37.6v1.9h-37.6zM466.5 600.1h37.7v1.9h-37.7zM466.5 611.6h37.7v1.9h-37.7zM466.5 618.1h37.7v1.9h-37.7zM504.2 621.4h39.2v1.9h-39.2zM389.7 673.7h38.6v1.9h-38.6zM389.7 686.7h38.6v1.9h-38.6zM389.7 714.5h38.6v1.9h-38.6zM389.7 740.7h38.6v1.9h-38.6zM389.7 745.6h38.6v1.9h-38.6zM389.7 752.1h38.6v1.9h-38.6z"/>
<path fill="#fffab8" d="M83.9 257h38.1v1.9h-38.1zM83.9 263.5h38.1v1.9h-38.1zM83.9 266.8h38.1v1.9h-38.1zM83.9 268.4h38.1v1.9h-38.1zM83.9 276.6h38.1v1.9h-38.1zM83.9 302.8h38.1v1.9h-38.1zM581 304.4h75.9v1.9h-75.9zM83.9 306h38.1v1.9h-38.1zM83.9 319.1h38.1v1.9h-38.1zM275.2 320.7h76.8v1.9h-76.8zM83.9 342h38.1v1.9h-38.1zM83.9 350.1h38.1v1.9h-38.1zM83.9 361.6h38.1v1.9h-38.1zM122 363.2h39v1.9h-39zM543.4 366.5h37.6v1.9h-37.6zM885.9 368.1h38.6v1.9h-38.6zM122 371.4h39v1.9h-39zM122 373h39v1.9h-39zM313.6 373h114.7v1.9h-114.7zM466.5 373h76.9v1.9h-76.9zM428.3 376.3h152.7v1.9h-152.7zM924.5 377.9h39.3v1.9h-39.3zM122 382.8h39v1.9h-39zM466.5 392.6h37.7v1.9h-37.7zM581 392.6h38v1.9h-38zM389.7 395.9h38.6v1.9h-38.6zM236.8 399.2h38.4v1.9h-38.4zM352 399.2h37.7v1.9h-37.7zM161 413.9h38v1.9h-38zM543.4 415.5h151.5v1.9h-151.5zM543.4 420.4h37.6v1.9h-37.6zM619 430.2h75.9v1.9h-75.9zM732.9 430.2h37.9v1.9h-37.9zM236.8 438.4h38.4v1.9h-38.4zM732.9 438.4h76.5v1.9h-76.5zM122 459.6h39v1.9h-39zM275.2 459.6h38.4v1.9h-38.4zM122 464.5h39v1.9h-39zM161 484.1h38v1.9h-38zM732.9 497.2h37.9v1.9h-37.9zM46.5 502.1h37.4v1.9h-37.4zM122 502.1h39v1.9h-39zM656.9 507h38v1.9h-38zM848 510.3h76.5v1.9h-76.5zM885.9 511.9h38.6v1.9h-38.6zM732.9 521.7h37.9v1.9h-37.9zM83.9 533.1h77.1v1.9h-77.1zM619 546.2h37.9v1.9h-37.9zM83.9 574h77.1v1.9h-77.1zM46.5 578.9h75.5v1.9h-75.5zM848 600.1h115.8v1.9h-115.8zM694.9 618.1h38v1.9h-38zM313.6 619.7h38.4v1.9h-38.4zM924.5 623h39.3v1.9h-39.3zM581 634.5h38v1.9h-38zM885.9 655.7h38.6v1.9h-38.6zM46.5 672h37.4v1.9h-37.4zM543.4 693.3h113.5v1.9h-113.5zM83.9 709.6h77.1v1.9h-77.1zM313.6 709.6h38.4v1.9h-38.4zM466.5 711.2h37.7v1.9h-37.7zM656.9 711.2h38v1.9h-38zM313.6 755.4h38.4v1.9h-38.4zM656.9 755.4h38v1.9h-38zM275.2 771.7h76.8v1.9h-76.8zM313.6 773.3h38.4v1.9h-38.4zM428.3 773.3h75.9v1.9h-75.9zM161 776.6h38v1.9h-38zM313.6 779.9h38.4v1.9h-38.4zM428.3 797.8h38.2v1.9h-38.2zM313.6 801.1h38.4v1.9h-38.4zM313.6 812.6h38.4v1.9h-38.4zM275.2 814.2h38.4v1.9h-38.4zM313.6 822.4h38.4v1.9h-38.4zM313.6 824h38.4v1.9h-38.4zM543.4 832.2h37.6v1.9h-37.6zM275.2 838.7h38.4v1.9h-38.4zM313.6 840.3h38.4v1.9h-38.4zM275.2 855h38.4v1.9h-38.4zM313.6 859.9h38.4v1.9h-38.4zM275.2 884.4h38.4v1.9h-38.4zM732.9 886.1h37.9v1.9h-37.9zM885.9 886.1h38.6v1.9h-38.6zM581 889.4h113.9v1.9h-113.9zM694.9 891h75.9v1.9h-75.9zM694.9 894.3h75.9v1.9h-75.9zM581 902.4h38v1.9h-38zM656.9 902.4h113.9v1.9h-113.9zM656.9 904.1h38v1.9h-38zM770.8 910.6h38.6v1.9h-38.6zM848 910.6h37.9v1.9h-37.9zM581 913.9h38v1.9h-38zM656.9 913.9h113.9v1.9h-113.9zM656.9 917.1h38v1.9h-38zM924.5 917.1h39.3v1.9h-39.3zM770.8 920.4h38.6v1.9h-38.6zM581 922h75.9v1.9h-75.9zM848 923.7h37.9v1.9h-37.9zM656.9 926.9h38v1.9h-38zM809.4 926.9h38.6v1.9h-38.6zM581 928.6h38v1.9h-38zM732.9 930.2h37.9v1.9h-37.9zM848 931.8h37.9v1.9h-37.9zM924.5 931.8h39.3v1.9h-39.3zM656.9 933.5h38v1.9h-38zM732.9 933.5h76.5v1.9h-76.5zM848 933.5h76.5v1.9h-76.5zM924.5 935.1h39.3v1.9h-39.3zM619 936.7h75.9v1.9h-75.9zM732.9 936.7h37.9v1.9h-37.9zM885.9 940h38.6v1.9h-38.6zM770.8 943.3h38.6v1.9h-38.6zM848 943.3h37.9v1.9h-37.9zM581 944.9h38v1.9h-38zM656.9 944.9h38v1.9h-38zM770.8 944.9h38.6v1.9h-38.6zM581 948.2h113.9v1.9h-113.9zM732.9 948.2h115.1v1.9h-115.1zM694.9 949.8h38v1.9h-38zM770.8 949.8h38.6v1.9h-38.6zM656.9 953.1h38v1.9h-38zM770.8 954.7h38.6v1.9h-38.6zM885.9 954.7h38.6v1.9h-38.6zM83.9 956.3h38.1v1.9h-38.1zM619 958h151.8v1.9h-151.8zM924.5 958h39.3v1.9h-39.3zM848 959.6h37.9v1.9h-37.9zM924.5 964.5h39.3v1.9h-39.3zM656.9 967.8h38v1.9h-38zM770.8 967.8h38.6v1.9h-38.6zM581 971h38v1.9h-38zM656.9 971h38v1.9h-38zM732.9 971h37.9v1.9h-37.9zM581 972.7h151.9v1.9h-151.9zM770.8 974.3h38.6v1.9h-38.6zM924.5 974.3h39.3v1.9h-39.3zM656.9 976h38v1.9h-38zM732.9 976h37.9v1.9h-37.9zM809.4 977.6h38.6v1.9h-38.6zM848 984.1h37.9v1.9h-37.9zM619 985.8h37.9v1.9h-37.9zM694.9 985.8h38v1.9h-38zM770.8 985.8h38.6v1.9h-38.6zM924.5 985.8h39.3v1.9h-39.3zM694.9 990.7h38v1.9h-38zM848 990.7h76.5v1.9h-76.5zM581 992.3h75.9v1.9h-75.9zM732.9 992.3h37.9v1.9h-37.9zM885.9 992.3h38.6v1.9h-38.6zM581 998.8h75.9v1.9h-75.9zM732.9 998.8h76.5v1.9h-76.5zM581 1000.5h38v1.9h-38zM809.4 1002.1h38.6v1.9h-38.6zM122 1007h77v1.9h-77zM809.4 1007h38.6v1.9h-38.6zM924.5 1007h39.3v1.9h-39.3zM619 1008.6h37.9v1.9h-37.9zM732.9 1011.9h37.9v1.9h-37.9zM848 1013.5h37.9v1.9h-37.9z"/>
<path fill="#eff9dc" d="M161 257h38v1.9h-38zM809.4 266.8h38.6v1.9h-38.6zM543.4 275h37.6v1.9h-37.6zM581 279.9h38v1.9h-38zM694.9 279.9h38v1.9h-38zM236.8 376.3h38.4v1.9h-38.4zM848 407.3h37.9v1.9h-37.9zM504.2 458h76.8v1.9h-76.8zM694.9 477.6h75.9v1.9h-75.9zM694.9 479.2h38v1.9h-38zM8.8 515.2h75.1v1.9h-75.1zM275.2 552.8h38.4v1.9h-38.4zM581 585.4h38v1.9h-38zM236.8 623h38.4v1.9h-38.4zM313.6 623h38.4v1.9h-38.4zM236.8 675.3h38.4v1.9h-38.4zM732.9 690h37.9v1.9h-37.9zM885.9 745.6h38.6v1.9h-38.6zM466.5 747.2h37.7v1.9h-37.7zM619 752.1h37.9v1.9h-37.9zM809.4 776.6h76.5v1.9h-76.5zM885.9 778.2h38.6v1.9h-38.6zM199 806h37.8v1.9h-37.8zM161 807.7h38v1.9h-38zM352 833.8h37.7v1.9h-37.7zM466.5 833.8h37.7v1.9h-37.7zM122 835.4h39v1.9h-39zM581 876.3h38v1.9h-38zM656.9 876.3h38v1.9h-38zM543.4 892.6h37.6v1.9h-37.6zM543.4 925.3h37.6v1.9h-37.6zM199 949.8h76.2v1.9h-76.2zM161 951.4h38v1.9h-38zM236.8 953.1h38.4v1.9h-38.4zM352 953.1h37.7v1.9h-37.7zM161 972.7h38v1.9h-38zM161 997.2h38v1.9h-38zM504.2 1013.5h39.2v1.9h-39.2z"/>
<path fill="#fda96b" d="M83.9 258.6h38.1v1.9h-38.1zM83.9 296.2h38.1v1.9h-38.1zM199 381.2h37.8v1.9h-37.8zM619 391h37.9v1.9h-37.9zM656.9 464.5h76v1.9h-76zM389.7 665.5h38.6v1.9h-38.6zM389.7 668.8h76.8v1.9h-76.8zM428.3 683.5h38.2v1.9h-38.2zM352 693.3h37.7v1.9h-37.7zM352 732.5h37.7v1.9h-37.7zM428.3 737.4h38.2v1.9h-38.2zM313.6 766.8h38.4v1.9h-38.4zM809.4 894.3h38.6v1.9h-38.6zM924.5 909h39.3v1.9h-39.3zM770.8 923.7h38.6v1.9h-38.6zM770.8 925.3h38.6v1.9h-38.6zM809.4 949.8h38.6v1.9h-38.6zM848 964.5h37.9v1.9h-37.9zM885.9 993.9h38.6v1.9h-38.6zM809.4 1010.3h38.6v1.9h-38.6z"/>
<path fill="#e7573c" d="M8.8 263.5h37.7v1.9h-37.7zM46.5 270.1h37.4v1.9h-37.4zM46.5 276.6h37.4v1.9h-37.4zM8.8 291.3h37.7v1.9h-37.7zM8.8 317.5h37.7v1.9h-37.7zM8.8 325.6h37.7v1.9h-37.7zM8.8 327.3h37.7v1.9h-37.7zM46.5 332.2h37.4v1.9h-37.4zM161 368.1h38v1.9h-38zM122 377.9h39v1.9h-39zM161 449.8h38v1.9h-38zM161 456.4h38v1.9h-38zM122 471.1h39v1.9h-39zM504.2 543h39.2v1.9h-39.2zM504.2 564.2h39.2v1.9h-39.2zM504.2 574h39.2v1.9h-39.2zM466.5 592h37.7v1.9h-37.7zM504.2 614.8h39.2v1.9h-39.2zM543.4 621.4h37.6v1.9h-37.6zM389.7 636.1h38.6v1.9h-38.6zM389.7 748.8h38.6v1.9h-38.6zM236.8 761.9h38.4v1.9h-38.4zM236.8 770.1h38.4v1.9h-38.4zM236.8 779.9h38.4v1.9h-38.4zM236.8 781.5h38.4v1.9h-38.4zM236.8 806h38.4v1.9h-38.4zM275.2 812.6h38.4v1.9h-38.4zM275.2 827.3h38.4v1.9h-38.4zM236.8 838.7h38.4v1.9h-38.4zM885.9 895.9h38.6v1.9h-38.6zM885.9 931.8h38.6v1.9h-38.6zM885.9 946.5h38.6v1.9h-38.6z"/>
<path fill="#fee293" d="M8.8 266.8h37.7v1.9h-37.7zM8.8 268.4h37.7v1.9h-37.7zM8.8 276.6h37.7v1.9h-37.7zM46.5 286.4h37.4v1.9h-37.4zM656.9 286.4h76v1.9h-76zM8.8 294.6h37.7v1.9h-37.7zM46.5 297.9h37.4v1.9h-37.4zM46.5 351.8h37.4v1.9h-37.4zM694.9 361.6h38v1.9h-38zM199 364.9h37.8v1.9h-37.8zM619 377.9h37.9v1.9h-37.9zM199 387.7h37.8v1.9h-37.8zM199 446.5h37.8v1.9h-37.8zM199 461.3h37.8v1.9h-37.8zM694.9 485.8h38v1.9h-38zM543.4 497.2h37.6v1.9h-37.6zM543.4 508.6h37.6v1.9h-37.6zM504.2 523.3h39.2v1.9h-39.2zM504.2 538.1h39.2v1.9h-39.2zM543.4 539.7h37.6v1.9h-37.6zM504.2 551.1h39.2v1.9h-39.2zM543.4 580.5h37.6v1.9h-37.6zM694.9 614.8h38v1.9h-38zM543.4 618.1h37.6v1.9h-37.6zM352 644.3h37.7v1.9h-37.7zM352 650.8h37.7v1.9h-37.7zM352 662.2h37.7v1.9h-37.7zM352 665.5h37.7v1.9h-37.7zM352 667.1h37.7v1.9h-37.7zM352 673.7h37.7v1.9h-37.7zM352 681.8h37.7v1.9h-37.7zM428.3 691.6h38.2v1.9h-38.2zM428.3 706.3h38.2v1.9h-38.2zM352 709.6h37.7v1.9h-37.7zM656.9 712.9h38v1.9h-38zM352 722.7h37.7v1.9h-37.7zM352 729.2h37.7v1.9h-37.7zM428.3 730.9h38.2v1.9h-38.2zM236.8 792.9h38.4v1.9h-38.4zM619 909h37.9v1.9h-37.9zM656.9 920.4h38v1.9h-38zM619 938.4h37.9v1.9h-37.9zM619 940h37.9v1.9h-37.9zM619 941.6h37.9v1.9h-37.9zM619 946.5h37.9v1.9h-37.9zM694.9 946.5h38v1.9h-38zM656.9 959.6h76v1.9h-76zM581 997.2h38v1.9h-38z"/>
<path fill="#feffc1" d="M924.5 266.8h39.3v1.9h-39.3zM809.4 278.3h38.6v1.9h-38.6zM581 309.3h75.9v1.9h-75.9zM732.9 320.7h115.1v1.9h-115.1zM199 335.4h114.6v1.9h-114.6zM924.5 346.9h39.3v1.9h-39.3zM581 356.7h75.9v1.9h-75.9zM389.7 363.2h38.6v1.9h-38.6zM466.5 363.2h76.9v1.9h-76.9zM694.9 364.9h75.9v1.9h-75.9zM389.7 366.5h38.6v1.9h-38.6zM352 371.4h37.7v1.9h-37.7zM428.3 371.4h38.2v1.9h-38.2zM885.9 384.5h38.6v1.9h-38.6zM275.2 407.3h114.5v1.9h-114.5zM732.9 418.8h37.9v1.9h-37.9zM313.6 428.6h114.7v1.9h-114.7zM543.4 449.8h37.6v1.9h-37.6zM619 449.8h37.9v1.9h-37.9zM732.9 451.5h37.9v1.9h-37.9zM809.4 451.5h76.5v1.9h-76.5zM46.5 476h37.4v1.9h-37.4zM732.9 476h76.5v1.9h-76.5zM732.9 480.9h37.9v1.9h-37.9zM809.4 480.9h38.6v1.9h-38.6zM313.6 495.6h38.4v1.9h-38.4zM236.8 503.7h38.4v1.9h-38.4zM313.6 503.7h38.4v1.9h-38.4zM694.9 507h114.5v1.9h-114.5zM885.9 508.6h38.6v1.9h-38.6zM848 511.9h37.9v1.9h-37.9zM581 525h113.9v1.9h-113.9zM848 526.6h37.9v1.9h-37.9zM46.5 541.3h37.4v1.9h-37.4zM122 541.3h114.8v1.9h-114.8zM848 541.3h37.9v1.9h-37.9zM352 562.6h37.7v1.9h-37.7zM581 587.1h38v1.9h-38zM581 605h75.9v1.9h-75.9zM389.7 618.1h76.8v1.9h-76.8zM848 627.9h37.9v1.9h-37.9zM275.2 634.5h38.4v1.9h-38.4zM199 659h37.8v1.9h-37.8zM694.9 724.3h38v1.9h-38zM885.9 755.4h38.6v1.9h-38.6zM504.2 778.2h152.7v1.9h-152.7zM161 781.5h75.8v1.9h-75.8zM352 781.5h152.2v1.9h-152.2zM389.7 791.3h38.6v1.9h-38.6zM543.4 796.2h37.6v1.9h-37.6zM656.9 837.1h113.9v1.9h-113.9zM389.7 843.6h38.6v1.9h-38.6zM466.5 843.6h114.5v1.9h-114.5zM466.5 868.1h37.7v1.9h-37.7zM848 871.4h37.9v1.9h-37.9zM543.4 887.7h37.6v1.9h-37.6zM619 887.7h151.8v1.9h-151.8zM581 892.6h113.9v1.9h-113.9zM389.7 894.3h38.6v1.9h-38.6zM619 895.9h37.9v1.9h-37.9zM732.9 905.7h37.9v1.9h-37.9zM694.9 907.3h38v1.9h-38zM619 912.2h37.9v1.9h-37.9zM581 915.5h38v1.9h-38zM732.9 915.5h37.9v1.9h-37.9zM46.5 922h37.4v1.9h-37.4zM581 923.7h38v1.9h-38zM581 925.3h75.9v1.9h-75.9zM694.9 926.9h38v1.9h-38zM581 941.6h38v1.9h-38zM504.2 944.9h39.2v1.9h-39.2zM581 951.4h38v1.9h-38zM46.5 956.3h37.4v1.9h-37.4zM581 961.2h38v1.9h-38zM581 962.9h75.9v1.9h-75.9zM694.9 962.9h38v1.9h-38zM161 964.5h38v1.9h-38zM236.8 964.5h38.4v1.9h-38.4zM389.7 964.5h76.8v1.9h-76.8zM619 964.5h37.9v1.9h-37.9zM466.5 967.8h37.7v1.9h-37.7zM732.9 969.4h37.9v1.9h-37.9zM389.7 982.5h38.6v1.9h-38.6zM581 982.5h38v1.9h-38zM694.9 982.5h38v1.9h-38zM581 984.1h38v1.9h-38zM656.9 984.1h38v1.9h-38zM732.9 984.1h37.9v1.9h-37.9zM581 987.4h38v1.9h-38zM732.9 989h37.9v1.9h-37.9zM619 993.9h113.9v1.9h-113.9zM619 995.6h37.9v1.9h-37.9zM732.9 997.2h37.9v1.9h-37.9zM732.9 1002.1h37.9v1.9h-37.9zM581 1005.4h38v1.9h-38zM694.9 1005.4h38v1.9h-38zM694.9 1010.3h38v1.9h-38zM581 1013.5h113.9v1.9h-113.9zM619 1015.2h37.9v1.9h-37.9z"/>
<path fill="#fdc77f" d="M581 268.4h38v1.9h-38zM8.8 270.1h37.7v1.9h-37.7zM619 278.3h37.9v1.9h-37.9zM8.8 335.4h37.7v1.9h-37.7zM694.9 377.9h38v1.9h-38zM466.5 533.1h37.7v1.9h-37.7zM504.2 541.3h39.2v1.9h-39.2zM504.2 582.2h39.2v1.9h-39.2zM466.5 616.5h37.7v1.9h-37.7zM389.7 641h38.6v1.9h-38.6zM389.7 644.3h38.6v1.9h-38.6zM389.7 747.2h38.6v1.9h-38.6zM236.8 760.3h38.4v1.9h-38.4zM694.9 766.8h38v1.9h-38zM236.8 799.5h38.4v1.9h-38.4zM8.8 840.3h37.7v1.9h-37.7zM236.8 853.4h38.4v1.9h-38.4zM236.8 856.7h38.4v1.9h-38.4zM236.8 866.5h38.4v1.9h-38.4zM924.5 892.6h39.3v1.9h-39.3zM770.8 897.5h38.6v1.9h-38.6zM809.4 925.3h38.6v1.9h-38.6zM809.4 930.2h38.6v1.9h-38.6zM848 941.6h37.9v1.9h-37.9zM694.9 956.3h38v1.9h-38z"/>
<path fill="#fecc83" d="M619 268.4h75.9v1.9h-75.9zM732.9 276.6h37.9v1.9h-37.9zM8.8 301.1h37.7v1.9h-37.7zM8.8 307.7h37.7v1.9h-37.7zM8.8 319.1h37.7v1.9h-37.7zM8.8 330.5h37.7v1.9h-37.7zM619 369.8h37.9v1.9h-37.9zM732.9 400.8h37.9v1.9h-37.9zM581 464.5h38v1.9h-38zM581 474.3h38v1.9h-38zM466.5 513.5h37.7v1.9h-37.7zM466.5 520.1h37.7v1.9h-37.7zM504.2 533.1h39.2v1.9h-39.2zM543.4 554.4h37.6v1.9h-37.6zM466.5 562.6h37.7v1.9h-37.7zM466.5 596.9h37.7v1.9h-37.7zM694.9 613.2h38v1.9h-38zM732.9 614.8h37.9v1.9h-37.9zM389.7 632.8h38.6v1.9h-38.6zM732.9 637.7h37.9v1.9h-37.9zM389.7 655.7h38.6v1.9h-38.6zM389.7 753.7h38.6v1.9h-38.6zM8.8 851.8h37.7v1.9h-37.7zM8.8 863.2h37.7v1.9h-37.7zM236.8 873h38.4v1.9h-38.4zM656.9 881.2h38v1.9h-38zM770.8 895.9h38.6v1.9h-38.6zM732.9 910.6h37.9v1.9h-37.9zM809.4 933.5h38.6v1.9h-38.6zM732.9 956.3h37.9v1.9h-37.9zM809.4 964.5h38.6v1.9h-38.6zM848 969.4h37.9v1.9h-37.9zM770.8 971h38.6v1.9h-38.6zM619 1011.9h37.9v1.9h-37.9zM694.9 1015.2h38v1.9h-38zM848 1015.2h37.9v1.9h-37.9z"/>
<path fill="#fff3ac" d="M83.9 270.1h38.1v1.9h-38.1zM46.5 289.7h37.4v1.9h-37.4zM83.9 299.5h38.1v1.9h-38.1zM46.5 309.3h37.4v1.9h-37.4zM656.9 324h38v1.9h-38zM83.9 335.4h38.1v1.9h-38.1zM694.9 337.1h75.9v1.9h-75.9zM46.5 359.9h37.4v1.9h-37.4zM199 368.1h37.8v1.9h-37.8zM199 374.7h37.8v1.9h-37.8zM122 379.6h77v1.9h-77zM199 394.3h37.8v1.9h-37.8zM122 395.9h39v1.9h-39zM122 399.2h39v1.9h-39zM122 404.1h39v1.9h-39zM199 404.1h37.8v1.9h-37.8zM161 412.2h38v1.9h-38zM161 422h38v1.9h-38zM694.9 431.8h38v1.9h-38zM122 433.5h39v1.9h-39zM122 435.1h77v1.9h-77zM199 436.7h37.8v1.9h-37.8zM199 443.3h37.8v1.9h-37.8zM199 449.8h37.8v1.9h-37.8zM581 453.1h38v1.9h-38zM161 454.7h38v1.9h-38zM122 456.4h39v1.9h-39zM122 461.3h39v1.9h-39zM199 462.9h37.8v1.9h-37.8zM199 466.2h37.8v1.9h-37.8zM122 485.8h39v1.9h-39zM619 603.4h37.9v1.9h-37.9zM275.2 761.9h38.4v1.9h-38.4zM275.2 765.2h38.4v1.9h-38.4zM313.6 768.4h38.4v1.9h-38.4zM313.6 770.1h38.4v1.9h-38.4zM313.6 781.5h38.4v1.9h-38.4zM275.2 786.4h38.4v1.9h-38.4zM275.2 830.5h38.4v1.9h-38.4zM313.6 837.1h38.4v1.9h-38.4zM275.2 851.8h38.4v1.9h-38.4zM275.2 853.4h38.4v1.9h-38.4zM313.6 856.7h38.4v1.9h-38.4zM275.2 859.9h38.4v1.9h-38.4zM275.2 864.8h38.4v1.9h-38.4zM275.2 869.7h38.4v1.9h-38.4zM275.2 874.6h38.4v1.9h-38.4zM313.6 879.5h38.4v1.9h-38.4zM275.2 881.2h38.4v1.9h-38.4zM275.2 882.8h38.4v1.9h-38.4zM770.8 887.7h77.2v1.9h-77.2zM924.5 891h39.3v1.9h-39.3zM848 894.3h37.9v1.9h-37.9zM848 900.8h37.9v1.9h-37.9zM770.8 912.2h38.6v1.9h-38.6zM809.4 913.9h38.6v1.9h-38.6zM770.8 915.5h38.6v1.9h-38.6zM885.9 917.1h38.6v1.9h-38.6zM885.9 923.7h38.6v1.9h-38.6zM924.5 925.3h39.3v1.9h-39.3zM924.5 928.6h39.3v1.9h-39.3zM848 930.2h37.9v1.9h-37.9zM924.5 930.2h39.3v1.9h-39.3zM770.8 935.1h38.6v1.9h-38.6zM885.9 935.1h38.6v1.9h-38.6zM770.8 940h38.6v1.9h-38.6zM924.5 943.3h39.3v1.9h-39.3zM809.4 946.5h38.6v1.9h-38.6zM924.5 954.7h39.3v1.9h-39.3zM770.8 958h38.6v1.9h-38.6zM809.4 966.1h38.6v1.9h-38.6zM924.5 966.1h39.3v1.9h-39.3zM885.9 971h38.6v1.9h-38.6zM809.4 976h38.6v1.9h-38.6zM656.9 977.6h38v1.9h-38zM885.9 977.6h38.6v1.9h-38.6zM885.9 984.1h38.6v1.9h-38.6zM770.8 992.3h38.6v1.9h-38.6zM848 992.3h37.9v1.9h-37.9zM809.4 1003.7h38.6v1.9h-38.6zM924.5 1003.7h39.3v1.9h-39.3zM770.8 1005.4h38.6v1.9h-38.6zM848 1005.4h37.9v1.9h-37.9zM848 1010.3h37.9v1.9h-37.9zM885.9 1011.9h38.6v1.9h-38.6zM809.4 1013.5h38.6v1.9h-38.6zM770.8 1015.2h38.6v1.9h-38.6z"/>
<path fill="#de4130" d="M46.5 271.7h37.4v1.9h-37.4zM46.5 314.2h37.4v1.9h-37.4zM46.5 315.8h37.4v1.9h-37.4zM46.5 355h37.4v1.9h-37.4zM122 446.5h39v1.9h-39zM161 451.5h38v1.9h-38zM504.2 498.8h39.2v1.9h-39.2zM504.2 513.5h39.2v1.9h-39.2zM504.2 567.5h39.2v1.9h-39.2zM504.2 609.9h39.2v1.9h-39.2zM504.2 618.1h39.2v1.9h-39.2zM275.2 758.6h38.4v1.9h-38.4zM275.2 775h38.4v1.9h-38.4zM236.8 797.8h38.4v1.9h-38.4zM236.8 802.8h38.4v1.9h-38.4zM236.8 822.4h38.4v1.9h-38.4zM236.8 830.5h38.4v1.9h-38.4zM236.8 840.3h38.4v1.9h-38.4zM236.8 851.8h38.4v1.9h-38.4zM236.8 859.9h38.4v1.9h-38.4zM236.8 863.2h38.4v1.9h-38.4zM236.8 868.1h38.4v1.9h-38.4zM885.9 918.8h38.6v1.9h-38.6z"/>
<path fill="#f5fbd2" d="M236.8 275h38.4v1.9h-38.4zM619 315.8h37.9v1.9h-37.9zM466.5 386.1h76.9v1.9h-76.9zM46.5 415.5h75.5v1.9h-75.5zM275.2 443.3h76.8v1.9h-76.8zM732.9 474.3h76.5v1.9h-76.5zM466.5 490.7h37.7v1.9h-37.7zM543.4 490.7h37.6v1.9h-37.6zM732.9 511.9h37.9v1.9h-37.9zM199 529.9h37.8v1.9h-37.8zM848 533.1h76.5v1.9h-76.5zM656.9 534.8h38v1.9h-38zM770.8 587.1h38.6v1.9h-38.6zM46.5 601.8h37.4v1.9h-37.4zM199 614.8h76.2v1.9h-76.2zM809.4 621.4h76.5v1.9h-76.5zM543.4 629.6h113.5v1.9h-113.5zM466.5 701.4h76.9v1.9h-76.9zM848 701.4h37.9v1.9h-37.9zM428.3 794.6h38.2v1.9h-38.2zM504.2 794.6h39.2v1.9h-39.2zM161 851.8h38v1.9h-38zM732.9 866.5h37.9v1.9h-37.9zM924.5 871.4h39.3v1.9h-39.3zM8.8 886.1h113.2v1.9h-113.2zM236.8 886.1h191.5v1.9h-191.5zM504.2 886.1h76.8v1.9h-76.8zM46.5 887.7h75.5v1.9h-75.5zM236.8 887.7h38.4v1.9h-38.4zM352 887.7h76.3v1.9h-76.3zM8.8 889.4h37.7v1.9h-37.7zM199 889.4h37.8v1.9h-37.8zM275.2 889.4h38.4v1.9h-38.4zM389.7 889.4h38.6v1.9h-38.6zM466.5 889.4h76.9v1.9h-76.9zM8.8 891h75.1v1.9h-75.1zM161 891h75.8v1.9h-75.8zM275.2 891h38.4v1.9h-38.4zM352 891h114.5v1.9h-114.5zM504.2 891h76.8v1.9h-76.8zM8.8 892.6h304.8v1.9h-304.8zM428.3 892.6h115.1v1.9h-115.1zM122 894.3h114.8v1.9h-114.8zM428.3 894.3h152.7v1.9h-152.7zM8.8 895.9h37.7v1.9h-37.7zM352 895.9h114.5v1.9h-114.5zM46.5 897.5h37.4v1.9h-37.4zM161 897.5h38v1.9h-38zM275.2 897.5h114.5v1.9h-114.5zM428.3 897.5h38.2v1.9h-38.2zM543.4 897.5h37.6v1.9h-37.6zM46.5 899.2h152.5v1.9h-152.5zM275.2 899.2h38.4v1.9h-38.4zM352 899.2h76.3v1.9h-76.3zM504.2 899.2h39.2v1.9h-39.2zM8.8 900.8h37.7v1.9h-37.7zM83.9 900.8h38.1v1.9h-38.1zM161 900.8h38v1.9h-38zM236.8 900.8h191.5v1.9h-191.5zM466.5 900.8h76.9v1.9h-76.9zM8.8 902.4h37.7v1.9h-37.7zM122 902.4h39v1.9h-39zM199 902.4h37.8v1.9h-37.8zM275.2 902.4h153.1v1.9h-153.1zM466.5 902.4h76.9v1.9h-76.9zM8.8 904.1h190.2v1.9h-190.2zM236.8 904.1h38.4v1.9h-38.4zM352 904.1h114.5v1.9h-114.5zM46.5 905.7h152.5v1.9h-152.5zM428.3 905.7h152.7v1.9h-152.7zM8.8 907.3h152.2v1.9h-152.2zM313.6 907.3h38.4v1.9h-38.4zM389.7 907.3h76.8v1.9h-76.8zM504.2 907.3h76.8v1.9h-76.8zM83.9 909h38.1v1.9h-38.1zM161 909h38v1.9h-38zM236.8 909h38.4v1.9h-38.4zM313.6 909h76.1v1.9h-76.1zM428.3 909h38.2v1.9h-38.2zM504.2 909h76.8v1.9h-76.8zM46.5 910.6h75.5v1.9h-75.5zM161 910.6h38v1.9h-38zM236.8 910.6h76.8v1.9h-76.8zM352 910.6h37.7v1.9h-37.7zM428.3 910.6h38.2v1.9h-38.2zM504.2 910.6h76.8v1.9h-76.8zM8.8 912.2h75.1v1.9h-75.1zM122 912.2h39v1.9h-39zM199 912.2h76.2v1.9h-76.2zM352 912.2h37.7v1.9h-37.7zM466.5 912.2h37.7v1.9h-37.7zM46.5 913.9h75.5v1.9h-75.5zM275.2 913.9h76.8v1.9h-76.8zM389.7 913.9h76.8v1.9h-76.8zM83.9 915.5h77.1v1.9h-77.1zM275.2 915.5h153.1v1.9h-153.1zM504.2 915.5h39.2v1.9h-39.2zM8.8 917.1h37.7v1.9h-37.7zM83.9 917.1h115.1v1.9h-115.1zM313.6 917.1h114.7v1.9h-114.7zM466.5 917.1h76.9v1.9h-76.9zM8.8 918.8h190.2v1.9h-190.2zM236.8 918.8h38.4v1.9h-38.4zM313.6 918.8h152.9v1.9h-152.9zM504.2 918.8h39.2v1.9h-39.2zM83.9 920.4h38.1v1.9h-38.1zM161 920.4h75.8v1.9h-75.8zM352 920.4h37.7v1.9h-37.7zM466.5 920.4h37.7v1.9h-37.7zM83.9 922h38.1v1.9h-38.1zM161 922h38v1.9h-38zM236.8 922h38.4v1.9h-38.4zM389.7 922h191.3v1.9h-191.3zM46.5 923.7h37.4v1.9h-37.4zM161 923.7h114.2v1.9h-114.2zM352 923.7h37.7v1.9h-37.7zM428.3 923.7h38.2v1.9h-38.2zM504.2 923.7h39.2v1.9h-39.2zM8.8 925.3h37.7v1.9h-37.7zM122 925.3h114.8v1.9h-114.8zM275.2 925.3h153.1v1.9h-153.1zM466.5 925.3h76.9v1.9h-76.9zM199 926.9h37.8v1.9h-37.8zM275.2 926.9h38.4v1.9h-38.4zM428.3 926.9h38.2v1.9h-38.2zM8.8 928.6h113.2v1.9h-113.2zM236.8 928.6h38.4v1.9h-38.4zM313.6 928.6h38.4v1.9h-38.4zM504.2 928.6h39.2v1.9h-39.2zM8.8 930.2h75.1v1.9h-75.1zM122 930.2h39v1.9h-39zM199 930.2h190.7v1.9h-190.7zM428.3 930.2h38.2v1.9h-38.2zM46.5 931.8h75.5v1.9h-75.5zM161 931.8h38v1.9h-38zM275.2 931.8h38.4v1.9h-38.4zM352 931.8h114.5v1.9h-114.5zM8.8 933.5h37.7v1.9h-37.7zM83.9 933.5h38.1v1.9h-38.1zM161 933.5h38v1.9h-38zM275.2 933.5h38.4v1.9h-38.4zM352 933.5h191.4v1.9h-191.4zM46.5 935.1h37.4v1.9h-37.4zM161 935.1h75.8v1.9h-75.8zM275.2 935.1h76.8v1.9h-76.8zM504.2 935.1h76.8v1.9h-76.8zM46.5 936.7h75.5v1.9h-75.5zM504.2 936.7h76.8v1.9h-76.8zM161 938.4h38v1.9h-38zM236.8 938.4h38.4v1.9h-38.4zM352 938.4h114.5v1.9h-114.5zM543.4 938.4h37.6v1.9h-37.6zM8.8 940h75.1v1.9h-75.1zM122 940h77v1.9h-77zM313.6 940h38.4v1.9h-38.4zM466.5 940h37.7v1.9h-37.7zM543.4 940h37.6v1.9h-37.6zM8.8 941.6h37.7v1.9h-37.7zM83.9 941.6h38.1v1.9h-38.1zM161 941.6h75.8v1.9h-75.8zM275.2 941.6h76.8v1.9h-76.8zM389.7 941.6h38.6v1.9h-38.6zM466.5 941.6h76.9v1.9h-76.9zM83.9 943.3h38.1v1.9h-38.1zM236.8 943.3h229.7v1.9h-229.7zM543.4 943.3h37.6v1.9h-37.6zM46.5 944.9h37.4v1.9h-37.4zM122 944.9h39v1.9h-39zM352 944.9h114.5v1.9h-114.5zM8.8 946.5h113.2v1.9h-113.2zM199 946.5h37.8v1.9h-37.8zM275.2 946.5h38.4v1.9h-38.4zM428.3 946.5h75.9v1.9h-75.9zM83.9 948.2h77.1v1.9h-77.1zM275.2 948.2h38.4v1.9h-38.4zM352 948.2h114.5v1.9h-114.5zM46.5 949.8h37.4v1.9h-37.4zM122 949.8h39v1.9h-39zM352 949.8h76.3v1.9h-76.3zM543.4 949.8h37.6v1.9h-37.6zM83.9 951.4h38.1v1.9h-38.1zM275.2 951.4h76.8v1.9h-76.8zM389.7 951.4h38.6v1.9h-38.6zM466.5 951.4h37.7v1.9h-37.7zM543.4 951.4h37.6v1.9h-37.6zM46.5 953.1h114.5v1.9h-114.5zM428.3 953.1h75.9v1.9h-75.9zM543.4 953.1h37.6v1.9h-37.6zM83.9 954.7h77.1v1.9h-77.1zM236.8 954.7h38.4v1.9h-38.4zM313.6 954.7h76.1v1.9h-76.1zM466.5 954.7h76.9v1.9h-76.9zM161 956.3h38v1.9h-38zM236.8 956.3h76.8v1.9h-76.8zM389.7 956.3h153.7v1.9h-153.7zM236.8 958h38.4v1.9h-38.4zM389.7 958h38.6v1.9h-38.6zM543.4 958h37.6v1.9h-37.6zM122 959.6h77v1.9h-77zM275.2 959.6h153.1v1.9h-153.1zM466.5 959.6h76.9v1.9h-76.9zM83.9 961.2h38.1v1.9h-38.1zM161 961.2h75.8v1.9h-75.8zM275.2 961.2h153.1v1.9h-153.1zM504.2 961.2h39.2v1.9h-39.2zM8.8 962.9h75.1v1.9h-75.1zM122 962.9h77v1.9h-77zM352 962.9h37.7v1.9h-37.7zM428.3 962.9h75.9v1.9h-75.9zM46.5 964.5h75.5v1.9h-75.5zM313.6 964.5h38.4v1.9h-38.4zM504.2 964.5h39.2v1.9h-39.2zM46.5 966.1h37.4v1.9h-37.4zM122 966.1h39v1.9h-39zM236.8 966.1h76.8v1.9h-76.8zM504.2 966.1h76.8v1.9h-76.8zM8.8 967.8h37.7v1.9h-37.7zM122 967.8h77v1.9h-77zM504.2 967.8h39.2v1.9h-39.2zM8.8 969.4h152.2v1.9h-152.2zM352 969.4h37.7v1.9h-37.7zM466.5 969.4h76.9v1.9h-76.9zM46.5 971h75.5v1.9h-75.5zM161 971h75.8v1.9h-75.8zM389.7 971h76.8v1.9h-76.8zM543.4 971h37.6v1.9h-37.6zM46.5 972.7h37.4v1.9h-37.4zM122 972.7h39v1.9h-39zM236.8 972.7h76.8v1.9h-76.8zM352 972.7h37.7v1.9h-37.7zM428.3 972.7h115.1v1.9h-115.1zM46.5 974.3h190.3v1.9h-190.3zM275.2 974.3h76.8v1.9h-76.8zM389.7 974.3h38.6v1.9h-38.6zM466.5 974.3h76.9v1.9h-76.9zM83.9 976h191.3v1.9h-191.3zM428.3 976h38.2v1.9h-38.2zM543.4 976h37.6v1.9h-37.6zM8.8 977.6h37.7v1.9h-37.7zM161 977.6h38v1.9h-38zM236.8 977.6h76.8v1.9h-76.8zM428.3 977.6h152.7v1.9h-152.7zM46.5 979.2h75.5v1.9h-75.5zM199 979.2h37.8v1.9h-37.8zM236.8 980.9h76.8v1.9h-76.8zM428.3 980.9h152.7v1.9h-152.7zM46.5 982.5h75.5v1.9h-75.5zM161 982.5h38v1.9h-38zM275.2 982.5h38.4v1.9h-38.4zM466.5 982.5h76.9v1.9h-76.9zM46.5 984.1h37.4v1.9h-37.4zM122 984.1h153.2v1.9h-153.2zM313.6 984.1h114.7v1.9h-114.7zM466.5 984.1h37.7v1.9h-37.7zM46.5 985.8h37.4v1.9h-37.4zM122 985.8h114.8v1.9h-114.8zM275.2 985.8h76.8v1.9h-76.8zM46.5 987.4h75.5v1.9h-75.5zM275.2 987.4h38.4v1.9h-38.4zM352 987.4h191.4v1.9h-191.4zM46.5 989h37.4v1.9h-37.4zM199 989h76.2v1.9h-76.2zM313.6 989h38.4v1.9h-38.4zM428.3 989h38.2v1.9h-38.2zM504.2 989h76.8v1.9h-76.8zM8.8 990.7h75.1v1.9h-75.1zM122 990.7h230v1.9h-230zM428.3 990.7h75.9v1.9h-75.9zM8.8 992.3h37.7v1.9h-37.7zM83.9 992.3h115.1v1.9h-115.1zM275.2 992.3h114.5v1.9h-114.5zM428.3 992.3h38.2v1.9h-38.2zM504.2 992.3h39.2v1.9h-39.2zM8.8 993.9h37.7v1.9h-37.7zM83.9 993.9h38.1v1.9h-38.1zM199 993.9h114.6v1.9h-114.6zM8.8 995.6h75.1v1.9h-75.1zM161 995.6h38v1.9h-38zM428.3 995.6h152.7v1.9h-152.7zM8.8 997.2h75.1v1.9h-75.1zM122 997.2h39v1.9h-39zM199 997.2h114.6v1.9h-114.6zM389.7 997.2h38.6v1.9h-38.6zM504.2 997.2h76.8v1.9h-76.8zM46.5 998.8h152.5v1.9h-152.5zM122 1000.5h153.2v1.9h-153.2zM313.6 1000.5h38.4v1.9h-38.4zM466.5 1000.5h76.9v1.9h-76.9zM8.8 1002.1h75.1v1.9h-75.1zM122 1002.1h114.8v1.9h-114.8zM313.6 1002.1h76.1v1.9h-76.1zM428.3 1002.1h38.2v1.9h-38.2zM543.4 1002.1h37.6v1.9h-37.6zM8.8 1003.7h152.2v1.9h-152.2zM313.6 1003.7h38.4v1.9h-38.4zM389.7 1003.7h76.8v1.9h-76.8zM8.8 1005.4h113.2v1.9h-113.2zM352 1005.4h114.5v1.9h-114.5zM199 1007h153v1.9h-153zM389.7 1007h38.6v1.9h-38.6zM543.4 1007h37.6v1.9h-37.6zM8.8 1008.6h113.2v1.9h-113.2zM161 1008.6h75.8v1.9h-75.8zM352 1008.6h76.3v1.9h-76.3zM466.5 1008.6h114.5v1.9h-114.5zM122 1010.3h77v1.9h-77zM236.8 1010.3h38.4v1.9h-38.4zM352 1010.3h37.7v1.9h-37.7zM466.5 1010.3h37.7v1.9h-37.7zM46.5 1011.9h114.5v1.9h-114.5zM199 1011.9h37.8v1.9h-37.8zM352 1011.9h37.7v1.9h-37.7zM466.5 1011.9h114.5v1.9h-114.5zM8.8 1013.5h37.7v1.9h-37.7zM83.9 1013.5h191.3v1.9h-191.3zM352 1013.5h37.7v1.9h-37.7zM543.4 1013.5h37.6v1.9h-37.6zM83.9 1015.2h77.1v1.9h-77.1zM199 1015.2h37.8v1.9h-37.8zM275.2 1015.2h114.5v1.9h-114.5zM466.5 1015.2h37.7v1.9h-37.7z"/>
<path fill="#f3fad5" d="M275.2 275h114.5v1.9h-114.5zM161 309.3h191v1.9h-191zM543.4 315.8h75.6v1.9h-75.6zM275.2 356.7h76.8v1.9h-76.8zM46.5 382.8h75.5v1.9h-75.5zM83.9 394.3h38.1v1.9h-38.1zM389.7 399.2h114.5v1.9h-114.5zM924.5 407.3h39.3v1.9h-39.3zM83.9 422h38.1v1.9h-38.1zM848 423.7h37.9v1.9h-37.9zM83.9 433.5h38.1v1.9h-38.1zM466.5 453.1h37.7v1.9h-37.7zM46.5 458h75.5v1.9h-75.5zM656.9 462.9h76v1.9h-76zM543.4 469.4h75.6v1.9h-75.6zM694.9 474.3h38v1.9h-38zM504.2 490.7h39.2v1.9h-39.2zM199 495.6h37.8v1.9h-37.8zM809.4 511.9h38.6v1.9h-38.6zM161 528.2h75.8v1.9h-75.8zM885.9 528.2h77.9v1.9h-77.9zM236.8 529.9h38.4v1.9h-38.4zM581 534.8h75.9v1.9h-75.9zM694.9 534.8h75.9v1.9h-75.9zM848 549.5h115.8v1.9h-115.8zM275.2 557.7h76.8v1.9h-76.8zM809.4 587.1h38.6v1.9h-38.6zM83.9 601.8h152.9v1.9h-152.9zM694.9 608.3h153.1v1.9h-153.1zM732.9 621.4h76.5v1.9h-76.5zM466.5 629.6h37.7v1.9h-37.7zM504.2 680.2h76.8v1.9h-76.8zM619 680.2h37.9v1.9h-37.9zM732.9 701.4h115.1v1.9h-115.1zM885.9 701.4h38.6v1.9h-38.6zM313.6 704.7h38.4v1.9h-38.4zM236.8 752.1h115.2v1.9h-115.2zM466.5 794.6h37.7v1.9h-37.7zM543.4 794.6h37.6v1.9h-37.6zM543.4 801.1h189.5v1.9h-189.5zM428.3 807.7h152.7v1.9h-152.7zM694.9 824h114.5v1.9h-114.5zM543.4 837.1h37.6v1.9h-37.6zM83.9 851.8h77.1v1.9h-77.1zM199 851.8h37.8v1.9h-37.8zM352 859.9h37.7v1.9h-37.7zM656.9 866.5h76v1.9h-76zM770.8 866.5h77.2v1.9h-77.2zM199 886.1h37.8v1.9h-37.8zM8.8 887.7h37.7v1.9h-37.7zM428.3 889.4h38.2v1.9h-38.2zM236.8 891h38.4v1.9h-38.4zM46.5 894.3h37.4v1.9h-37.4zM8.8 897.5h37.7v1.9h-37.7zM8.8 899.2h37.7v1.9h-37.7zM236.8 899.2h38.4v1.9h-38.4zM352 905.7h37.7v1.9h-37.7zM46.5 909h37.4v1.9h-37.4zM275.2 909h38.4v1.9h-38.4zM466.5 910.6h37.7v1.9h-37.7zM8.8 913.9h37.7v1.9h-37.7zM8.8 915.5h37.7v1.9h-37.7zM161 915.5h38v1.9h-38zM543.4 915.5h37.6v1.9h-37.6zM543.4 917.1h37.6v1.9h-37.6zM275.2 918.8h38.4v1.9h-38.4zM543.4 918.8h37.6v1.9h-37.6zM122 922h39v1.9h-39zM313.6 922h38.4v1.9h-38.4zM83.9 923.7h38.1v1.9h-38.1zM543.4 926.9h37.6v1.9h-37.6zM122 928.6h39v1.9h-39zM543.4 928.6h37.6v1.9h-37.6zM83.9 930.2h38.1v1.9h-38.1zM389.7 930.2h38.6v1.9h-38.6zM466.5 930.2h37.7v1.9h-37.7zM543.4 930.2h37.6v1.9h-37.6zM236.8 931.8h38.4v1.9h-38.4zM504.2 931.8h39.2v1.9h-39.2zM313.6 933.5h38.4v1.9h-38.4zM83.9 935.1h38.1v1.9h-38.1zM236.8 935.1h38.4v1.9h-38.4zM352 935.1h37.7v1.9h-37.7zM428.3 935.1h38.2v1.9h-38.2zM428.3 940h38.2v1.9h-38.2zM122 941.6h39v1.9h-39zM199 944.9h37.8v1.9h-37.8zM466.5 944.9h37.7v1.9h-37.7zM504.2 946.5h39.2v1.9h-39.2zM313.6 948.2h38.4v1.9h-38.4zM466.5 948.2h37.7v1.9h-37.7zM466.5 949.8h37.7v1.9h-37.7zM122 951.4h39v1.9h-39zM199 954.7h37.8v1.9h-37.8zM8.8 956.3h37.7v1.9h-37.7zM352 956.3h37.7v1.9h-37.7zM122 958h39v1.9h-39zM236.8 961.2h38.4v1.9h-38.4zM83.9 962.9h38.1v1.9h-38.1zM83.9 967.8h38.1v1.9h-38.1zM543.4 967.8h37.6v1.9h-37.6zM389.7 969.4h76.8v1.9h-76.8zM83.9 972.7h38.1v1.9h-38.1zM122 979.2h39v1.9h-39zM8.8 980.9h37.7v1.9h-37.7zM504.2 984.1h39.2v1.9h-39.2zM352 985.8h37.7v1.9h-37.7zM543.4 987.4h37.6v1.9h-37.6zM8.8 989h37.7v1.9h-37.7zM83.9 989h38.1v1.9h-38.1zM352 989h76.3v1.9h-76.3zM504.2 990.7h39.2v1.9h-39.2zM122 993.9h39v1.9h-39zM83.9 995.6h38.1v1.9h-38.1zM8.8 998.8h37.7v1.9h-37.7zM466.5 998.8h37.7v1.9h-37.7zM543.4 998.8h37.6v1.9h-37.6zM46.5 1000.5h75.5v1.9h-75.5zM466.5 1002.1h76.9v1.9h-76.9zM504.2 1005.4h39.2v1.9h-39.2zM466.5 1007h37.7v1.9h-37.7zM83.9 1010.3h38.1v1.9h-38.1zM199 1010.3h37.8v1.9h-37.8zM8.8 1011.9h37.7v1.9h-37.7zM313.6 1011.9h38.4v1.9h-38.4zM275.2 1013.5h38.4v1.9h-38.4zM428.3 1013.5h38.2v1.9h-38.2zM504.2 1015.2h39.2v1.9h-39.2z"/>
<path fill="#fdbd79" d="M656.9 276.6h38v1.9h-38zM694.9 369.8h38v1.9h-38zM694.9 444.9h38v1.9h-38zM504.2 570.7h39.2v1.9h-39.2zM656.9 614.8h38v1.9h-38zM389.7 690h38.6v1.9h-38.6zM389.7 732.5h38.6v1.9h-38.6zM389.7 734.1h38.6v1.9h-38.6zM8.8 835.4h37.7v1.9h-37.7zM809.4 897.5h38.6v1.9h-38.6zM848 915.5h37.9v1.9h-37.9zM848 979.2h37.9v1.9h-37.9zM848 980.9h37.9v1.9h-37.9zM848 987.4h37.9v1.9h-37.9zM809.4 992.3h38.6v1.9h-38.6z"/>
<path fill="#fed689" d="M581 278.3h38v1.9h-38zM8.8 297.9h37.7v1.9h-37.7zM619 299.5h37.9v1.9h-37.9zM46.5 301.1h37.4v1.9h-37.4zM46.5 304.4h37.4v1.9h-37.4zM732.9 361.6h37.9v1.9h-37.9zM656.9 369.8h38v1.9h-38zM656.9 377.9h38v1.9h-38zM619 425.3h37.9v1.9h-37.9zM619 433.5h37.9v1.9h-37.9zM656.9 446.5h76v1.9h-76zM619 474.3h37.9v1.9h-37.9zM581 490.7h38v1.9h-38zM504.2 585.4h39.2v1.9h-39.2zM504.2 588.7h39.2v1.9h-39.2zM543.4 609.9h37.6v1.9h-37.6zM466.5 613.2h37.7v1.9h-37.7zM504.2 619.7h39.2v1.9h-39.2zM389.7 672h38.6v1.9h-38.6zM352 750.5h37.7v1.9h-37.7zM428.3 750.5h38.2v1.9h-38.2zM352 753.7h37.7v1.9h-37.7zM236.8 765.2h38.4v1.9h-38.4zM732.9 881.2h37.9v1.9h-37.9zM770.8 886.1h38.6v1.9h-38.6zM848 892.6h37.9v1.9h-37.9zM848 899.2h37.9v1.9h-37.9zM619 904.1h37.9v1.9h-37.9zM581 910.6h151.9v1.9h-151.9zM694.9 912.2h38v1.9h-38zM848 918.8h37.9v1.9h-37.9zM924.5 918.8h39.3v1.9h-39.3zM581 974.3h38v1.9h-38zM581 1003.7h38v1.9h-38z"/>
<path fill="#fff8b5" d="M83.9 279.9h38.1v1.9h-38.1zM83.9 281.5h38.1v1.9h-38.1zM83.9 283.2h38.1v1.9h-38.1zM83.9 288.1h38.1v1.9h-38.1zM83.9 310.9h38.1v1.9h-38.1zM83.9 314.2h38.1v1.9h-38.1zM83.9 327.3h38.1v1.9h-38.1zM83.9 333.8h38.1v1.9h-38.1zM83.9 337.1h38.1v1.9h-38.1zM83.9 345.2h38.1v1.9h-38.1zM83.9 351.8h38.1v1.9h-38.1zM83.9 355h38.1v1.9h-38.1zM199 366.5h37.8v1.9h-37.8zM199 369.8h37.8v1.9h-37.8zM848 369.8h37.9v1.9h-37.9zM122 389.4h39v1.9h-39zM161 392.6h38v1.9h-38zM199 402.4h37.8v1.9h-37.8zM122 405.7h39v1.9h-39zM161 415.5h75.8v1.9h-75.8zM122 422h39v1.9h-39zM199 431.8h37.8v1.9h-37.8zM656.9 454.7h38v1.9h-38zM161 477.6h38v1.9h-38zM161 490.7h38v1.9h-38zM275.2 757h38.4v1.9h-38.4zM275.2 763.5h76.8v1.9h-76.8zM275.2 773.3h38.4v1.9h-38.4zM313.6 783.1h38.4v1.9h-38.4zM275.2 784.8h38.4v1.9h-38.4zM313.6 789.7h38.4v1.9h-38.4zM275.2 797.8h38.4v1.9h-38.4zM275.2 804.4h38.4v1.9h-38.4zM275.2 806h38.4v1.9h-38.4zM313.6 807.7h38.4v1.9h-38.4zM275.2 820.7h38.4v1.9h-38.4zM313.6 833.8h38.4v1.9h-38.4zM275.2 856.7h38.4v1.9h-38.4zM313.6 871.4h38.4v1.9h-38.4zM275.2 873h38.4v1.9h-38.4zM275.2 877.9h38.4v1.9h-38.4zM581 886.1h151.9v1.9h-151.9zM848 887.7h37.9v1.9h-37.9zM809.4 889.4h76.5v1.9h-76.5zM924.5 889.4h39.3v1.9h-39.3zM581 891h75.9v1.9h-75.9zM885.9 892.6h38.6v1.9h-38.6zM581 894.3h113.9v1.9h-113.9zM885.9 894.3h77.9v1.9h-77.9zM885.9 897.5h38.6v1.9h-38.6zM732.9 904.1h37.9v1.9h-37.9zM581 918.8h189.8v1.9h-189.8zM694.9 922h38v1.9h-38zM885.9 925.3h38.6v1.9h-38.6zM848 928.6h37.9v1.9h-37.9zM581 936.7h38v1.9h-38zM694.9 936.7h38v1.9h-38zM848 938.4h37.9v1.9h-37.9zM770.8 941.6h38.6v1.9h-38.6zM619 944.9h37.9v1.9h-37.9zM694.9 944.9h75.9v1.9h-75.9zM694.9 948.2h38v1.9h-38zM924.5 948.2h39.3v1.9h-39.3zM581 949.8h38v1.9h-38zM656.9 949.8h38v1.9h-38zM732.9 949.8h37.9v1.9h-37.9zM770.8 951.4h77.2v1.9h-77.2zM885.9 951.4h38.6v1.9h-38.6zM543.4 954.7h37.6v1.9h-37.6zM581 956.3h38v1.9h-38zM809.4 956.3h76.5v1.9h-76.5zM732.9 959.6h37.9v1.9h-37.9zM732.9 972.7h37.9v1.9h-37.9zM656.9 974.3h76v1.9h-76zM885.9 974.3h38.6v1.9h-38.6zM848 982.5h37.9v1.9h-37.9zM924.5 982.5h39.3v1.9h-39.3zM581 985.8h38v1.9h-38zM656.9 985.8h38v1.9h-38zM732.9 985.8h37.9v1.9h-37.9zM809.4 985.8h38.6v1.9h-38.6zM581 990.7h113.9v1.9h-113.9zM732.9 990.7h37.9v1.9h-37.9zM924.5 990.7h39.3v1.9h-39.3zM656.9 992.3h76v1.9h-76zM770.8 993.9h38.6v1.9h-38.6zM885.9 995.6h38.6v1.9h-38.6zM924.5 998.8h39.3v1.9h-39.3zM924.5 1000.5h39.3v1.9h-39.3zM885.9 1005.4h38.6v1.9h-38.6zM848 1007h37.9v1.9h-37.9zM770.8 1008.6h38.6v1.9h-38.6zM809.4 1015.2h38.6v1.9h-38.6zM885.9 1015.2h77.9v1.9h-77.9z"/>
<path fill="#fc905b" d="M83.9 291.3h38.1v1.9h-38.1zM83.9 324h38.1v1.9h-38.1zM199 409h37.8v1.9h-37.8zM199 420.4h37.8v1.9h-37.8zM122 436.7h39v1.9h-39zM199 438.4h37.8v1.9h-37.8zM122 469.4h39v1.9h-39zM122 487.4h39v1.9h-39zM924.5 487.4h39.3v1.9h-39.3zM504.2 534.8h39.2v1.9h-39.2zM466.5 543h37.7v1.9h-37.7zM543.4 549.5h37.6v1.9h-37.6zM466.5 560.9h37.7v1.9h-37.7zM504.2 596.9h39.2v1.9h-39.2zM504.2 600.1h39.2v1.9h-39.2zM389.7 627.9h38.6v1.9h-38.6zM352 629.6h37.7v1.9h-37.7zM389.7 634.5h38.6v1.9h-38.6zM352 639.4h37.7v1.9h-37.7zM428.3 649.2h38.2v1.9h-38.2zM389.7 678.6h38.6v1.9h-38.6zM389.7 683.5h38.6v1.9h-38.6zM389.7 696.5h38.6v1.9h-38.6zM389.7 706.3h38.6v1.9h-38.6zM389.7 722.7h38.6v1.9h-38.6zM313.6 757h38.4v1.9h-38.4zM313.6 797.8h38.4v1.9h-38.4zM924.5 912.2h39.3v1.9h-39.3zM770.8 962.9h38.6v1.9h-38.6z"/>
<path fill="#fc9f65" d="M83.9 294.6h38.1v1.9h-38.1zM122 441.6h39v1.9h-39zM122 453.1h39v1.9h-39zM466.5 541.3h37.7v1.9h-37.7zM543.4 546.2h37.6v1.9h-37.6zM466.5 554.4h37.7v1.9h-37.7zM466.5 565.8h37.7v1.9h-37.7zM924.5 608.3h39.3v1.9h-39.3zM466.5 614.8h37.7v1.9h-37.7zM428.3 680.2h38.2v1.9h-38.2zM352 699.8h37.7v1.9h-37.7zM313.6 796.2h38.4v1.9h-38.4zM313.6 827.3h38.4v1.9h-38.4zM313.6 853.4h38.4v1.9h-38.4zM885.9 902.4h38.6v1.9h-38.6zM848 926.9h37.9v1.9h-37.9zM885.9 969.4h38.6v1.9h-38.6zM809.4 971h38.6v1.9h-38.6z"/>
<path fill="#fdc27c" d="M8.8 299.5h37.7v1.9h-37.7zM732.9 325.6h37.9v1.9h-37.9zM694.9 366.5h38v1.9h-38zM581 391h38v1.9h-38zM656.9 485.8h38v1.9h-38zM466.5 503.7h37.7v1.9h-37.7zM466.5 508.6h37.7v1.9h-37.7zM504.2 511.9h39.2v1.9h-39.2zM619 516.8h37.9v1.9h-37.9zM466.5 587.1h37.7v1.9h-37.7zM466.5 603.4h37.7v1.9h-37.7zM656.9 613.2h38v1.9h-38zM466.5 623h37.7v1.9h-37.7zM389.7 637.7h38.6v1.9h-38.6zM619 637.7h37.9v1.9h-37.9zM770.8 900.8h38.6v1.9h-38.6zM809.4 915.5h38.6v1.9h-38.6zM770.8 922h38.6v1.9h-38.6zM924.5 951.4h39.3v1.9h-39.3zM809.4 958h38.6v1.9h-38.6zM581 959.6h38v1.9h-38zM848 976h37.9v1.9h-37.9zM809.4 989h38.6v1.9h-38.6zM809.4 990.7h38.6v1.9h-38.6z"/>
<path fill="#fdb372" d="M83.9 304.4h38.1v1.9h-38.1zM694.9 325.6h38v1.9h-38zM83.9 332.2h38.1v1.9h-38.1zM199 451.5h37.8v1.9h-37.8zM389.7 626.3h38.6v1.9h-38.6zM848 902.4h37.9v1.9h-37.9zM885.9 907.3h38.6v1.9h-38.6zM809.4 912.2h38.6v1.9h-38.6zM885.9 915.5h77.9v1.9h-77.9zM885.9 920.4h38.6v1.9h-38.6zM885.9 941.6h38.6v1.9h-38.6zM848 949.8h37.9v1.9h-37.9zM885.9 962.9h38.6v1.9h-38.6zM885.9 972.7h38.6v1.9h-38.6zM809.4 997.2h38.6v1.9h-38.6zM809.4 1005.4h38.6v1.9h-38.6z"/>
<path fill="#fffebe" d="M656.9 309.3h76v1.9h-76zM694.9 320.7h38v1.9h-38zM656.9 333.8h38v1.9h-38zM313.6 335.4h38.4v1.9h-38.4zM848 346.9h76.5v1.9h-76.5zM504.2 356.7h76.8v1.9h-76.8zM428.3 363.2h38.2v1.9h-38.2zM619 364.9h75.9v1.9h-75.9zM770.8 364.9h38.6v1.9h-38.6zM352 366.5h37.7v1.9h-37.7zM428.3 366.5h38.2v1.9h-38.2zM809.4 369.8h38.6v1.9h-38.6zM885.9 369.8h77.9v1.9h-77.9zM389.7 371.4h38.6v1.9h-38.6zM313.6 374.7h38.4v1.9h-38.4zM848 384.5h37.9v1.9h-37.9zM924.5 384.5h39.3v1.9h-39.3zM581 404.1h38v1.9h-38zM389.7 407.3h76.8v1.9h-76.8zM656.9 412.2h76v1.9h-76zM275.2 428.6h38.4v1.9h-38.4zM543.4 430.2h37.6v1.9h-37.6zM46.5 435.1h37.4v1.9h-37.4zM581 449.8h38v1.9h-38zM770.8 451.5h38.6v1.9h-38.6zM504.2 462.9h39.2v1.9h-39.2zM581 462.9h38v1.9h-38zM313.6 471.1h38.4v1.9h-38.4zM8.8 476h37.7v1.9h-37.7zM83.9 476h38.1v1.9h-38.1zM694.9 476h38v1.9h-38zM809.4 476h38.6v1.9h-38.6zM770.8 477.6h77.2v1.9h-77.2zM694.9 480.9h38v1.9h-38zM770.8 480.9h38.6v1.9h-38.6zM275.2 495.6h38.4v1.9h-38.4zM199 503.7h37.8v1.9h-37.8zM275.2 503.7h38.4v1.9h-38.4zM352 503.7h37.7v1.9h-37.7zM809.4 507h38.6v1.9h-38.6zM848 508.6h37.9v1.9h-37.9zM924.5 508.6h39.3v1.9h-39.3zM885.9 526.6h38.6v1.9h-38.6zM83.9 541.3h38.1v1.9h-38.1zM885.9 541.3h38.6v1.9h-38.6zM656.9 559.3h38v1.9h-38zM199 562.6h153v1.9h-153zM619 587.1h37.9v1.9h-37.9zM656.9 605h38v1.9h-38zM428.3 608.3h38.2v1.9h-38.2zM352 618.1h37.7v1.9h-37.7zM885.9 627.9h38.6v1.9h-38.6zM313.6 634.5h38.4v1.9h-38.4zM161 659h38v1.9h-38zM8.8 712.9h37.7v1.9h-37.7zM848 724.3h37.9v1.9h-37.9zM809.4 755.4h76.5v1.9h-76.5zM656.9 778.2h38v1.9h-38zM352 791.3h37.7v1.9h-37.7zM428.3 843.6h38.2v1.9h-38.2zM504.2 868.1h76.8v1.9h-76.8zM809.4 871.4h38.6v1.9h-38.6zM504.2 887.7h39.2v1.9h-39.2zM352 894.3h37.7v1.9h-37.7zM581 905.7h151.9v1.9h-151.9zM619 907.3h37.9v1.9h-37.9zM581 912.2h38v1.9h-38zM732.9 920.4h37.9v1.9h-37.9zM581 926.9h75.9v1.9h-75.9zM732.9 926.9h37.9v1.9h-37.9zM581 931.8h75.9v1.9h-75.9zM581 935.1h189.8v1.9h-189.8zM619 943.3h75.9v1.9h-75.9zM122 956.3h39v1.9h-39zM199 964.5h37.8v1.9h-37.8zM581 964.5h38v1.9h-38zM732.9 966.1h37.9v1.9h-37.9zM389.7 967.8h76.8v1.9h-76.8zM581 969.4h151.9v1.9h-151.9zM619 979.2h75.9v1.9h-75.9zM694.9 980.9h75.9v1.9h-75.9zM352 982.5h37.7v1.9h-37.7zM732.9 982.5h37.9v1.9h-37.9zM619 984.1h37.9v1.9h-37.9zM694.9 984.1h38v1.9h-38zM466.5 985.8h76.9v1.9h-76.9zM581 989h75.9v1.9h-75.9zM694.9 989h38v1.9h-38zM581 993.9h38v1.9h-38zM732.9 993.9h37.9v1.9h-37.9zM581 1002.1h151.9v1.9h-151.9zM656.9 1003.7h38v1.9h-38zM732.9 1003.7h37.9v1.9h-37.9zM619 1005.4h75.9v1.9h-75.9zM732.9 1005.4h37.9v1.9h-37.9zM581 1007h38v1.9h-38zM694.9 1008.6h38v1.9h-38zM581 1015.2h38v1.9h-38z"/>
<path fill="#fdae6f" d="M83.9 320.7h38.1v1.9h-38.1zM199 430.2h37.8v1.9h-37.8zM199 459.6h37.8v1.9h-37.8zM619 613.2h37.9v1.9h-37.9zM389.7 642.6h38.6v1.9h-38.6zM428.3 663.9h38.2v1.9h-38.2zM352 680.2h37.7v1.9h-37.7zM389.7 694.9h38.6v1.9h-38.6zM352 735.8h37.7v1.9h-37.7zM809.4 900.8h38.6v1.9h-38.6zM885.9 910.6h38.6v1.9h-38.6zM924.5 913.9h39.3v1.9h-39.3zM770.8 918.8h38.6v1.9h-38.6zM885.9 938.4h38.6v1.9h-38.6zM924.5 956.3h39.3v1.9h-39.3zM809.4 962.9h38.6v1.9h-38.6zM924.5 976h39.3v1.9h-39.3zM924.5 997.2h39.3v1.9h-39.3zM924.5 1013.5h39.3v1.9h-39.3z"/>
<path fill="#fcfec4" d="M619 353.4h37.9v1.9h-37.9zM924.5 392.6h39.3v1.9h-39.3zM389.7 438.4h38.6v1.9h-38.6zM543.4 462.9h37.6v1.9h-37.6zM694.9 526.6h38v1.9h-38zM313.6 670.4h38.4v1.9h-38.4zM581 887.7h38v1.9h-38zM694.9 892.6h75.9v1.9h-75.9zM313.6 895.9h38.4v1.9h-38.4zM581 895.9h38v1.9h-38zM656.9 895.9h113.9v1.9h-113.9zM694.9 897.5h75.9v1.9h-75.9zM581 907.3h38v1.9h-38zM656.9 907.3h38v1.9h-38zM732.9 907.3h37.9v1.9h-37.9zM619 915.5h113.9v1.9h-113.9zM428.3 936.7h75.9v1.9h-75.9zM543.4 944.9h37.6v1.9h-37.6zM656.9 951.4h38v1.9h-38zM732.9 951.4h37.9v1.9h-37.9zM619 961.2h37.9v1.9h-37.9zM656.9 962.9h38v1.9h-38zM732.9 962.9h37.9v1.9h-37.9zM122 964.5h39v1.9h-39zM199 969.4h153v1.9h-153zM732.9 977.6h37.9v1.9h-37.9zM581 995.6h38v1.9h-38zM656.9 995.6h113.9v1.9h-113.9zM275.2 998.8h38.4v1.9h-38.4zM8.8 1007h37.7v1.9h-37.7zM581 1010.3h113.9v1.9h-113.9zM732.9 1010.3h37.9v1.9h-37.9zM694.9 1013.5h75.9v1.9h-75.9z"/>
<path fill="#fda468" d="M83.9 358.3h38.1v1.9h-38.1zM199 371.4h37.8v1.9h-37.8zM199 425.3h37.8v1.9h-37.8zM199 444.9h37.8v1.9h-37.8zM389.7 688.4h38.6v1.9h-38.6zM313.6 784.8h38.4v1.9h-38.4zM313.6 799.5h38.4v1.9h-38.4zM313.6 825.6h38.4v1.9h-38.4zM924.5 923.7h39.3v1.9h-39.3zM809.4 936.7h38.6v1.9h-38.6zM809.4 967.8h38.6v1.9h-38.6zM924.5 987.4h39.3v1.9h-39.3zM924.5 989h39.3v1.9h-39.3zM809.4 993.9h38.6v1.9h-38.6zM885.9 1013.5h38.6v1.9h-38.6z"/>
<path fill="#e45239" d="M8.8 361.6h37.7v1.9h-37.7zM122 412.2h39v1.9h-39zM504.2 510.3h39.2v1.9h-39.2zM543.4 518.4h37.6v1.9h-37.6zM466.5 556h37.7v1.9h-37.7zM389.7 654.1h38.6v1.9h-38.6zM389.7 670.4h38.6v1.9h-38.6zM389.7 680.2h38.6v1.9h-38.6zM389.7 685.1h38.6v1.9h-38.6zM389.7 743.9h38.6v1.9h-38.6zM236.8 773.3h38.4v1.9h-38.4zM236.8 776.6h38.4v1.9h-38.4zM236.8 789.7h38.4v1.9h-38.4zM236.8 801.1h38.4v1.9h-38.4zM236.8 824h38.4v1.9h-38.4zM236.8 827.3h38.4v1.9h-38.4zM236.8 828.9h38.4v1.9h-38.4zM236.8 833.8h38.4v1.9h-38.4zM236.8 858.3h38.4v1.9h-38.4zM236.8 861.6h38.4v1.9h-38.4zM885.9 900.8h38.6v1.9h-38.6zM885.9 979.2h38.6v1.9h-38.6zM885.9 985.8h38.6v1.9h-38.6z"/>
<path fill="#f98554" d="M161 374.7h38v1.9h-38zM161 384.5h38v1.9h-38zM122 394.3h39v1.9h-39zM161 453.1h38v1.9h-38zM543.4 507h37.6v1.9h-37.6zM504.2 556h39.2v1.9h-39.2zM504.2 557.7h39.2v1.9h-39.2zM924.5 580.5h39.3v1.9h-39.3zM466.5 621.4h37.7v1.9h-37.7zM428.3 650.8h38.2v1.9h-38.2zM389.7 660.6h38.6v1.9h-38.6zM352 688.4h37.7v1.9h-37.7zM428.3 698.2h38.2v1.9h-38.2zM389.7 729.2h38.6v1.9h-38.6zM352 747.2h37.7v1.9h-37.7zM924.5 837.1h39.3v1.9h-39.3zM770.8 966.1h38.6v1.9h-38.6zM924.5 995.6h39.3v1.9h-39.3z"/>
<path fill="#fc9a61" d="M122 391h39v1.9h-39zM199 412.2h37.8v1.9h-37.8zM199 467.8h37.8v1.9h-37.8zM122 480.9h39v1.9h-39zM466.5 528.2h37.7v1.9h-37.7zM466.5 559.3h37.7v1.9h-37.7zM543.4 574h37.6v1.9h-37.6zM543.4 582.2h37.6v1.9h-37.6zM428.3 632.8h38.2v1.9h-38.2zM428.3 652.4h38.2v1.9h-38.2zM352 657.3h37.7v1.9h-37.7zM428.3 673.7h38.2v1.9h-38.2zM352 714.5h37.7v1.9h-37.7zM770.8 899.2h38.6v1.9h-38.6zM809.4 905.7h38.6v1.9h-38.6zM770.8 907.3h38.6v1.9h-38.6zM848 971h37.9v1.9h-37.9zM770.8 977.6h38.6v1.9h-38.6zM848 989h37.9v1.9h-37.9zM809.4 995.6h38.6v1.9h-38.6zM809.4 1000.5h38.6v1.9h-38.6z"/>
<path fill="#fdb875" d="M619 395.9h37.9v1.9h-37.9zM619 464.5h37.9v1.9h-37.9zM504.2 547.9h39.2v1.9h-39.2zM504.2 562.6h39.2v1.9h-39.2zM504.2 583.8h39.2v1.9h-39.2zM504.2 605h39.2v1.9h-39.2zM581 613.2h38v1.9h-38zM389.7 645.9h38.6v1.9h-38.6zM389.7 657.3h38.6v1.9h-38.6zM389.7 717.8h38.6v1.9h-38.6zM619 766.8h37.9v1.9h-37.9zM732.9 766.8h37.9v1.9h-37.9zM770.8 889.4h38.6v1.9h-38.6zM809.4 928.6h38.6v1.9h-38.6zM848 951.4h37.9v1.9h-37.9zM809.4 953.1h38.6v1.9h-38.6zM809.4 961.2h38.6v1.9h-38.6z"/>
<path fill="#e8f6ea" d="M313.6 675.3h38.4v1.9h-38.4z"/>
<path fill="#edf8e0" d="M161 928.6h38v1.9h-38zM122 936.7h39v1.9h-39zM199 936.7h76.2v1.9h-76.2zM428.3 949.8h38.2v1.9h-38.2zM199 951.4h37.8v1.9h-37.8zM504.2 953.1h39.2v1.9h-39.2zM161 954.7h38v1.9h-38zM275.2 967.8h76.8v1.9h-76.8zM543.4 969.4h37.6v1.9h-37.6zM122 971h39v1.9h-39zM352 979.2h37.7v1.9h-37.7zM428.3 979.2h75.9v1.9h-75.9zM236.8 982.5h38.4v1.9h-38.4zM199 995.6h114.6v1.9h-114.6z"/>
<path fill="#ebf7e3" d="M199 928.6h37.8v1.9h-37.8zM161 936.7h38v1.9h-38zM199 967.8h76.2v1.9h-76.2zM199 982.5h37.8v1.9h-37.8z"/>
</g>
<rect x="8.8" y="202.4" width="113.5" height="23.4" fill="#FF9289"/>
<rect x="122" y="202.4" width="115.1" height="23.4" fill="#E0B400"/>
<rect x="236.8" y="202.4" width="115.5" height="23.4" fill="#00D1FF"/>
<rect x="352" y="202.4" width="114.8" height="23.4" fill="#FF81F2"/>
<rect x="466.5" y="202.4" width="114.8" height="23.4" fill="#00DCAF"/>
<rect x="581" y="202.4" width="190.1" height="23.4" fill="#C0A6FF"/>
<rect x="770.8" y="202.4" width="193.3" height="23.4" fill="#70CF07"/>
<path fill="none" stroke="#1a1a1a" stroke-width="2" d="M65.2 201.5V151.3H103V201.5M27.6 201.5V116.2H85V151.3M180 201.5V168.8H217.9V201.5M141.5 201.5V145H199.8V168.8M294.4 201.5V155.1H332.8V201.5M256 201.5V129.8H314.5V155.1M171.2 145V111.8H285.8V129.8M56.5 116.2V93.3H228.5V111.8M409 201.5V155.1H447.4V201.5M370.9 201.5V151.3H429.1V155.1M523.8 201.5V146.2H562.2V201.5M485.4 201.5V142.3H543.5V146.2M600 201.5V178.9H638V201.5M713.9 201.5V175.3H751.8V201.5M675.9 201.5V169H734.4V175.3M619.9 178.9V157.3H705.7V169M828.7 201.5V163.6H867V201.5M905.2 201.5V156H944.1V201.5M849.2 163.6V153.8H925.5V156M790.1 201.5V151.1H887.3V153.8M662.8 157.3V119.4H839.5V151.1M514.9 142.3V96.8H751.2V119.4M400 151.3V88.1H633V96.8M142.9 93.3V81.8H516.5V88.1"/>
<g font-size="23" fill="#000">
<text transform="translate(19.8 1023.9) rotate(90)">HEL_1_foot</text>
<text transform="translate(57.3 1023.9) rotate(90)">HEL_2_foot</text>
<text transform="translate(95 1023.9) rotate(90)">HEL_3_foot</text>
<text transform="translate(133.6 1023.9) rotate(90)">HEL_1_siphon</text>
<text transform="translate(172.1 1023.9) rotate(90)">HEL_2_siphon</text>
<text transform="translate(210 1023.9) rotate(90)">HEL_3_siphon</text>
<text transform="translate(248.1 1023.9) rotate(90)">HEL_1_mantle</text>
<text transform="translate(286.5 1023.9) rotate(90)">HEL_2_mantle</text>
<text transform="translate(324.9 1023.9) rotate(90)">HEL_3_mantle</text>
<text transform="translate(363 1023.9) rotate(90)">HEL_1_gill</text>
<text transform="translate(401.1 1023.9) rotate(90)">HEL_2_gill</text>
<text transform="translate(439.5 1023.9) rotate(90)">HEL_3_gill</text>
<text transform="translate(477.5 1023.9) rotate(90)">HEL_3_muscle</text>
<text transform="translate(515.9 1023.9) rotate(90)">HEL_2_muscle</text>
<text transform="translate(554.3 1023.9) rotate(90)">HEL_1_muscle</text>
<text transform="translate(592.1 1023.9) rotate(90)">BTN_4_BTN</text>
<text transform="translate(630.1 1023.9) rotate(90)">BTN_5_BTN</text>
<text transform="translate(668 1023.9) rotate(90)">BTN_1_BTN</text>
<text transform="translate(706 1023.9) rotate(90)">BTN_2_BTN</text>
<text transform="translate(743.9 1023.9) rotate(90)">BTN_3_BTN</text>
<text transform="translate(782.2 1023.9) rotate(90)">HEL_3_heme</text>
<text transform="translate(820.8 1023.9) rotate(90)">HEL_1_heme</text>
<text transform="translate(859.1 1023.9) rotate(90)">HEL_5_heme</text>
<text transform="translate(897.3 1023.9) rotate(90)">HEL_2_heme</text>
<text transform="translate(936.2 1023.9) rotate(90)">HEL_4_heme</text>
</g>
<text x="970.5" y="222" font-size="22.4" font-weight="bold">tissue</text>
<defs><linearGradient id="cb" x1="0" y1="1" x2="0" y2="0">
<stop offset="0%" stop-color="#4575B4"/>
<stop offset="16.7%" stop-color="#91BFDB"/>
<stop offset="33.3%" stop-color="#E0F3F8"/>
<stop offset="50%" stop-color="#FFFFBF"/>
<stop offset="66.7%" stop-color="#FEE090"/>
<stop offset="83.3%" stop-color="#FC8D59"/>
<stop offset="100%" stop-color="#D73027"/>
</linearGradient><clipPath id="lg"><rect x="900" y="200" width="246" height="400"/></clipPath></defs>
<rect x="974.2" y="232.7" width="24.2" height="343.2" fill="url(#cb)"/>
<g font-size="23.2" fill="#000">
<text x="1006" y="270.4">4</text>
<text x="1006" y="341.2">2</text>
<text x="1006" y="411.9">0</text>
<text x="1006" y="482.6">−2</text>
<text x="1006" y="553.4">−4</text>
</g>
<g clip-path="url(#lg)">
<text x="1040.7" y="248.8" font-size="22.4" font-weight="bold">tissue</text>
<rect x="1040.1" y="257" width="32.8" height="32.9" fill="#C0A6FF"/>
<text x="1079" y="281.6" font-size="23">BTN</text>
<rect x="1040.1" y="289.6" width="32.8" height="32.9" fill="#FF9289"/>
<text x="1079" y="314.2" font-size="23">foot</text>
<rect x="1040.1" y="322.2" width="32.8" height="32.9" fill="#FF81F2"/>
<text x="1079" y="346.8" font-size="23">gill</text>
<rect x="1040.1" y="354.8" width="32.8" height="32.9" fill="#70CF07"/>
<text x="1079" y="379.4" font-size="23">heme</text>
<rect x="1040.1" y="387.4" width="32.8" height="32.9" fill="#00D1FF"/>
<text x="1079" y="412" font-size="23">mantle</text>
<rect x="1040.1" y="420" width="32.8" height="32.9" fill="#00DCAF"/>
<text x="1079" y="444.6" font-size="23">muscle</text>
<rect x="1040.1" y="452.6" width="32.8" height="32.9" fill="#E0B400"/>
<text x="1079" y="477.2" font-size="23">siphon</text>
</g>
<rect x="1234.7" y="116.6" width="436.8" height="32.9" fill="#fff" stroke="#000" stroke-width="2.9"/>
<path stroke="#000" stroke-width="3.8" d="M1233.2 116.6H1672.9"/>
<text x="1453.1" y="139.3" font-size="18.4" fill="#1a1a1a" text-anchor="middle">TEN1−like_3</text>
<path fill="none" stroke="#000" stroke-width="2.4" d="M1233.2 150.9V587.3H1672.9"/>
<text x="1223.3" y="533" font-size="18.7" fill="#4d4d4d" text-anchor="end">0</text>
<text x="1223.3" y="400.8" font-size="18.7" fill="#4d4d4d" text-anchor="end">5</text>
<text x="1223.3" y="268.6" font-size="18.7" fill="#4d4d4d" text-anchor="end">10</text>
<path stroke="#333" stroke-width="2" d="M1227.4 526.4H1233.2M1227.4 394.2H1233.2M1227.4 262H1233.2M1315.5 587.3V593.6M1453 587.3V593.6M1590.5 587.3V593.6"/>
<text x="1315.5" y="610.8" font-size="18.8" fill="#4d4d4d" text-anchor="middle">MarBTN</text>
<text x="1453" y="610.8" font-size="18.8" fill="#4d4d4d" text-anchor="middle">hemocyte</text>
<text x="1590.5" y="610.8" font-size="18.8" fill="#4d4d4d" text-anchor="middle">tissue</text>
<path fill="none" stroke="#000" stroke-width="3" d="M1253.2 526.4H1377.8M1253.2 526.4H1377.8M1315.5 526.4V526.4"/>
<circle cx="1315.5" cy="526.4" r="4.8"/>
<path fill="none" stroke="#000" stroke-width="3" d="M1390.7 526.4H1515.3M1390.7 526.4H1515.3M1453 526.4V526.4"/>
<circle cx="1453" cy="526.4" r="4.8"/>
<rect x="1528.2" y="438.2" width="124.6" height="88.2" fill="#595959"/>
<path fill="none" stroke="#000" stroke-width="3" d="M1528.2 309.7H1652.8M1528.2 566.7H1652.8M1590.5 309.7V566.7"/>
<circle cx="1590.5" cy="170.7" r="4.8"/>
<circle cx="1590.5" cy="186.3" r="4.8"/>
<circle cx="1590.5" cy="292.7" r="4.8"/>
<circle cx="1590.5" cy="328.4" r="4.8"/>
<circle cx="1590.5" cy="436.7" r="4.8"/>
<circle cx="1590.5" cy="492" r="4.8"/>
<circle cx="1590.5" cy="526.4" r="4.8"/>
<path stroke="#444" stroke-width="3.2" d="M1311.6 203H1599.1"/>
<text x="1454.5" y="206" font-size="33" text-anchor="middle">*</text>
<path stroke="#444" stroke-width="3.2" d="M1311.6 233.7H1455.2"/>
<text x="1383" y="224.5" font-size="28.5" text-anchor="middle">ns</text>
<rect x="1727" y="116.5" width="436.9" height="33" fill="#fff" stroke="#000" stroke-width="2.9"/>
<path stroke="#000" stroke-width="3.8" d="M1725.6 116.5H2165.4"/>
<text x="1945.5" y="139.3" font-size="18.4" fill="#1a1a1a" text-anchor="middle">uncharacterized_10146</text>
<path fill="none" stroke="#000" stroke-width="2.4" d="M1725.6 150.9V586.3H2165.4"/>
<text x="1715.7" y="573.7" font-size="18.7" fill="#4d4d4d" text-anchor="end">0</text>
<text x="1715.7" y="453.1" font-size="18.7" fill="#4d4d4d" text-anchor="end">50</text>
<text x="1715.7" y="332.5" font-size="18.7" fill="#4d4d4d" text-anchor="end">100</text>
<text x="1715.7" y="211.9" font-size="18.7" fill="#4d4d4d" text-anchor="end">150</text>
<path stroke="#333" stroke-width="2" d="M1719.8 567.1H1725.6M1719.8 446.5H1725.6M1719.8 325.9H1725.6M1719.8 205.3H1725.6M1807.3 586.3V592.6M1945 586.3V592.6M2082.3 586.3V592.6"/>
<text x="1807.3" y="609.8" font-size="18.8" fill="#4d4d4d" text-anchor="middle">MarBTN</text>
<text x="1945" y="609.8" font-size="18.8" fill="#4d4d4d" text-anchor="middle">hemocyte</text>
<text x="2082.3" y="609.8" font-size="18.8" fill="#4d4d4d" text-anchor="middle">tissue</text>
<rect x="1745" y="287.3" width="124.6" height="279.8" fill="#595959"/>
<path fill="none" stroke="#000" stroke-width="3" d="M1745 198H1869.6M1745 377.1H1869.6M1807.3 198V377.1"/>
<circle cx="1807.3" cy="170.7" r="4.8"/>
<circle cx="1807.3" cy="245.5" r="4.8"/>
<circle cx="1807.3" cy="270.6" r="4.8"/>
<circle cx="1807.3" cy="376.5" r="4.8"/>
<rect x="1882.7" y="474.4" width="124.6" height="92.7" fill="#595959"/>
<path fill="none" stroke="#000" stroke-width="3" d="M1882.7 415.4H2007.3M1882.7 534.9H2007.3M1945 415.4V534.9"/>
<circle cx="1945" cy="384.3" r="4.8"/>
<circle cx="1945" cy="460.6" r="4.8"/>
<circle cx="1945" cy="475" r="4.8"/>
<circle cx="1945" cy="513.9" r="4.8"/>
<circle cx="1945" cy="540.6" r="4.8"/>
<rect x="2020" y="512.4" width="124.6" height="54.7" fill="#595959"/>
<path fill="none" stroke="#000" stroke-width="3" d="M2020 465.2H2144.6M2020 561.4H2144.6M2082.3 465.2V561.4"/>
<circle cx="2082.3" cy="404.5" r="4.8"/>
<circle cx="2082.3" cy="439.3" r="4.8"/>
<circle cx="2082.3" cy="475" r="4.8"/>
<circle cx="2082.3" cy="493.1" r="4.8"/>
<circle cx="2082.3" cy="519.6" r="4.8"/>
<circle cx="2082.3" cy="527.7" r="4.8"/>
<circle cx="2082.3" cy="539.2" r="4.8"/>
<circle cx="2082.3" cy="545" r="4.8"/>
<circle cx="2082.3" cy="554.4" r="4.8"/>
<circle cx="2082.3" cy="561.4" r="4.8"/>
<circle cx="2082.3" cy="567.1" r="4.8"/>
<path stroke="#444" stroke-width="3.2" d="M1809 193.1H2095.7"/>
<text x="1953.2" y="196" font-size="33" text-anchor="middle">*</text>
<path stroke="#444" stroke-width="3.2" d="M1809 224H1951.8"/>
<text x="1876" y="215.9" font-size="28.5" text-anchor="middle">ns</text>
<rect x="1234.7" y="627.9" width="436.8" height="30.4" fill="#fff" stroke="#000" stroke-width="2.9"/>
<path stroke="#000" stroke-width="3.8" d="M1233.2 627.9H1672.9"/>
<text x="1453.1" y="648.2" font-size="18.4" fill="#1a1a1a" text-anchor="middle">uncharacterized_1199</text>
<path fill="none" stroke="#000" stroke-width="2.4" d="M1233.2 659.8V1097.7H1672.9"/>
<text x="1223.3" y="1035.6" font-size="18.7" fill="#4d4d4d" text-anchor="end">0</text>
<text x="1223.3" y="964.7" font-size="18.7" fill="#4d4d4d" text-anchor="end">500</text>
<text x="1223.3" y="893.8" font-size="18.7" fill="#4d4d4d" text-anchor="end">1000</text>
<text x="1223.3" y="822.9" font-size="18.7" fill="#4d4d4d" text-anchor="end">1500</text>
<text x="1223.3" y="752" font-size="18.7" fill="#4d4d4d" text-anchor="end">2000</text>
<text x="1223.3" y="681.1" font-size="18.7" fill="#4d4d4d" text-anchor="end">2500</text>
<path stroke="#333" stroke-width="2" d="M1227.4 1029H1233.2M1227.4 958.1H1233.2M1227.4 887.2H1233.2M1227.4 816.3H1233.2M1227.4 745.4H1233.2M1227.4 674.5H1233.2M1315.5 1097.7V1104M1453 1097.7V1104M1590.5 1097.7V1104"/>
<text x="1315.5" y="1121.2" font-size="18.8" fill="#4d4d4d" text-anchor="middle">MarBTN</text>
<text x="1453" y="1121.2" font-size="18.8" fill="#4d4d4d" text-anchor="middle">hemocyte</text>
<text x="1590.5" y="1121.2" font-size="18.8" fill="#4d4d4d" text-anchor="middle">tissue</text>
<path fill="none" stroke="#000" stroke-width="3" d="M1253.2 1029H1377.8M1253.2 1029H1377.8M1315.5 1029V1029"/>
<circle cx="1315.5" cy="1029" r="4.8"/>
<path fill="none" stroke="#000" stroke-width="3" d="M1390.7 1029H1515.3M1390.7 1029H1515.3M1453 1029V1029"/>
<circle cx="1453" cy="1029" r="4.8"/>
<rect x="1528.2" y="971.6" width="124.6" height="57.4" fill="#595959"/>
<path fill="none" stroke="#000" stroke-width="3" d="M1528.2 866.6H1652.8M1528.2 1076.3H1652.8M1590.5 866.6V1076.3"/>
<circle cx="1590.5" cy="680.3" r="4.8"/>
<circle cx="1590.5" cy="768.9" r="4.8"/>
<circle cx="1590.5" cy="937.4" r="4.8"/>
<circle cx="1590.5" cy="971.6" r="4.8"/>
<circle cx="1590.5" cy="996.3" r="4.8"/>
<circle cx="1590.5" cy="1006" r="4.8"/>
<circle cx="1590.5" cy="1013.7" r="4.8"/>
<circle cx="1590.5" cy="1022.9" r="4.8"/>
<circle cx="1590.5" cy="1029" r="4.8"/>
<path stroke="#444" stroke-width="3.2" d="M1310 720.6H1597.1"/>
<text x="1451.5" y="719.5" font-size="33" text-anchor="middle">**</text>
<path stroke="#444" stroke-width="3.2" d="M1310 750.5H1453.6"/>
<text x="1379.7" y="741" font-size="28.5" text-anchor="middle">ns</text>
<rect x="1727" y="628.1" width="436.9" height="30.8" fill="#fff" stroke="#000" stroke-width="2.9"/>
<path stroke="#000" stroke-width="3.8" d="M1725.6 628.1H2165.4"/>
<text x="1945.5" y="648.8" font-size="18.4" fill="#1a1a1a" text-anchor="middle">uncharacterized_7181</text>
<path fill="none" stroke="#000" stroke-width="2.4" d="M1725.6 660.4V1097.2H2165.4"/>
<text x="1715.7" y="1042.2" font-size="18.7" fill="#4d4d4d" text-anchor="end">0</text>
<text x="1715.7" y="918.3" font-size="18.7" fill="#4d4d4d" text-anchor="end">40</text>
<text x="1715.7" y="794.4" font-size="18.7" fill="#4d4d4d" text-anchor="end">80</text>
<text x="1715.7" y="670.5" font-size="18.7" fill="#4d4d4d" text-anchor="end">120</text>
<path stroke="#333" stroke-width="2" d="M1719.8 1035.6H1725.6M1719.8 911.7H1725.6M1719.8 787.8H1725.6M1719.8 663.9H1725.6M1807.3 1097.2V1103.5M1945 1097.2V1103.5M2082.3 1097.2V1103.5"/>
<text x="1807.3" y="1120.7" font-size="18.8" fill="#4d4d4d" text-anchor="middle">MarBTN</text>
<text x="1945" y="1120.7" font-size="18.8" fill="#4d4d4d" text-anchor="middle">hemocyte</text>
<text x="2082.3" y="1120.7" font-size="18.8" fill="#4d4d4d" text-anchor="middle">tissue</text>
<rect x="1745" y="1001" width="124.6" height="34.6" fill="#595959"/>
<path fill="none" stroke="#000" stroke-width="3" d="M1745 984.9H1869.6M1745 1018.9H1869.6M1807.3 984.9V1018.9"/>
<circle cx="1807.3" cy="980" r="4.8"/>
<circle cx="1807.3" cy="991.5" r="4.8"/>
<circle cx="1807.3" cy="1003" r="4.8"/>
<circle cx="1807.3" cy="1010.2" r="4.8"/>
<circle cx="1807.3" cy="1024.6" r="4.8"/>
<path fill="none" stroke="#000" stroke-width="3" d="M1882.7 1035.6H2007.3M1882.7 1035.6H2007.3M1945 1035.6V1035.6"/>
<circle cx="1945" cy="1035.6" r="4.8"/>
<rect x="2020" y="967.6" width="124.6" height="68" fill="#595959"/>
<path fill="none" stroke="#000" stroke-width="3" d="M2020 858.5H2144.6M2020 1076.5H2144.6M2082.3 858.5V1076.5"/>
<circle cx="2082.3" cy="680" r="4.8"/>
<circle cx="2082.3" cy="756.3" r="4.8"/>
<circle cx="2082.3" cy="910.9" r="4.8"/>
<circle cx="2082.3" cy="920.4" r="4.8"/>
<circle cx="2082.3" cy="994.4" r="4.8"/>
<circle cx="2082.3" cy="1001.6" r="4.8"/>
<circle cx="2082.3" cy="1008.8" r="4.8"/>
<circle cx="2082.3" cy="1027.5" r="4.8"/>
<circle cx="2082.3" cy="1036.2" r="4.8"/>
<path stroke="#444" stroke-width="3.2" d="M1797.8 698.7H2084.2"/>
<text x="1937.4" y="687" font-size="28.5" text-anchor="middle">ns</text>
<path stroke="#444" stroke-width="3.2" d="M1797.8 728.7H1940.8"/>
<text x="1869.5" y="731" font-size="33" text-anchor="middle">*</text>
<text transform="translate(1171.9 623.2) rotate(-90)" font-size="22.6" text-anchor="middle">Reads per gene</text>
<path fill="none" stroke="#000" stroke-width="5.2" d="M215.6 1257.5V2222.3H2145"/>
<path stroke="#000" stroke-width="5" d="M215.6 2138.1H2145"/>
<g font-size="59.5" fill="#333">
<text x="191.6" y="2207.1" text-anchor="end">0</text>
<text x="191.6" y="2021.1" text-anchor="end">5</text>
<text x="191.6" y="1835.1" text-anchor="end">10</text>
<text x="191.6" y="1649.1" text-anchor="end">15</text>
<text x="191.6" y="1463.1" text-anchor="end">20</text>
<text x="631.2" y="2285.5" text-anchor="middle">−5</text>
<text x="1178.2" y="2285.5" text-anchor="middle">0</text>
<text x="1725.2" y="2285.5" text-anchor="middle">5</text>
</g>
<path stroke="#000" stroke-width="4.6" d="M201 2184.7H215.6M201 1998.7H215.6M201 1812.7H215.6M201 1626.7H215.6M201 1440.7H215.6M631.2 2222.3V2235M1178.2 2222.3V2235M1725.2 2222.3V2235"/>
<text x="1179.2" y="2358.5" font-size="67.8" font-weight="bold" text-anchor="middle">Log2 Fold Change (BTN vs non−hemocyte tissues)</text>
<text transform="translate(100.7 1740.8) rotate(-90)" font-size="67.5" font-weight="bold" text-anchor="middle">−Log10 adj p−value</text>
<circle cx="1515.9" cy="1301.3" r="9.35"/>
<circle cx="1425.5" cy="1580.6" r="9.35"/>
<circle cx="1762.9" cy="1627.4" r="9.35"/>
<circle cx="1602.5" cy="1697.4" r="9.35"/>
<circle cx="1472.8" cy="1831.2" r="9.35"/>
<circle cx="1410.2" cy="1884.2" r="9.35"/>
<circle cx="1312.5" cy="1955.8" r="9.35"/>
<circle cx="1345.3" cy="1963.3" r="9.35"/>
<circle cx="1272.2" cy="1971.5" r="9.35"/>
<circle cx="1307.2" cy="1974.4" r="9.35"/>
<circle cx="1355.7" cy="2030.4" r="9.35"/>
<circle cx="1385.6" cy="2037.8" r="9.35"/>
<circle cx="1396" cy="2035.6" r="9.35"/>
<circle cx="1364.7" cy="2065.4" r="9.35"/>
<circle cx="1416.1" cy="2065.4" r="9.35"/>
<circle cx="1023.8" cy="2079.6" r="9.35"/>
<circle cx="1299.8" cy="2102" r="9.35"/>
<circle cx="1296.8" cy="2114.7" r="9.35"/>
<circle cx="1355.7" cy="2114.7" r="9.35"/>
<circle cx="1330.4" cy="2137.8" r="9.35"/>
<circle cx="1264" cy="2146" r="9.35"/>
<circle cx="1284.9" cy="2155.7" r="9.35"/>
<circle cx="1209.5" cy="2160.2" r="9.35"/>
<circle cx="1215.5" cy="2169.9" r="9.35"/>
<circle cx="1130.5" cy="2173.6" r="9.35"/>
<circle cx="1147.6" cy="2173.6" r="9.35"/>
<circle cx="1160.3" cy="2179.6" r="9.35"/>
<g font-size="45.5" font-weight="bold">
<text x="1533.7" y="1315">POLG</text>
<text x="1443.3" y="1597.4">POLD1</text>
<text x="1776.2" y="1641.5">POLN</text>
</g>
</svg></body></html>
